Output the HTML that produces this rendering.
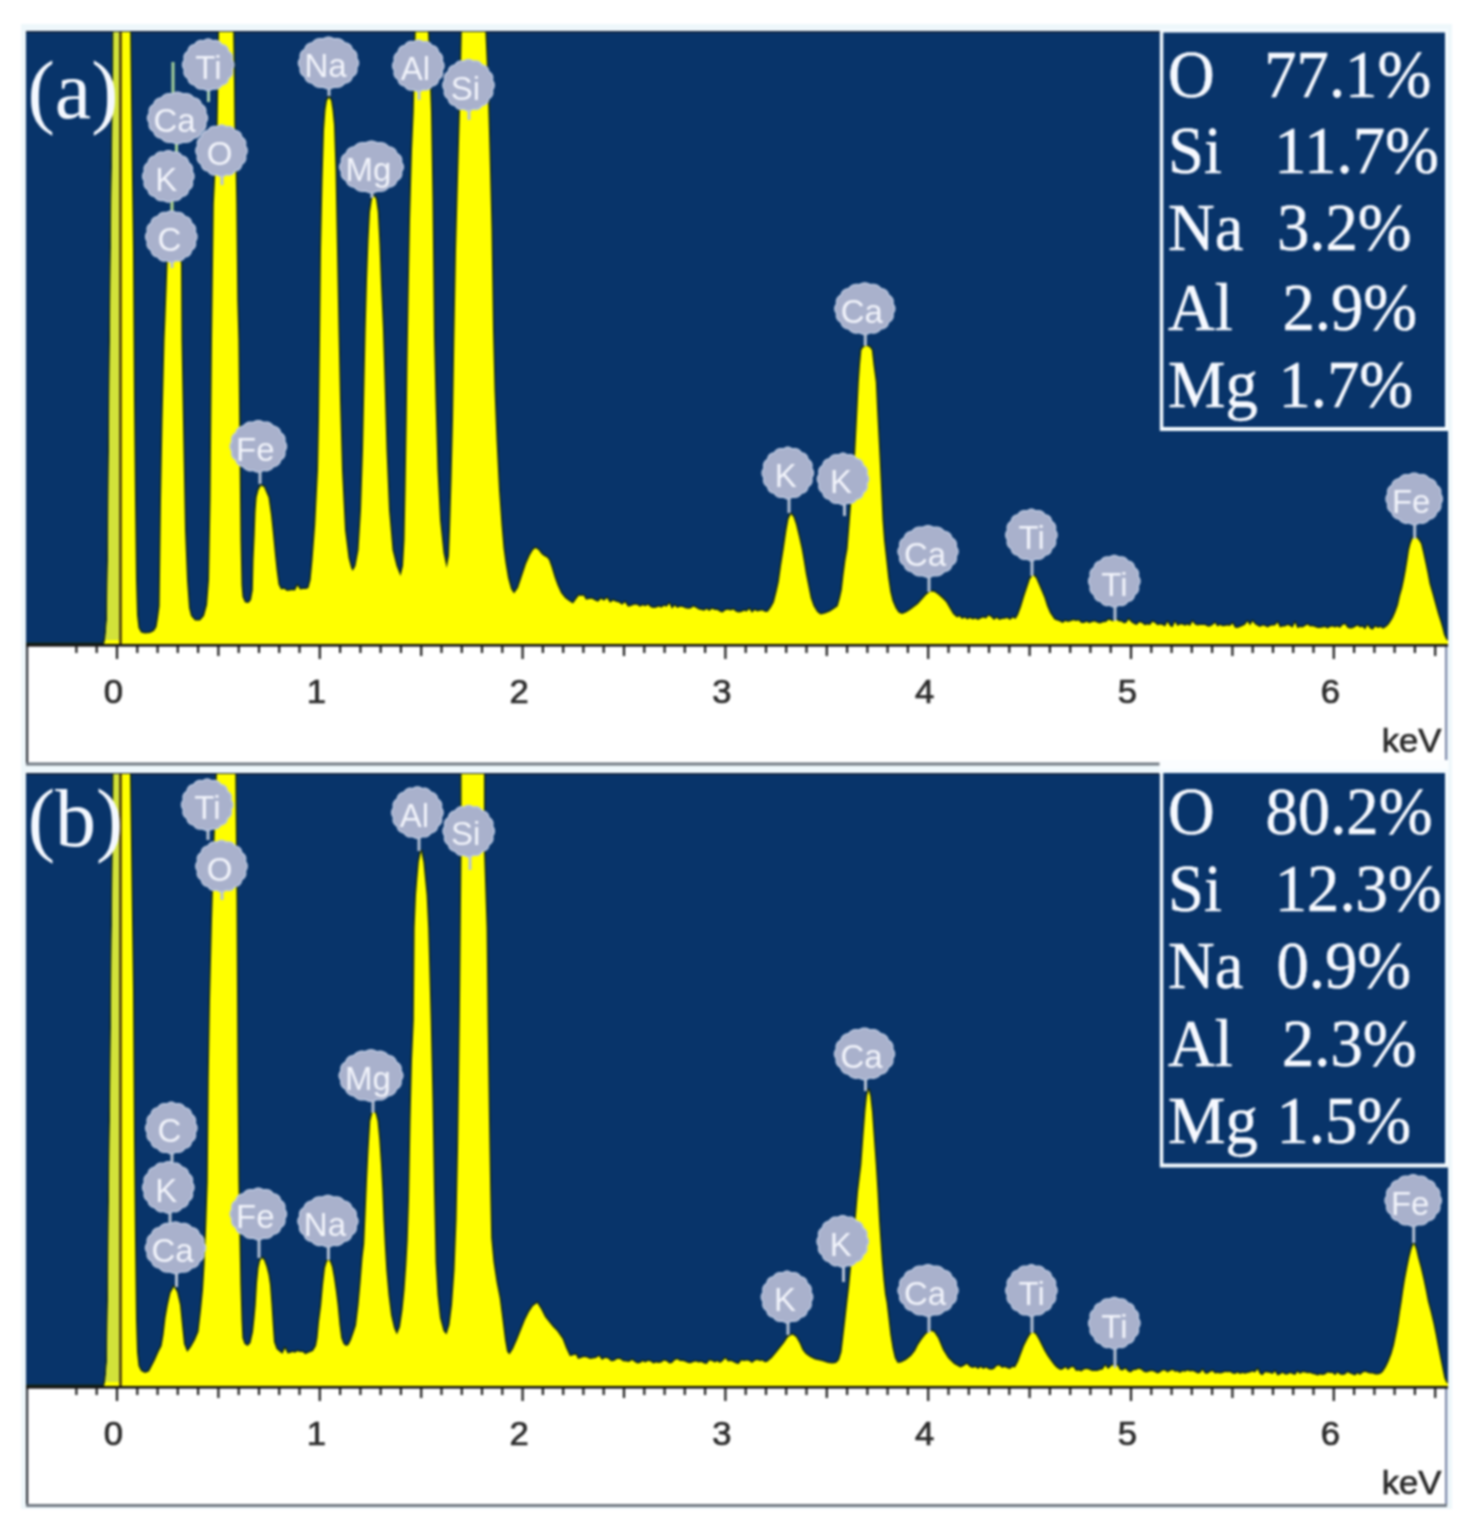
<!DOCTYPE html>
<html><head><meta charset="utf-8"><title>EDS spectra</title>
<style>html,body{margin:0;padding:0;background:#fff;} svg{display:block;filter:blur(1px);}</style>
</head><body>
<svg width="1466" height="1529" viewBox="0 0 1466 1529">
<rect width="1466" height="1529" fill="#ffffff"/>
<rect x="21" y="24" width="1431" height="743.5" fill="#eef7fb"/>
<rect x="26" y="31" width="1422" height="613" fill="#08346a"/>
<rect x="26" y="31" width="1422" height="1.6" fill="#16243c"/>
<clipPath id="ca"><rect x="26" y="32" width="1422" height="612"/></clipPath>
<g clip-path="url(#ca)">
<path d="M26.0,644.0 L104.0,644.0 L105.5,638.0 L107.0,620.0 L108.0,560.0 L109.0,450.0 L110.0,340.0 L111.5,200.0 L113.3,80.0 L113.8,0.0 L129.8,0.0 L130.8,80.0 L132.0,180.0 L133.0,250.0 L134.0,400.0 L135.0,500.0 L136.0,580.0 L137.0,615.0 L138.5,628.0 L141.0,632.5 L145.0,633.5 L150.0,633.0 L154.0,631.0 L156.5,627.0 L158.0,618.0 L159.6,606.0 L161.0,500.0 L162.5,420.0 L164.5,340.0 L165.4,319.0 L166.5,290.0 L167.5,263.0 L170.0,255.0 L174.0,252.0 L178.0,255.0 L181.0,263.0 L181.5,340.0 L183.5,450.0 L185.0,530.0 L187.0,580.0 L189.0,608.0 L191.0,616.0 L195.0,620.5 L200.0,620.5 L204.0,616.0 L207.0,605.0 L209.0,580.0 L210.5,500.0 L212.0,340.0 L213.8,204.0 L216.5,150.0 L217.6,124.0 L218.3,82.0 L219.0,30.0 L219.0,0.0 L233.2,0.0 L233.2,30.0 L234.0,82.0 L234.4,124.0 L235.3,150.0 L236.3,204.0 L237.3,300.0 L238.4,340.0 L239.5,450.0 L240.5,540.0 L241.5,585.0 L242.5,597.0 L245.0,602.5 L248.5,603.0 L251.0,600.0 L252.8,590.0 L253.5,560.0 L254.7,534.0 L255.5,512.0 L256.6,497.5 L258.5,490.0 L261.0,485.6 L264.0,487.0 L266.5,493.0 L268.5,497.5 L271.0,515.0 L273.0,534.0 L275.0,555.0 L276.7,571.0 L278.5,584.5 L281.0,589.5 L284.0,588.7 L287.0,591.0 L290.0,590.5 L292.5,590.2 L295.0,590.5 L297.5,585.5 L300.0,589.5 L303.0,589.0 L306.0,589.0 L308.5,588.0 L310.6,580.0 L312.5,560.0 L315.2,525.0 L318.0,470.0 L319.0,420.0 L320.0,340.0 L321.0,250.0 L322.5,180.0 L324.0,130.0 L325.5,110.0 L327.0,100.5 L329.0,97.5 L331.0,100.5 L332.5,110.0 L334.0,125.0 L335.5,170.0 L337.0,250.0 L338.5,330.0 L340.0,400.0 L342.0,470.0 L345.0,530.0 L348.5,558.0 L351.0,567.5 L352.7,571.0 L355.5,566.0 L358.5,550.0 L361.0,510.0 L363.0,450.0 L364.5,380.0 L365.6,330.0 L367.0,280.0 L368.5,240.0 L370.0,212.0 L372.0,199.0 L374.0,196.0 L376.0,199.0 L377.8,212.0 L379.5,245.0 L381.0,285.0 L383.0,330.0 L384.5,380.0 L386.5,450.0 L389.0,510.0 L392.5,550.0 L396.5,566.0 L400.5,576.0 L403.0,566.0 L404.5,540.0 L405.5,490.0 L406.7,420.0 L407.5,360.0 L408.5,300.0 L410.0,220.0 L412.0,150.0 L413.7,112.0 L415.7,30.0 L415.7,0.0 L428.0,0.0 L428.0,30.0 L431.0,112.0 L432.5,200.0 L434.0,337.0 L435.5,400.0 L437.5,470.0 L440.0,520.0 L443.5,553.0 L446.7,568.0 L449.0,556.0 L450.0,530.0 L451.5,480.0 L453.0,420.0 L454.3,340.0 L456.0,250.0 L458.5,160.0 L460.5,90.0 L461.8,30.0 L461.8,0.0 L485.3,0.0 L485.3,30.0 L487.5,80.0 L489.5,150.0 L491.5,230.0 L493.0,330.0 L494.5,390.0 L496.5,440.0 L499.0,490.0 L501.5,525.0 L503.5,548.0 L505.5,563.0 L508.0,578.0 L511.0,589.0 L514.0,593.5 L518.0,588.0 L522.0,576.0 L526.0,564.0 L530.0,555.0 L533.0,550.0 L535.5,548.0 L538.5,550.0 L541.5,554.0 L544.0,556.0 L547.0,557.5 L549.0,560.0 L551.5,567.0 L554.5,577.0 L557.4,585.0 L561.0,593.0 L565.0,598.0 L569.0,601.0 L573.0,603.5 L577.0,598.0 L579.0,595.4 L581.0,596.0 L583.5,595.5 L586.0,599.8 L589.0,599.0 L592.0,598.8 L595.0,600.4 L598.0,601.8 L601.0,598.7 L604.0,600.8 L607.0,598.0 L610.0,602.8 L613.0,600.4 L616.0,601.8 L619.0,602.4 L622.0,604.8 L625.0,602.2 L628.0,606.8 L631.0,606.0 L634.0,604.8 L637.0,604.8 L640.0,606.8 L642.7,605.2 L645.3,606.2 L648.0,604.8 L650.7,607.2 L653.3,607.9 L656.0,607.8 L658.7,606.5 L661.3,607.7 L664.0,605.8 L666.7,606.8 L669.3,603.5 L672.0,608.8 L674.7,605.4 L677.3,608.1 L680.0,606.8 L682.7,607.1 L685.3,608.2 L688.0,608.8 L690.7,608.5 L693.3,606.5 L696.0,607.8 L698.7,609.5 L701.3,610.1 L704.0,610.8 L706.7,609.1 L709.3,611.0 L712.0,608.8 L714.7,609.9 L717.3,609.9 L720.0,611.8 L722.7,612.6 L725.3,610.3 L728.0,609.8 L730.7,610.6 L733.3,609.6 L736.0,611.8 L738.7,612.5 L741.3,611.9 L744.0,610.8 L746.7,611.5 L749.3,608.9 L752.0,612.8 L754.7,610.0 L757.3,611.4 L760.0,610.8 L762.6,610.6 L765.2,611.9 L767.8,611.8 L771.0,607.5 L773.9,602.2 L776.5,592.0 L778.8,581.8 L781.0,566.0 L783.7,549.0 L786.5,530.0 L788.5,519.0 L791.0,514.0 L793.5,517.0 L796.0,524.5 L799.0,537.0 L801.7,549.0 L803.8,561.0 L805.8,573.6 L808.3,586.0 L810.7,598.0 L813.5,606.0 L817.2,612.0 L820.5,614.5 L825.0,613.5 L830.0,611.5 L834.5,608.5 L837.7,606.3 L840.0,598.0 L841.8,590.0 L843.5,575.0 L845.5,560.0 L847.5,549.0 L849.5,524.5 L851.0,505.0 L852.3,495.0 L853.5,487.0 L854.8,460.0 L856.1,435.0 L857.5,408.0 L858.8,382.0 L860.0,365.0 L861.4,350.0 L863.5,347.0 L866.6,346.0 L869.5,347.0 L871.8,350.0 L873.5,365.0 L875.8,382.0 L877.0,408.0 L878.4,435.0 L879.7,460.0 L881.0,487.0 L882.5,520.0 L884.0,540.0 L886.0,558.0 L888.2,578.0 L890.3,592.0 L892.5,601.0 L895.5,608.0 L898.5,612.5 L902.0,614.0 L906.0,612.5 L910.0,610.0 L914.0,607.0 L918.0,604.0 L922.0,599.5 L926.0,595.0 L929.0,592.5 L931.6,591.4 L934.5,592.0 L938.0,594.5 L942.0,598.0 L946.0,602.0 L949.5,608.0 L953.0,614.0 L957.0,617.5 L959.5,616.2 L962.0,619.0 L964.7,617.6 L967.3,619.5 L970.0,618.0 L972.7,619.6 L975.3,618.6 L978.0,620.0 L980.7,618.5 L983.3,617.4 L986.0,618.5 L988.7,615.6 L991.3,617.2 L994.0,620.0 L996.7,617.8 L999.3,620.0 L1002.0,619.0 L1004.7,618.8 L1007.3,618.1 L1010.0,620.0 L1012.8,617.6 L1015.5,619.0 L1018.0,615.0 L1021.0,607.0 L1024.0,597.0 L1027.0,588.0 L1030.0,579.0 L1033.0,575.0 L1036.0,578.0 L1039.0,585.0 L1042.0,592.0 L1044.5,598.0 L1047.0,606.0 L1050.0,613.0 L1054.4,619.5 L1060.0,621.5 L1062.7,622.9 L1065.3,620.9 L1068.0,622.0 L1070.7,621.2 L1073.3,620.2 L1076.0,621.0 L1078.7,620.6 L1081.3,622.9 L1084.0,623.0 L1086.7,621.8 L1089.3,623.3 L1092.0,622.0 L1094.7,621.6 L1097.3,622.7 L1100.0,623.5 L1103.0,622.2 L1106.0,622.0 L1108.5,619.8 L1111.0,620.5 L1113.0,621.5 L1115.0,619.5 L1117.0,619.9 L1119.0,621.5 L1121.3,621.4 L1123.7,623.3 L1126.0,623.0 L1128.7,619.5 L1131.3,622.2 L1134.0,624.0 L1136.7,625.1 L1139.3,622.3 L1142.0,623.0 L1144.7,625.2 L1147.3,624.4 L1150.0,625.0 L1152.5,621.7 L1155.0,622.9 L1157.5,625.2 L1160.0,624.5 L1162.5,624.9 L1165.0,626.4 L1167.5,622.0 L1170.0,626.0 L1172.5,627.2 L1175.0,622.1 L1177.5,626.0 L1180.0,624.5 L1182.5,624.4 L1185.0,625.8 L1187.5,624.4 L1190.0,626.0 L1192.5,621.4 L1195.0,624.6 L1197.5,625.6 L1200.0,625.0 L1202.5,625.0 L1205.0,625.1 L1207.5,626.5 L1210.0,626.5 L1212.5,624.9 L1215.0,622.9 L1217.5,626.5 L1220.0,625.0 L1222.5,626.3 L1225.0,625.9 L1227.5,625.4 L1230.0,626.0 L1232.5,623.4 L1235.0,627.8 L1237.5,628.1 L1240.0,627.0 L1242.5,625.9 L1245.0,624.7 L1247.5,621.6 L1250.0,625.5 L1252.5,621.2 L1255.0,624.2 L1257.5,625.8 L1260.0,627.0 L1262.5,625.5 L1265.0,626.1 L1267.5,627.6 L1270.0,626.0 L1272.5,625.6 L1275.0,625.5 L1277.5,622.5 L1280.0,627.5 L1282.5,626.5 L1285.0,626.6 L1287.5,625.0 L1290.0,626.0 L1292.5,627.8 L1295.0,622.7 L1297.5,628.3 L1300.0,627.0 L1302.5,627.5 L1305.0,626.0 L1307.5,624.4 L1310.0,626.5 L1312.5,626.2 L1315.0,627.1 L1317.5,628.1 L1320.0,628.0 L1322.5,627.4 L1325.0,626.9 L1327.5,628.4 L1330.0,627.0 L1332.5,626.6 L1335.0,627.6 L1337.5,626.5 L1340.0,628.0 L1342.5,624.9 L1345.0,624.3 L1347.5,627.7 L1350.0,628.5 L1352.5,628.2 L1355.0,626.9 L1357.5,625.6 L1360.0,627.5 L1362.5,626.7 L1365.0,629.6 L1367.5,625.3 L1370.0,628.5 L1372.7,629.7 L1375.3,626.4 L1378.0,628.0 L1380.5,626.9 L1383.0,628.8 L1386.0,627.0 L1388.7,624.6 L1391.0,621.0 L1393.0,617.8 L1395.5,612.0 L1398.0,605.0 L1400.0,596.0 L1402.3,588.0 L1404.0,580.0 L1405.7,571.0 L1407.5,560.0 L1409.0,550.0 L1410.5,544.0 L1412.5,538.5 L1414.2,536.5 L1416.5,537.5 L1419.0,540.5 L1421.0,543.8 L1423.0,552.0 L1425.3,562.5 L1427.5,573.0 L1429.5,583.8 L1432.5,594.0 L1435.5,605.0 L1438.0,614.0 L1440.6,622.0 L1442.5,628.5 L1444.0,634.8 L1446.0,639.0 L1448.0,641.0 L1448.0,644.0 Z" fill="#ffff00" stroke="#13291c" stroke-width="3.2" stroke-linejoin="round" paint-order="stroke"/>
<clipPath id="cas"><path d="M26.0,644.0 L104.0,644.0 L105.5,638.0 L107.0,620.0 L108.0,560.0 L109.0,450.0 L110.0,340.0 L111.5,200.0 L113.3,80.0 L113.8,0.0 L129.8,0.0 L130.8,80.0 L132.0,180.0 L133.0,250.0 L134.0,400.0 L135.0,500.0 L136.0,580.0 L137.0,615.0 L138.5,628.0 L141.0,632.5 L145.0,633.5 L150.0,633.0 L154.0,631.0 L156.5,627.0 L158.0,618.0 L159.6,606.0 L161.0,500.0 L162.5,420.0 L164.5,340.0 L165.4,319.0 L166.5,290.0 L167.5,263.0 L170.0,255.0 L174.0,252.0 L178.0,255.0 L181.0,263.0 L181.5,340.0 L183.5,450.0 L185.0,530.0 L187.0,580.0 L189.0,608.0 L191.0,616.0 L195.0,620.5 L200.0,620.5 L204.0,616.0 L207.0,605.0 L209.0,580.0 L210.5,500.0 L212.0,340.0 L213.8,204.0 L216.5,150.0 L217.6,124.0 L218.3,82.0 L219.0,30.0 L219.0,0.0 L233.2,0.0 L233.2,30.0 L234.0,82.0 L234.4,124.0 L235.3,150.0 L236.3,204.0 L237.3,300.0 L238.4,340.0 L239.5,450.0 L240.5,540.0 L241.5,585.0 L242.5,597.0 L245.0,602.5 L248.5,603.0 L251.0,600.0 L252.8,590.0 L253.5,560.0 L254.7,534.0 L255.5,512.0 L256.6,497.5 L258.5,490.0 L261.0,485.6 L264.0,487.0 L266.5,493.0 L268.5,497.5 L271.0,515.0 L273.0,534.0 L275.0,555.0 L276.7,571.0 L278.5,584.5 L281.0,589.5 L284.0,588.7 L287.0,591.0 L290.0,590.5 L292.5,590.2 L295.0,590.5 L297.5,585.5 L300.0,589.5 L303.0,589.0 L306.0,589.0 L308.5,588.0 L310.6,580.0 L312.5,560.0 L315.2,525.0 L318.0,470.0 L319.0,420.0 L320.0,340.0 L321.0,250.0 L322.5,180.0 L324.0,130.0 L325.5,110.0 L327.0,100.5 L329.0,97.5 L331.0,100.5 L332.5,110.0 L334.0,125.0 L335.5,170.0 L337.0,250.0 L338.5,330.0 L340.0,400.0 L342.0,470.0 L345.0,530.0 L348.5,558.0 L351.0,567.5 L352.7,571.0 L355.5,566.0 L358.5,550.0 L361.0,510.0 L363.0,450.0 L364.5,380.0 L365.6,330.0 L367.0,280.0 L368.5,240.0 L370.0,212.0 L372.0,199.0 L374.0,196.0 L376.0,199.0 L377.8,212.0 L379.5,245.0 L381.0,285.0 L383.0,330.0 L384.5,380.0 L386.5,450.0 L389.0,510.0 L392.5,550.0 L396.5,566.0 L400.5,576.0 L403.0,566.0 L404.5,540.0 L405.5,490.0 L406.7,420.0 L407.5,360.0 L408.5,300.0 L410.0,220.0 L412.0,150.0 L413.7,112.0 L415.7,30.0 L415.7,0.0 L428.0,0.0 L428.0,30.0 L431.0,112.0 L432.5,200.0 L434.0,337.0 L435.5,400.0 L437.5,470.0 L440.0,520.0 L443.5,553.0 L446.7,568.0 L449.0,556.0 L450.0,530.0 L451.5,480.0 L453.0,420.0 L454.3,340.0 L456.0,250.0 L458.5,160.0 L460.5,90.0 L461.8,30.0 L461.8,0.0 L485.3,0.0 L485.3,30.0 L487.5,80.0 L489.5,150.0 L491.5,230.0 L493.0,330.0 L494.5,390.0 L496.5,440.0 L499.0,490.0 L501.5,525.0 L503.5,548.0 L505.5,563.0 L508.0,578.0 L511.0,589.0 L514.0,593.5 L518.0,588.0 L522.0,576.0 L526.0,564.0 L530.0,555.0 L533.0,550.0 L535.5,548.0 L538.5,550.0 L541.5,554.0 L544.0,556.0 L547.0,557.5 L549.0,560.0 L551.5,567.0 L554.5,577.0 L557.4,585.0 L561.0,593.0 L565.0,598.0 L569.0,601.0 L573.0,603.5 L577.0,598.0 L579.0,595.4 L581.0,596.0 L583.5,595.5 L586.0,599.8 L589.0,599.0 L592.0,598.8 L595.0,600.4 L598.0,601.8 L601.0,598.7 L604.0,600.8 L607.0,598.0 L610.0,602.8 L613.0,600.4 L616.0,601.8 L619.0,602.4 L622.0,604.8 L625.0,602.2 L628.0,606.8 L631.0,606.0 L634.0,604.8 L637.0,604.8 L640.0,606.8 L642.7,605.2 L645.3,606.2 L648.0,604.8 L650.7,607.2 L653.3,607.9 L656.0,607.8 L658.7,606.5 L661.3,607.7 L664.0,605.8 L666.7,606.8 L669.3,603.5 L672.0,608.8 L674.7,605.4 L677.3,608.1 L680.0,606.8 L682.7,607.1 L685.3,608.2 L688.0,608.8 L690.7,608.5 L693.3,606.5 L696.0,607.8 L698.7,609.5 L701.3,610.1 L704.0,610.8 L706.7,609.1 L709.3,611.0 L712.0,608.8 L714.7,609.9 L717.3,609.9 L720.0,611.8 L722.7,612.6 L725.3,610.3 L728.0,609.8 L730.7,610.6 L733.3,609.6 L736.0,611.8 L738.7,612.5 L741.3,611.9 L744.0,610.8 L746.7,611.5 L749.3,608.9 L752.0,612.8 L754.7,610.0 L757.3,611.4 L760.0,610.8 L762.6,610.6 L765.2,611.9 L767.8,611.8 L771.0,607.5 L773.9,602.2 L776.5,592.0 L778.8,581.8 L781.0,566.0 L783.7,549.0 L786.5,530.0 L788.5,519.0 L791.0,514.0 L793.5,517.0 L796.0,524.5 L799.0,537.0 L801.7,549.0 L803.8,561.0 L805.8,573.6 L808.3,586.0 L810.7,598.0 L813.5,606.0 L817.2,612.0 L820.5,614.5 L825.0,613.5 L830.0,611.5 L834.5,608.5 L837.7,606.3 L840.0,598.0 L841.8,590.0 L843.5,575.0 L845.5,560.0 L847.5,549.0 L849.5,524.5 L851.0,505.0 L852.3,495.0 L853.5,487.0 L854.8,460.0 L856.1,435.0 L857.5,408.0 L858.8,382.0 L860.0,365.0 L861.4,350.0 L863.5,347.0 L866.6,346.0 L869.5,347.0 L871.8,350.0 L873.5,365.0 L875.8,382.0 L877.0,408.0 L878.4,435.0 L879.7,460.0 L881.0,487.0 L882.5,520.0 L884.0,540.0 L886.0,558.0 L888.2,578.0 L890.3,592.0 L892.5,601.0 L895.5,608.0 L898.5,612.5 L902.0,614.0 L906.0,612.5 L910.0,610.0 L914.0,607.0 L918.0,604.0 L922.0,599.5 L926.0,595.0 L929.0,592.5 L931.6,591.4 L934.5,592.0 L938.0,594.5 L942.0,598.0 L946.0,602.0 L949.5,608.0 L953.0,614.0 L957.0,617.5 L959.5,616.2 L962.0,619.0 L964.7,617.6 L967.3,619.5 L970.0,618.0 L972.7,619.6 L975.3,618.6 L978.0,620.0 L980.7,618.5 L983.3,617.4 L986.0,618.5 L988.7,615.6 L991.3,617.2 L994.0,620.0 L996.7,617.8 L999.3,620.0 L1002.0,619.0 L1004.7,618.8 L1007.3,618.1 L1010.0,620.0 L1012.8,617.6 L1015.5,619.0 L1018.0,615.0 L1021.0,607.0 L1024.0,597.0 L1027.0,588.0 L1030.0,579.0 L1033.0,575.0 L1036.0,578.0 L1039.0,585.0 L1042.0,592.0 L1044.5,598.0 L1047.0,606.0 L1050.0,613.0 L1054.4,619.5 L1060.0,621.5 L1062.7,622.9 L1065.3,620.9 L1068.0,622.0 L1070.7,621.2 L1073.3,620.2 L1076.0,621.0 L1078.7,620.6 L1081.3,622.9 L1084.0,623.0 L1086.7,621.8 L1089.3,623.3 L1092.0,622.0 L1094.7,621.6 L1097.3,622.7 L1100.0,623.5 L1103.0,622.2 L1106.0,622.0 L1108.5,619.8 L1111.0,620.5 L1113.0,621.5 L1115.0,619.5 L1117.0,619.9 L1119.0,621.5 L1121.3,621.4 L1123.7,623.3 L1126.0,623.0 L1128.7,619.5 L1131.3,622.2 L1134.0,624.0 L1136.7,625.1 L1139.3,622.3 L1142.0,623.0 L1144.7,625.2 L1147.3,624.4 L1150.0,625.0 L1152.5,621.7 L1155.0,622.9 L1157.5,625.2 L1160.0,624.5 L1162.5,624.9 L1165.0,626.4 L1167.5,622.0 L1170.0,626.0 L1172.5,627.2 L1175.0,622.1 L1177.5,626.0 L1180.0,624.5 L1182.5,624.4 L1185.0,625.8 L1187.5,624.4 L1190.0,626.0 L1192.5,621.4 L1195.0,624.6 L1197.5,625.6 L1200.0,625.0 L1202.5,625.0 L1205.0,625.1 L1207.5,626.5 L1210.0,626.5 L1212.5,624.9 L1215.0,622.9 L1217.5,626.5 L1220.0,625.0 L1222.5,626.3 L1225.0,625.9 L1227.5,625.4 L1230.0,626.0 L1232.5,623.4 L1235.0,627.8 L1237.5,628.1 L1240.0,627.0 L1242.5,625.9 L1245.0,624.7 L1247.5,621.6 L1250.0,625.5 L1252.5,621.2 L1255.0,624.2 L1257.5,625.8 L1260.0,627.0 L1262.5,625.5 L1265.0,626.1 L1267.5,627.6 L1270.0,626.0 L1272.5,625.6 L1275.0,625.5 L1277.5,622.5 L1280.0,627.5 L1282.5,626.5 L1285.0,626.6 L1287.5,625.0 L1290.0,626.0 L1292.5,627.8 L1295.0,622.7 L1297.5,628.3 L1300.0,627.0 L1302.5,627.5 L1305.0,626.0 L1307.5,624.4 L1310.0,626.5 L1312.5,626.2 L1315.0,627.1 L1317.5,628.1 L1320.0,628.0 L1322.5,627.4 L1325.0,626.9 L1327.5,628.4 L1330.0,627.0 L1332.5,626.6 L1335.0,627.6 L1337.5,626.5 L1340.0,628.0 L1342.5,624.9 L1345.0,624.3 L1347.5,627.7 L1350.0,628.5 L1352.5,628.2 L1355.0,626.9 L1357.5,625.6 L1360.0,627.5 L1362.5,626.7 L1365.0,629.6 L1367.5,625.3 L1370.0,628.5 L1372.7,629.7 L1375.3,626.4 L1378.0,628.0 L1380.5,626.9 L1383.0,628.8 L1386.0,627.0 L1388.7,624.6 L1391.0,621.0 L1393.0,617.8 L1395.5,612.0 L1398.0,605.0 L1400.0,596.0 L1402.3,588.0 L1404.0,580.0 L1405.7,571.0 L1407.5,560.0 L1409.0,550.0 L1410.5,544.0 L1412.5,538.5 L1414.2,536.5 L1416.5,537.5 L1419.0,540.5 L1421.0,543.8 L1423.0,552.0 L1425.3,562.5 L1427.5,573.0 L1429.5,583.8 L1432.5,594.0 L1435.5,605.0 L1438.0,614.0 L1440.6,622.0 L1442.5,628.5 L1444.0,634.8 L1446.0,639.0 L1448.0,641.0 L1448.0,644.0 Z"/></clipPath>
<rect x="100" y="31" width="19.5" height="609" fill="#d2e23a" clip-path="url(#cas)"/>
<rect x="119.3" y="31" width="2.4" height="613" fill="#3a2a10"/>
</g>
<g fill="none" stroke="#b6c2d4" stroke-width="3">
<line x1="173" y1="62" x2="173" y2="93" stroke="#a6d29a"/>
<line x1="208.5" y1="88" x2="208.5" y2="102" stroke="#a8cfb0"/>
<line x1="176.5" y1="141" x2="176.5" y2="153" stroke="#a6d29a"/>
<line x1="172" y1="199" x2="172" y2="213" stroke="#b4d890"/>
<line x1="172" y1="261" x2="172" y2="268"/>
<line x1="222" y1="175" x2="222" y2="185"/>
<line x1="329" y1="87" x2="329" y2="96"/>
<line x1="372" y1="191" x2="372" y2="198"/>
<line x1="419" y1="90" x2="419" y2="100"/>
<line x1="469" y1="109" x2="469" y2="120"/>
<line x1="260" y1="470" x2="260" y2="484"/>
<line x1="865.3" y1="333" x2="865.3" y2="346"/>
<line x1="789" y1="497" x2="789" y2="513"/>
<line x1="844.5" y1="503" x2="844.5" y2="516"/>
<line x1="929" y1="575" x2="929" y2="592"/>
<line x1="1032" y1="559" x2="1032" y2="576"/>
<line x1="1115" y1="605" x2="1115" y2="621"/>
<line x1="1414.7" y1="523" x2="1414.7" y2="539"/>
</g>
<g fill="#a9b1cc" stroke="#b9c6df" stroke-width="1.6">
<path d="M233.8,64.8 L233.7,65.8 L233.5,66.8 L233.1,67.8 L232.6,68.7 L232.0,69.6 L232.2,70.6 L232.3,71.6 L232.3,72.6 L232.2,73.7 L231.9,74.6 L231.4,75.5 L230.8,76.3 L230.1,77.1 L229.3,77.7 L228.4,78.3 L228.2,79.3 L227.9,80.3 L227.5,81.3 L227.0,82.2 L226.3,82.9 L225.5,83.6 L224.7,84.1 L223.7,84.5 L222.7,84.8 L221.7,85.0 L221.1,85.9 L220.4,86.7 L219.7,87.4 L218.9,88.0 L218.0,88.5 L217.0,88.8 L216.0,89.0 L215.0,89.0 L214.0,88.9 L212.9,88.7 L212.1,89.2 L211.1,89.7 L210.2,90.1 L209.2,90.4 L208.2,90.4 L207.2,90.4 L206.2,90.1 L205.3,89.7 L204.3,89.2 L203.5,88.7 L202.4,88.9 L201.4,89.0 L200.4,89.0 L199.4,88.8 L198.4,88.5 L197.5,88.0 L196.7,87.4 L196.0,86.7 L195.3,85.9 L194.7,85.0 L193.7,84.8 L192.7,84.5 L191.7,84.1 L190.9,83.6 L190.1,82.9 L189.4,82.2 L188.9,81.3 L188.5,80.3 L188.2,79.3 L188.0,78.3 L187.1,77.7 L186.3,77.1 L185.6,76.3 L185.0,75.5 L184.5,74.6 L184.2,73.7 L184.1,72.6 L184.1,71.6 L184.2,70.6 L184.4,69.6 L183.8,68.7 L183.3,67.8 L182.9,66.8 L182.7,65.8 L182.6,64.8 L182.7,63.8 L182.9,62.8 L183.3,61.8 L183.8,60.9 L184.4,60.0 L184.2,59.0 L184.1,58.0 L184.1,57.0 L184.2,55.9 L184.5,55.0 L185.0,54.1 L185.6,53.3 L186.3,52.5 L187.1,51.9 L188.0,51.3 L188.2,50.3 L188.5,49.3 L188.9,48.3 L189.4,47.4 L190.1,46.7 L190.9,46.0 L191.7,45.5 L192.7,45.1 L193.7,44.8 L194.7,44.6 L195.3,43.7 L196.0,42.9 L196.7,42.2 L197.5,41.6 L198.4,41.1 L199.4,40.8 L200.4,40.6 L201.4,40.6 L202.4,40.7 L203.5,40.9 L204.3,40.4 L205.3,39.9 L206.2,39.5 L207.2,39.2 L208.2,39.1 L209.2,39.2 L210.2,39.5 L211.1,39.9 L212.1,40.4 L212.9,40.9 L214.0,40.7 L215.0,40.6 L216.0,40.6 L217.0,40.8 L218.0,41.1 L218.9,41.6 L219.7,42.2 L220.4,42.9 L221.1,43.7 L221.7,44.6 L222.7,44.8 L223.7,45.1 L224.7,45.5 L225.5,46.0 L226.3,46.7 L227.0,47.4 L227.5,48.3 L227.9,49.3 L228.2,50.3 L228.4,51.3 L229.3,51.9 L230.1,52.5 L230.8,53.3 L231.4,54.1 L231.9,55.0 L232.2,55.9 L232.3,57.0 L232.3,58.0 L232.2,59.0 L232.0,60.0 L232.6,60.9 L233.1,61.8 L233.5,62.8 L233.7,63.8 Z"/>
<path d="M207.4,118.0 L207.4,119.0 L207.1,120.0 L206.7,121.0 L206.2,121.9 L205.6,122.8 L205.7,123.8 L205.8,124.8 L205.7,125.8 L205.5,126.9 L205.2,127.8 L204.6,128.7 L204.0,129.5 L203.2,130.3 L202.3,130.9 L201.3,131.5 L201.0,132.5 L200.6,133.5 L200.1,134.5 L199.4,135.4 L198.7,136.1 L197.8,136.8 L196.8,137.3 L195.7,137.7 L194.6,138.0 L193.4,138.2 L192.7,139.1 L191.9,139.9 L191.0,140.6 L190.0,141.2 L189.0,141.7 L187.8,142.0 L186.7,142.2 L185.5,142.2 L184.3,142.1 L183.1,141.9 L182.0,142.4 L181.0,142.9 L179.8,143.3 L178.7,143.6 L177.5,143.7 L176.3,143.6 L175.2,143.3 L174.0,142.9 L173.0,142.4 L171.9,141.9 L170.7,142.1 L169.5,142.2 L168.3,142.2 L167.2,142.0 L166.0,141.7 L165.0,141.2 L164.0,140.6 L163.1,139.9 L162.3,139.1 L161.6,138.2 L160.4,138.0 L159.3,137.7 L158.2,137.3 L157.2,136.8 L156.3,136.1 L155.6,135.4 L154.9,134.5 L154.4,133.5 L154.0,132.5 L153.7,131.5 L152.7,130.9 L151.8,130.3 L151.0,129.5 L150.4,128.7 L149.8,127.8 L149.5,126.9 L149.3,125.8 L149.2,124.8 L149.3,123.8 L149.4,122.8 L148.8,121.9 L148.3,121.0 L147.9,120.0 L147.6,119.0 L147.6,118.0 L147.6,117.0 L147.9,116.0 L148.3,115.0 L148.8,114.1 L149.4,113.2 L149.3,112.2 L149.2,111.2 L149.3,110.2 L149.5,109.1 L149.8,108.2 L150.4,107.3 L151.0,106.5 L151.8,105.7 L152.7,105.1 L153.7,104.5 L154.0,103.5 L154.4,102.5 L154.9,101.5 L155.6,100.6 L156.3,99.9 L157.2,99.2 L158.2,98.7 L159.3,98.3 L160.4,98.0 L161.6,97.8 L162.3,96.9 L163.1,96.1 L164.0,95.4 L165.0,94.8 L166.0,94.3 L167.2,94.0 L168.3,93.8 L169.5,93.8 L170.7,93.9 L171.9,94.1 L173.0,93.6 L174.0,93.1 L175.2,92.7 L176.3,92.4 L177.5,92.3 L178.7,92.4 L179.8,92.7 L181.0,93.1 L182.0,93.6 L183.1,94.1 L184.3,93.9 L185.5,93.8 L186.7,93.8 L187.8,94.0 L189.0,94.3 L190.0,94.8 L191.0,95.4 L191.9,96.1 L192.7,96.9 L193.4,97.8 L194.6,98.0 L195.7,98.3 L196.8,98.7 L197.8,99.2 L198.7,99.9 L199.4,100.6 L200.1,101.5 L200.6,102.5 L201.0,103.5 L201.3,104.5 L202.3,105.1 L203.2,105.7 L204.0,106.5 L204.6,107.3 L205.2,108.2 L205.5,109.1 L205.7,110.2 L205.8,111.2 L205.7,112.2 L205.6,113.2 L206.2,114.1 L206.7,115.0 L207.1,116.0 L207.4,117.0 Z"/>
<path d="M247.1,150.7 L247.0,151.7 L246.8,152.7 L246.4,153.7 L245.9,154.6 L245.3,155.5 L245.5,156.5 L245.6,157.5 L245.6,158.5 L245.5,159.6 L245.2,160.5 L244.7,161.4 L244.1,162.2 L243.4,163.0 L242.6,163.6 L241.7,164.2 L241.5,165.2 L241.2,166.2 L240.8,167.2 L240.3,168.1 L239.6,168.8 L238.8,169.5 L238.0,170.0 L237.0,170.4 L236.0,170.7 L235.0,170.9 L234.4,171.8 L233.7,172.6 L233.0,173.3 L232.2,173.9 L231.3,174.4 L230.3,174.7 L229.3,174.9 L228.3,174.9 L227.3,174.8 L226.2,174.6 L225.4,175.1 L224.4,175.6 L223.5,176.0 L222.5,176.3 L221.5,176.3 L220.5,176.3 L219.5,176.0 L218.6,175.6 L217.6,175.1 L216.8,174.6 L215.7,174.8 L214.7,174.9 L213.7,174.9 L212.7,174.7 L211.7,174.4 L210.8,173.9 L210.0,173.3 L209.3,172.6 L208.6,171.8 L208.0,170.9 L207.0,170.7 L206.0,170.4 L205.0,170.0 L204.2,169.5 L203.4,168.8 L202.7,168.1 L202.2,167.2 L201.8,166.2 L201.5,165.2 L201.3,164.2 L200.4,163.6 L199.6,163.0 L198.9,162.2 L198.3,161.4 L197.8,160.5 L197.5,159.6 L197.4,158.5 L197.4,157.5 L197.5,156.5 L197.7,155.5 L197.1,154.6 L196.6,153.7 L196.2,152.7 L196.0,151.7 L195.9,150.7 L196.0,149.7 L196.2,148.7 L196.6,147.7 L197.1,146.8 L197.7,145.9 L197.5,144.9 L197.4,143.9 L197.4,142.9 L197.5,141.8 L197.8,140.9 L198.3,140.0 L198.9,139.2 L199.6,138.4 L200.4,137.8 L201.3,137.2 L201.5,136.2 L201.8,135.2 L202.2,134.2 L202.7,133.3 L203.4,132.6 L204.2,131.9 L205.0,131.4 L206.0,131.0 L207.0,130.7 L208.0,130.5 L208.6,129.6 L209.3,128.8 L210.0,128.1 L210.8,127.5 L211.7,127.0 L212.7,126.7 L213.7,126.5 L214.7,126.5 L215.7,126.6 L216.8,126.8 L217.6,126.3 L218.6,125.8 L219.5,125.4 L220.5,125.1 L221.5,125.0 L222.5,125.1 L223.5,125.4 L224.4,125.8 L225.4,126.3 L226.2,126.8 L227.3,126.6 L228.3,126.5 L229.3,126.5 L230.3,126.7 L231.3,127.0 L232.2,127.5 L233.0,128.1 L233.7,128.8 L234.4,129.6 L235.0,130.5 L236.0,130.7 L237.0,131.0 L238.0,131.4 L238.8,131.9 L239.6,132.6 L240.3,133.3 L240.8,134.2 L241.2,135.2 L241.5,136.2 L241.7,137.2 L242.6,137.8 L243.4,138.4 L244.1,139.2 L244.7,140.0 L245.2,140.9 L245.5,141.8 L245.6,142.9 L245.6,143.9 L245.5,144.9 L245.3,145.9 L245.9,146.8 L246.4,147.7 L246.8,148.7 L247.0,149.7 Z"/>
<path d="M193.9,176.3 L193.8,177.3 L193.6,178.3 L193.2,179.3 L192.7,180.2 L192.1,181.1 L192.3,182.1 L192.4,183.1 L192.4,184.1 L192.3,185.2 L192.0,186.1 L191.5,187.0 L190.9,187.8 L190.2,188.6 L189.4,189.2 L188.5,189.8 L188.3,190.8 L188.0,191.8 L187.6,192.8 L187.1,193.7 L186.4,194.4 L185.6,195.1 L184.8,195.6 L183.8,196.0 L182.8,196.3 L181.8,196.5 L181.2,197.4 L180.5,198.2 L179.8,198.9 L179.0,199.5 L178.1,200.0 L177.1,200.3 L176.1,200.5 L175.1,200.5 L174.1,200.4 L173.0,200.2 L172.2,200.7 L171.2,201.2 L170.3,201.6 L169.3,201.9 L168.3,202.0 L167.3,201.9 L166.3,201.6 L165.4,201.2 L164.4,200.7 L163.6,200.2 L162.5,200.4 L161.5,200.5 L160.5,200.5 L159.5,200.3 L158.5,200.0 L157.6,199.5 L156.8,198.9 L156.1,198.2 L155.4,197.4 L154.8,196.5 L153.8,196.3 L152.8,196.0 L151.8,195.6 L151.0,195.1 L150.2,194.4 L149.5,193.7 L149.0,192.8 L148.6,191.8 L148.3,190.8 L148.1,189.8 L147.2,189.2 L146.4,188.6 L145.7,187.8 L145.1,187.0 L144.6,186.1 L144.3,185.2 L144.2,184.1 L144.2,183.1 L144.3,182.1 L144.5,181.1 L143.9,180.2 L143.4,179.3 L143.0,178.3 L142.8,177.3 L142.7,176.3 L142.8,175.3 L143.0,174.3 L143.4,173.3 L143.9,172.4 L144.5,171.5 L144.3,170.5 L144.2,169.5 L144.2,168.5 L144.3,167.4 L144.6,166.5 L145.1,165.6 L145.7,164.8 L146.4,164.0 L147.2,163.4 L148.1,162.8 L148.3,161.8 L148.6,160.8 L149.0,159.8 L149.5,158.9 L150.2,158.2 L151.0,157.5 L151.8,157.0 L152.8,156.6 L153.8,156.3 L154.8,156.1 L155.4,155.2 L156.1,154.4 L156.8,153.7 L157.6,153.1 L158.5,152.6 L159.5,152.3 L160.5,152.1 L161.5,152.1 L162.5,152.2 L163.6,152.4 L164.4,151.9 L165.4,151.4 L166.3,151.0 L167.3,150.7 L168.3,150.7 L169.3,150.7 L170.3,151.0 L171.2,151.4 L172.2,151.9 L173.0,152.4 L174.1,152.2 L175.1,152.1 L176.1,152.1 L177.1,152.3 L178.1,152.6 L179.0,153.1 L179.8,153.7 L180.5,154.4 L181.2,155.2 L181.8,156.1 L182.8,156.3 L183.8,156.6 L184.8,157.0 L185.6,157.5 L186.4,158.2 L187.1,158.9 L187.6,159.8 L188.0,160.8 L188.3,161.8 L188.5,162.8 L189.4,163.4 L190.2,164.0 L190.9,164.8 L191.5,165.6 L192.0,166.5 L192.3,167.4 L192.4,168.5 L192.4,169.5 L192.3,170.5 L192.1,171.5 L192.7,172.4 L193.2,173.3 L193.6,174.3 L193.8,175.3 Z"/>
<path d="M196.9,236.7 L196.8,237.7 L196.6,238.7 L196.2,239.7 L195.7,240.6 L195.1,241.5 L195.3,242.5 L195.4,243.5 L195.4,244.5 L195.3,245.6 L195.0,246.5 L194.5,247.4 L193.9,248.2 L193.2,249.0 L192.4,249.6 L191.5,250.2 L191.3,251.2 L191.0,252.2 L190.6,253.2 L190.1,254.1 L189.4,254.8 L188.6,255.5 L187.8,256.0 L186.8,256.4 L185.8,256.7 L184.8,256.9 L184.2,257.8 L183.5,258.6 L182.8,259.3 L182.0,259.9 L181.1,260.4 L180.1,260.7 L179.1,260.9 L178.1,260.9 L177.1,260.8 L176.0,260.6 L175.2,261.1 L174.2,261.6 L173.3,262.0 L172.3,262.3 L171.3,262.3 L170.3,262.3 L169.3,262.0 L168.4,261.6 L167.4,261.1 L166.6,260.6 L165.5,260.8 L164.5,260.9 L163.5,260.9 L162.5,260.7 L161.5,260.4 L160.6,259.9 L159.8,259.3 L159.1,258.6 L158.4,257.8 L157.8,256.9 L156.8,256.7 L155.8,256.4 L154.8,256.0 L154.0,255.5 L153.2,254.8 L152.5,254.1 L152.0,253.2 L151.6,252.2 L151.3,251.2 L151.1,250.2 L150.2,249.6 L149.4,249.0 L148.7,248.2 L148.1,247.4 L147.6,246.5 L147.3,245.6 L147.2,244.5 L147.2,243.5 L147.3,242.5 L147.5,241.5 L146.9,240.6 L146.4,239.7 L146.0,238.7 L145.8,237.7 L145.7,236.7 L145.8,235.7 L146.0,234.7 L146.4,233.7 L146.9,232.8 L147.5,231.9 L147.3,230.9 L147.2,229.9 L147.2,228.9 L147.3,227.8 L147.6,226.9 L148.1,226.0 L148.7,225.2 L149.4,224.4 L150.2,223.8 L151.1,223.2 L151.3,222.2 L151.6,221.2 L152.0,220.2 L152.5,219.3 L153.2,218.6 L154.0,217.9 L154.8,217.4 L155.8,217.0 L156.8,216.7 L157.8,216.5 L158.4,215.6 L159.1,214.8 L159.8,214.1 L160.6,213.5 L161.5,213.0 L162.5,212.7 L163.5,212.5 L164.5,212.5 L165.5,212.6 L166.6,212.8 L167.4,212.3 L168.4,211.8 L169.3,211.4 L170.3,211.1 L171.3,211.0 L172.3,211.1 L173.3,211.4 L174.2,211.8 L175.2,212.3 L176.0,212.8 L177.1,212.6 L178.1,212.5 L179.1,212.5 L180.1,212.7 L181.1,213.0 L182.0,213.5 L182.8,214.1 L183.5,214.8 L184.2,215.6 L184.8,216.5 L185.8,216.7 L186.8,217.0 L187.8,217.4 L188.6,217.9 L189.4,218.6 L190.1,219.3 L190.6,220.2 L191.0,221.2 L191.3,222.2 L191.5,223.2 L192.4,223.8 L193.2,224.4 L193.9,225.2 L194.5,226.0 L195.0,226.9 L195.3,227.8 L195.4,228.9 L195.4,229.9 L195.3,230.9 L195.1,231.9 L195.7,232.8 L196.2,233.7 L196.6,234.7 L196.8,235.7 Z"/>
<path d="M358.4,63.0 L358.4,64.0 L358.1,65.0 L357.7,66.0 L357.2,66.9 L356.6,67.8 L356.7,68.8 L356.8,69.8 L356.7,70.8 L356.5,71.9 L356.2,72.8 L355.6,73.7 L355.0,74.5 L354.2,75.3 L353.3,75.9 L352.3,76.5 L352.0,77.5 L351.6,78.5 L351.1,79.5 L350.4,80.4 L349.7,81.1 L348.8,81.8 L347.8,82.3 L346.7,82.7 L345.6,83.0 L344.4,83.2 L343.7,84.1 L342.9,84.9 L342.0,85.6 L341.0,86.2 L340.0,86.7 L338.8,87.0 L337.7,87.2 L336.5,87.2 L335.3,87.1 L334.1,86.9 L333.0,87.4 L332.0,87.9 L330.8,88.3 L329.7,88.6 L328.5,88.7 L327.3,88.6 L326.2,88.3 L325.0,87.9 L324.0,87.4 L322.9,86.9 L321.7,87.1 L320.5,87.2 L319.3,87.2 L318.2,87.0 L317.0,86.7 L316.0,86.2 L315.0,85.6 L314.1,84.9 L313.3,84.1 L312.6,83.2 L311.4,83.0 L310.3,82.7 L309.2,82.3 L308.2,81.8 L307.3,81.1 L306.6,80.4 L305.9,79.5 L305.4,78.5 L305.0,77.5 L304.7,76.5 L303.7,75.9 L302.8,75.3 L302.0,74.5 L301.4,73.7 L300.8,72.8 L300.5,71.9 L300.3,70.8 L300.2,69.8 L300.3,68.8 L300.4,67.8 L299.8,66.9 L299.3,66.0 L298.9,65.0 L298.6,64.0 L298.6,63.0 L298.6,62.0 L298.9,61.0 L299.3,60.0 L299.8,59.1 L300.4,58.2 L300.3,57.2 L300.2,56.2 L300.3,55.2 L300.5,54.1 L300.8,53.2 L301.4,52.3 L302.0,51.5 L302.8,50.7 L303.7,50.1 L304.7,49.5 L305.0,48.5 L305.4,47.5 L305.9,46.5 L306.6,45.6 L307.3,44.9 L308.2,44.2 L309.2,43.7 L310.3,43.3 L311.4,43.0 L312.6,42.8 L313.3,41.9 L314.1,41.1 L315.0,40.4 L316.0,39.8 L317.0,39.3 L318.2,39.0 L319.3,38.8 L320.5,38.8 L321.7,38.9 L322.9,39.1 L324.0,38.6 L325.0,38.1 L326.2,37.7 L327.3,37.4 L328.5,37.4 L329.7,37.4 L330.8,37.7 L332.0,38.1 L333.0,38.6 L334.1,39.1 L335.3,38.9 L336.5,38.8 L337.7,38.8 L338.8,39.0 L340.0,39.3 L341.0,39.8 L342.0,40.4 L342.9,41.1 L343.7,41.9 L344.4,42.8 L345.6,43.0 L346.7,43.3 L347.8,43.7 L348.8,44.2 L349.7,44.9 L350.4,45.6 L351.1,46.5 L351.6,47.5 L352.0,48.5 L352.3,49.5 L353.3,50.1 L354.2,50.7 L355.0,51.5 L355.6,52.3 L356.2,53.2 L356.5,54.1 L356.7,55.2 L356.8,56.2 L356.7,57.2 L356.6,58.2 L357.2,59.1 L357.7,60.0 L358.1,61.0 L358.4,62.0 Z"/>
<path d="M403.3,167.0 L403.2,168.0 L402.9,169.0 L402.5,170.0 L402.0,170.9 L401.4,171.8 L401.5,172.8 L401.6,173.8 L401.5,174.8 L401.2,175.9 L400.9,176.8 L400.3,177.7 L399.6,178.5 L398.8,179.3 L397.8,179.9 L396.8,180.5 L396.5,181.5 L396.0,182.5 L395.5,183.5 L394.8,184.4 L394.0,185.1 L393.0,185.8 L392.0,186.3 L390.8,186.7 L389.6,187.0 L388.4,187.2 L387.6,188.1 L386.8,188.9 L385.8,189.6 L384.8,190.2 L383.7,190.7 L382.5,191.0 L381.2,191.2 L380.0,191.2 L378.7,191.1 L377.4,190.9 L376.3,191.4 L375.2,191.9 L374.0,192.3 L372.7,192.6 L371.5,192.7 L370.3,192.6 L369.0,192.3 L367.8,191.9 L366.7,191.4 L365.6,190.9 L364.3,191.1 L363.0,191.2 L361.8,191.2 L360.5,191.0 L359.3,190.7 L358.2,190.2 L357.2,189.6 L356.2,188.9 L355.4,188.1 L354.6,187.2 L353.4,187.0 L352.2,186.7 L351.0,186.3 L350.0,185.8 L349.0,185.1 L348.2,184.4 L347.5,183.5 L347.0,182.5 L346.5,181.5 L346.2,180.5 L345.2,179.9 L344.2,179.3 L343.4,178.5 L342.7,177.7 L342.1,176.8 L341.8,175.9 L341.5,174.8 L341.4,173.8 L341.5,172.8 L341.6,171.8 L341.0,170.9 L340.5,170.0 L340.1,169.0 L339.8,168.0 L339.7,167.0 L339.8,166.0 L340.1,165.0 L340.5,164.0 L341.0,163.1 L341.6,162.2 L341.5,161.2 L341.4,160.2 L341.5,159.2 L341.8,158.1 L342.1,157.2 L342.7,156.3 L343.4,155.5 L344.2,154.7 L345.2,154.1 L346.2,153.5 L346.5,152.5 L347.0,151.5 L347.5,150.5 L348.2,149.6 L349.0,148.9 L350.0,148.2 L351.0,147.7 L352.2,147.3 L353.4,147.0 L354.6,146.8 L355.4,145.9 L356.2,145.1 L357.2,144.4 L358.2,143.8 L359.3,143.3 L360.5,143.0 L361.8,142.8 L363.0,142.8 L364.3,142.9 L365.6,143.1 L366.7,142.6 L367.8,142.1 L369.0,141.7 L370.3,141.4 L371.5,141.3 L372.7,141.4 L374.0,141.7 L375.2,142.1 L376.3,142.6 L377.4,143.1 L378.7,142.9 L380.0,142.8 L381.2,142.8 L382.5,143.0 L383.7,143.3 L384.8,143.8 L385.8,144.4 L386.8,145.1 L387.6,145.9 L388.4,146.8 L389.6,147.0 L390.8,147.3 L392.0,147.7 L393.0,148.2 L394.0,148.9 L394.8,149.6 L395.5,150.5 L396.0,151.5 L396.5,152.5 L396.8,153.5 L397.8,154.1 L398.8,154.7 L399.6,155.5 L400.3,156.3 L400.9,157.2 L401.2,158.1 L401.5,159.2 L401.6,160.2 L401.5,161.2 L401.4,162.2 L402.0,163.1 L402.5,164.0 L402.9,165.0 L403.2,166.0 Z"/>
<path d="M443.9,65.8 L443.8,66.8 L443.6,67.8 L443.2,68.8 L442.7,69.7 L442.1,70.6 L442.3,71.6 L442.4,72.6 L442.4,73.6 L442.3,74.7 L442.0,75.6 L441.5,76.5 L440.9,77.3 L440.2,78.1 L439.4,78.7 L438.5,79.3 L438.3,80.3 L438.0,81.3 L437.6,82.3 L437.1,83.2 L436.4,83.9 L435.6,84.6 L434.8,85.1 L433.8,85.5 L432.8,85.8 L431.8,86.0 L431.2,86.9 L430.5,87.7 L429.8,88.4 L429.0,89.0 L428.1,89.5 L427.1,89.8 L426.1,90.0 L425.1,90.0 L424.1,89.9 L423.0,89.7 L422.2,90.2 L421.2,90.7 L420.3,91.1 L419.3,91.4 L418.3,91.4 L417.3,91.4 L416.3,91.1 L415.4,90.7 L414.4,90.2 L413.6,89.7 L412.5,89.9 L411.5,90.0 L410.5,90.0 L409.5,89.8 L408.5,89.5 L407.6,89.0 L406.8,88.4 L406.1,87.7 L405.4,86.9 L404.8,86.0 L403.8,85.8 L402.8,85.5 L401.8,85.1 L401.0,84.6 L400.2,83.9 L399.5,83.2 L399.0,82.3 L398.6,81.3 L398.3,80.3 L398.1,79.3 L397.2,78.7 L396.4,78.1 L395.7,77.3 L395.1,76.5 L394.6,75.6 L394.3,74.7 L394.2,73.6 L394.2,72.6 L394.3,71.6 L394.5,70.6 L393.9,69.7 L393.4,68.8 L393.0,67.8 L392.8,66.8 L392.7,65.8 L392.8,64.8 L393.0,63.8 L393.4,62.8 L393.9,61.9 L394.5,61.0 L394.3,60.0 L394.2,59.0 L394.2,58.0 L394.3,56.9 L394.6,56.0 L395.1,55.1 L395.7,54.3 L396.4,53.5 L397.2,52.9 L398.1,52.3 L398.3,51.3 L398.6,50.3 L399.0,49.3 L399.5,48.4 L400.2,47.7 L401.0,47.0 L401.8,46.5 L402.8,46.1 L403.8,45.8 L404.8,45.6 L405.4,44.7 L406.1,43.9 L406.8,43.2 L407.6,42.6 L408.5,42.1 L409.5,41.8 L410.5,41.6 L411.5,41.6 L412.5,41.7 L413.6,41.9 L414.4,41.4 L415.4,40.9 L416.3,40.5 L417.3,40.2 L418.3,40.1 L419.3,40.2 L420.3,40.5 L421.2,40.9 L422.2,41.4 L423.0,41.9 L424.1,41.7 L425.1,41.6 L426.1,41.6 L427.1,41.8 L428.1,42.1 L429.0,42.6 L429.8,43.2 L430.5,43.9 L431.2,44.7 L431.8,45.6 L432.8,45.8 L433.8,46.1 L434.8,46.5 L435.6,47.0 L436.4,47.7 L437.1,48.4 L437.6,49.3 L438.0,50.3 L438.3,51.3 L438.5,52.3 L439.4,52.9 L440.2,53.5 L440.9,54.3 L441.5,55.1 L442.0,56.0 L442.3,56.9 L442.4,58.0 L442.4,59.0 L442.3,60.0 L442.1,61.0 L442.7,61.9 L443.2,62.8 L443.6,63.8 L443.8,64.8 Z"/>
<path d="M494.1,85.2 L494.0,86.2 L493.8,87.2 L493.4,88.2 L492.9,89.1 L492.3,90.0 L492.5,91.0 L492.6,92.0 L492.6,93.0 L492.5,94.1 L492.2,95.0 L491.7,95.9 L491.1,96.7 L490.4,97.5 L489.6,98.1 L488.7,98.7 L488.5,99.7 L488.2,100.7 L487.8,101.7 L487.3,102.6 L486.6,103.3 L485.8,104.0 L485.0,104.5 L484.0,104.9 L483.0,105.2 L482.0,105.4 L481.4,106.3 L480.7,107.1 L480.0,107.8 L479.2,108.4 L478.3,108.9 L477.3,109.2 L476.3,109.4 L475.3,109.4 L474.3,109.3 L473.2,109.1 L472.4,109.6 L471.4,110.1 L470.5,110.5 L469.5,110.8 L468.5,110.8 L467.5,110.8 L466.5,110.5 L465.6,110.1 L464.6,109.6 L463.8,109.1 L462.7,109.3 L461.7,109.4 L460.7,109.4 L459.7,109.2 L458.7,108.9 L457.8,108.4 L457.0,107.8 L456.3,107.1 L455.6,106.3 L455.0,105.4 L454.0,105.2 L453.0,104.9 L452.0,104.5 L451.2,104.0 L450.4,103.3 L449.7,102.6 L449.2,101.7 L448.8,100.7 L448.5,99.7 L448.3,98.7 L447.4,98.1 L446.6,97.5 L445.9,96.7 L445.3,95.9 L444.8,95.0 L444.5,94.1 L444.4,93.0 L444.4,92.0 L444.5,91.0 L444.7,90.0 L444.1,89.1 L443.6,88.2 L443.2,87.2 L443.0,86.2 L442.9,85.2 L443.0,84.2 L443.2,83.2 L443.6,82.2 L444.1,81.3 L444.7,80.4 L444.5,79.4 L444.4,78.4 L444.4,77.4 L444.5,76.3 L444.8,75.4 L445.3,74.5 L445.9,73.7 L446.6,72.9 L447.4,72.3 L448.3,71.7 L448.5,70.7 L448.8,69.7 L449.2,68.7 L449.7,67.8 L450.4,67.1 L451.2,66.4 L452.0,65.9 L453.0,65.5 L454.0,65.2 L455.0,65.0 L455.6,64.1 L456.3,63.3 L457.0,62.6 L457.8,62.0 L458.7,61.5 L459.7,61.2 L460.7,61.0 L461.7,61.0 L462.7,61.1 L463.8,61.3 L464.6,60.8 L465.6,60.3 L466.5,59.9 L467.5,59.6 L468.5,59.6 L469.5,59.6 L470.5,59.9 L471.4,60.3 L472.4,60.8 L473.2,61.3 L474.3,61.1 L475.3,61.0 L476.3,61.0 L477.3,61.2 L478.3,61.5 L479.2,62.0 L480.0,62.6 L480.7,63.3 L481.4,64.1 L482.0,65.0 L483.0,65.2 L484.0,65.5 L485.0,65.9 L485.8,66.4 L486.6,67.1 L487.3,67.8 L487.8,68.7 L488.2,69.7 L488.5,70.7 L488.7,71.7 L489.6,72.3 L490.4,72.9 L491.1,73.7 L491.7,74.5 L492.2,75.4 L492.5,76.3 L492.6,77.4 L492.6,78.4 L492.5,79.4 L492.3,80.4 L492.9,81.3 L493.4,82.2 L493.8,83.2 L494.0,84.2 Z"/>
<path d="M286.4,446.4 L286.3,447.4 L286.1,448.4 L285.7,449.4 L285.2,450.3 L284.6,451.2 L284.8,452.2 L284.8,453.2 L284.8,454.2 L284.6,455.3 L284.3,456.2 L283.8,457.1 L283.1,457.9 L282.4,458.7 L281.5,459.3 L280.6,459.9 L280.3,460.9 L280.0,461.9 L279.5,462.9 L278.9,463.8 L278.2,464.5 L277.3,465.2 L276.4,465.7 L275.4,466.1 L274.3,466.4 L273.2,466.6 L272.5,467.5 L271.8,468.3 L270.9,469.0 L270.0,469.6 L269.1,470.1 L268.0,470.4 L266.9,470.6 L265.8,470.6 L264.7,470.5 L263.5,470.3 L262.6,470.8 L261.5,471.3 L260.5,471.7 L259.4,472.0 L258.3,472.0 L257.2,472.0 L256.1,471.7 L255.1,471.3 L254.0,470.8 L253.1,470.3 L251.9,470.5 L250.8,470.6 L249.7,470.6 L248.6,470.4 L247.5,470.1 L246.6,469.6 L245.7,469.0 L244.8,468.3 L244.1,467.5 L243.4,466.6 L242.3,466.4 L241.2,466.1 L240.2,465.7 L239.3,465.2 L238.4,464.5 L237.7,463.8 L237.1,462.9 L236.6,461.9 L236.3,460.9 L236.0,459.9 L235.1,459.3 L234.2,458.7 L233.5,457.9 L232.8,457.1 L232.3,456.2 L232.0,455.3 L231.8,454.2 L231.8,453.2 L231.8,452.2 L232.0,451.2 L231.4,450.3 L230.9,449.4 L230.5,448.4 L230.3,447.4 L230.2,446.4 L230.3,445.4 L230.5,444.4 L230.9,443.4 L231.4,442.5 L232.0,441.6 L231.8,440.6 L231.8,439.6 L231.8,438.6 L232.0,437.5 L232.3,436.6 L232.8,435.7 L233.5,434.9 L234.2,434.1 L235.1,433.5 L236.0,432.9 L236.3,431.9 L236.6,430.9 L237.1,429.9 L237.7,429.0 L238.4,428.3 L239.3,427.6 L240.2,427.1 L241.2,426.7 L242.3,426.4 L243.4,426.2 L244.1,425.3 L244.8,424.5 L245.7,423.8 L246.6,423.2 L247.5,422.7 L248.6,422.4 L249.7,422.2 L250.8,422.2 L251.9,422.3 L253.1,422.5 L254.0,422.0 L255.1,421.5 L256.1,421.1 L257.2,420.8 L258.3,420.8 L259.4,420.8 L260.5,421.1 L261.5,421.5 L262.6,422.0 L263.5,422.5 L264.7,422.3 L265.8,422.2 L266.9,422.2 L268.0,422.4 L269.1,422.7 L270.0,423.2 L270.9,423.8 L271.8,424.5 L272.5,425.3 L273.2,426.2 L274.3,426.4 L275.4,426.7 L276.4,427.1 L277.3,427.6 L278.2,428.3 L278.9,429.0 L279.5,429.9 L280.0,430.9 L280.3,431.9 L280.6,432.9 L281.5,433.5 L282.4,434.1 L283.1,434.9 L283.8,435.7 L284.3,436.6 L284.6,437.5 L284.8,438.6 L284.8,439.6 L284.8,440.6 L284.6,441.6 L285.2,442.5 L285.7,443.4 L286.1,444.4 L286.3,445.4 Z"/>
<path d="M894.7,308.7 L894.7,309.7 L894.4,310.7 L894.0,311.7 L893.5,312.6 L892.9,313.5 L893.0,314.5 L893.1,315.5 L893.0,316.5 L892.8,317.6 L892.5,318.5 L891.9,319.4 L891.3,320.2 L890.5,321.0 L889.6,321.6 L888.6,322.2 L888.3,323.2 L887.9,324.2 L887.4,325.2 L886.7,326.1 L886.0,326.8 L885.1,327.5 L884.1,328.0 L883.0,328.4 L881.9,328.7 L880.7,328.9 L880.0,329.8 L879.2,330.6 L878.3,331.3 L877.3,331.9 L876.3,332.4 L875.1,332.7 L874.0,332.9 L872.8,332.9 L871.6,332.8 L870.4,332.6 L869.3,333.1 L868.3,333.6 L867.1,334.0 L866.0,334.3 L864.8,334.3 L863.6,334.3 L862.5,334.0 L861.3,333.6 L860.3,333.1 L859.2,332.6 L858.0,332.8 L856.8,332.9 L855.6,332.9 L854.5,332.7 L853.3,332.4 L852.3,331.9 L851.3,331.3 L850.4,330.6 L849.6,329.8 L848.9,328.9 L847.7,328.7 L846.6,328.4 L845.5,328.0 L844.5,327.5 L843.6,326.8 L842.9,326.1 L842.2,325.2 L841.7,324.2 L841.3,323.2 L841.0,322.2 L840.0,321.6 L839.1,321.0 L838.3,320.2 L837.7,319.4 L837.1,318.5 L836.8,317.6 L836.6,316.5 L836.5,315.5 L836.6,314.5 L836.7,313.5 L836.1,312.6 L835.6,311.7 L835.2,310.7 L834.9,309.7 L834.9,308.7 L834.9,307.7 L835.2,306.7 L835.6,305.7 L836.1,304.8 L836.7,303.9 L836.6,302.9 L836.5,301.9 L836.6,300.9 L836.8,299.8 L837.1,298.9 L837.7,298.0 L838.3,297.2 L839.1,296.4 L840.0,295.8 L841.0,295.2 L841.3,294.2 L841.7,293.2 L842.2,292.2 L842.9,291.3 L843.6,290.6 L844.5,289.9 L845.5,289.4 L846.6,289.0 L847.7,288.7 L848.9,288.5 L849.6,287.6 L850.4,286.8 L851.3,286.1 L852.3,285.5 L853.3,285.0 L854.5,284.7 L855.6,284.5 L856.8,284.5 L858.0,284.6 L859.2,284.8 L860.3,284.3 L861.3,283.8 L862.5,283.4 L863.6,283.1 L864.8,283.1 L866.0,283.1 L867.1,283.4 L868.3,283.8 L869.3,284.3 L870.4,284.8 L871.6,284.6 L872.8,284.5 L874.0,284.5 L875.1,284.7 L876.3,285.0 L877.3,285.5 L878.3,286.1 L879.2,286.8 L880.0,287.6 L880.7,288.5 L881.9,288.7 L883.0,289.0 L884.1,289.4 L885.1,289.9 L886.0,290.6 L886.7,291.3 L887.4,292.2 L887.9,293.2 L888.3,294.2 L888.6,295.2 L889.6,295.8 L890.5,296.4 L891.3,297.2 L891.9,298.0 L892.5,298.9 L892.8,299.8 L893.0,300.9 L893.1,301.9 L893.0,302.9 L892.9,303.9 L893.5,304.8 L894.0,305.7 L894.4,306.7 L894.7,307.7 Z"/>
<path d="M813.4,473.0 L813.3,474.0 L813.1,475.0 L812.7,476.0 L812.2,476.9 L811.6,477.8 L811.8,478.8 L811.9,479.8 L811.9,480.8 L811.8,481.9 L811.5,482.8 L811.0,483.7 L810.4,484.5 L809.7,485.3 L808.9,485.9 L808.0,486.5 L807.8,487.5 L807.5,488.5 L807.1,489.5 L806.6,490.4 L805.9,491.1 L805.1,491.8 L804.3,492.3 L803.3,492.7 L802.3,493.0 L801.3,493.2 L800.7,494.1 L800.0,494.9 L799.3,495.6 L798.5,496.2 L797.6,496.7 L796.6,497.0 L795.6,497.2 L794.6,497.2 L793.6,497.1 L792.5,496.9 L791.7,497.4 L790.7,497.9 L789.8,498.3 L788.8,498.6 L787.8,498.6 L786.8,498.6 L785.8,498.3 L784.9,497.9 L783.9,497.4 L783.1,496.9 L782.0,497.1 L781.0,497.2 L780.0,497.2 L779.0,497.0 L778.0,496.7 L777.1,496.2 L776.3,495.6 L775.6,494.9 L774.9,494.1 L774.3,493.2 L773.3,493.0 L772.3,492.7 L771.3,492.3 L770.5,491.8 L769.7,491.1 L769.0,490.4 L768.5,489.5 L768.1,488.5 L767.8,487.5 L767.6,486.5 L766.7,485.9 L765.9,485.3 L765.2,484.5 L764.6,483.7 L764.1,482.8 L763.8,481.9 L763.7,480.8 L763.7,479.8 L763.8,478.8 L764.0,477.8 L763.4,476.9 L762.9,476.0 L762.5,475.0 L762.3,474.0 L762.2,473.0 L762.3,472.0 L762.5,471.0 L762.9,470.0 L763.4,469.1 L764.0,468.2 L763.8,467.2 L763.7,466.2 L763.7,465.2 L763.8,464.1 L764.1,463.2 L764.6,462.3 L765.2,461.5 L765.9,460.7 L766.7,460.1 L767.6,459.5 L767.8,458.5 L768.1,457.5 L768.5,456.5 L769.0,455.6 L769.7,454.9 L770.5,454.2 L771.3,453.7 L772.3,453.3 L773.3,453.0 L774.3,452.8 L774.9,451.9 L775.6,451.1 L776.3,450.4 L777.1,449.8 L778.0,449.3 L779.0,449.0 L780.0,448.8 L781.0,448.8 L782.0,448.9 L783.1,449.1 L783.9,448.6 L784.9,448.1 L785.8,447.7 L786.8,447.4 L787.8,447.4 L788.8,447.4 L789.8,447.7 L790.7,448.1 L791.7,448.6 L792.5,449.1 L793.6,448.9 L794.6,448.8 L795.6,448.8 L796.6,449.0 L797.6,449.3 L798.5,449.8 L799.3,450.4 L800.0,451.1 L800.7,451.9 L801.3,452.8 L802.3,453.0 L803.3,453.3 L804.3,453.7 L805.1,454.2 L805.9,454.9 L806.6,455.6 L807.1,456.5 L807.5,457.5 L807.8,458.5 L808.0,459.5 L808.9,460.1 L809.7,460.7 L810.4,461.5 L811.0,462.3 L811.5,463.2 L811.8,464.1 L811.9,465.2 L811.9,466.2 L811.8,467.2 L811.6,468.2 L812.2,469.1 L812.7,470.0 L813.1,471.0 L813.3,472.0 Z"/>
<path d="M868.6,479.0 L868.5,480.0 L868.3,481.0 L867.9,482.0 L867.4,482.9 L866.8,483.8 L867.0,484.8 L867.1,485.8 L867.1,486.8 L867.0,487.9 L866.7,488.8 L866.2,489.7 L865.6,490.5 L864.9,491.3 L864.1,491.9 L863.2,492.5 L863.0,493.5 L862.7,494.5 L862.3,495.5 L861.8,496.4 L861.1,497.1 L860.3,497.8 L859.5,498.3 L858.5,498.7 L857.5,499.0 L856.5,499.2 L855.9,500.1 L855.2,500.9 L854.5,501.6 L853.7,502.2 L852.8,502.7 L851.8,503.0 L850.8,503.2 L849.8,503.2 L848.8,503.1 L847.7,502.9 L846.9,503.4 L845.9,503.9 L845.0,504.3 L844.0,504.6 L843.0,504.6 L842.0,504.6 L841.0,504.3 L840.1,503.9 L839.1,503.4 L838.3,502.9 L837.2,503.1 L836.2,503.2 L835.2,503.2 L834.2,503.0 L833.2,502.7 L832.3,502.2 L831.5,501.6 L830.8,500.9 L830.1,500.1 L829.5,499.2 L828.5,499.0 L827.5,498.7 L826.5,498.3 L825.7,497.8 L824.9,497.1 L824.2,496.4 L823.7,495.5 L823.3,494.5 L823.0,493.5 L822.8,492.5 L821.9,491.9 L821.1,491.3 L820.4,490.5 L819.8,489.7 L819.3,488.8 L819.0,487.9 L818.9,486.8 L818.9,485.8 L819.0,484.8 L819.2,483.8 L818.6,482.9 L818.1,482.0 L817.7,481.0 L817.5,480.0 L817.4,479.0 L817.5,478.0 L817.7,477.0 L818.1,476.0 L818.6,475.1 L819.2,474.2 L819.0,473.2 L818.9,472.2 L818.9,471.2 L819.0,470.1 L819.3,469.2 L819.8,468.3 L820.4,467.5 L821.1,466.7 L821.9,466.1 L822.8,465.5 L823.0,464.5 L823.3,463.5 L823.7,462.5 L824.2,461.6 L824.9,460.9 L825.7,460.2 L826.5,459.7 L827.5,459.3 L828.5,459.0 L829.5,458.8 L830.1,457.9 L830.8,457.1 L831.5,456.4 L832.3,455.8 L833.2,455.3 L834.2,455.0 L835.2,454.8 L836.2,454.8 L837.2,454.9 L838.3,455.1 L839.1,454.6 L840.1,454.1 L841.0,453.7 L842.0,453.4 L843.0,453.4 L844.0,453.4 L845.0,453.7 L845.9,454.1 L846.9,454.6 L847.7,455.1 L848.8,454.9 L849.8,454.8 L850.8,454.8 L851.8,455.0 L852.8,455.3 L853.7,455.8 L854.5,456.4 L855.2,457.1 L855.9,457.9 L856.5,458.8 L857.5,459.0 L858.5,459.3 L859.5,459.7 L860.3,460.2 L861.1,460.9 L861.8,461.6 L862.3,462.5 L862.7,463.5 L863.0,464.5 L863.2,465.5 L864.1,466.1 L864.9,466.7 L865.6,467.5 L866.2,468.3 L866.7,469.2 L867.0,470.1 L867.1,471.2 L867.1,472.2 L867.0,473.2 L866.8,474.2 L867.4,475.1 L867.9,476.0 L868.3,477.0 L868.5,478.0 Z"/>
<path d="M957.9,551.5 L957.9,552.5 L957.6,553.5 L957.2,554.5 L956.7,555.4 L956.1,556.3 L956.2,557.3 L956.3,558.3 L956.2,559.3 L956.0,560.4 L955.7,561.3 L955.1,562.2 L954.5,563.0 L953.7,563.8 L952.8,564.4 L951.8,565.0 L951.5,566.0 L951.1,567.0 L950.6,568.0 L949.9,568.9 L949.2,569.6 L948.3,570.3 L947.3,570.8 L946.2,571.2 L945.1,571.5 L943.9,571.7 L943.2,572.6 L942.4,573.4 L941.5,574.1 L940.5,574.7 L939.5,575.2 L938.3,575.5 L937.2,575.7 L936.0,575.7 L934.8,575.6 L933.6,575.4 L932.5,575.9 L931.5,576.4 L930.3,576.8 L929.2,577.1 L928.0,577.1 L926.8,577.1 L925.7,576.8 L924.5,576.4 L923.5,575.9 L922.4,575.4 L921.2,575.6 L920.0,575.7 L918.8,575.7 L917.7,575.5 L916.5,575.2 L915.5,574.7 L914.5,574.1 L913.6,573.4 L912.8,572.6 L912.1,571.7 L910.9,571.5 L909.8,571.2 L908.7,570.8 L907.7,570.3 L906.8,569.6 L906.1,568.9 L905.4,568.0 L904.9,567.0 L904.5,566.0 L904.2,565.0 L903.2,564.4 L902.3,563.8 L901.5,563.0 L900.9,562.2 L900.3,561.3 L900.0,560.4 L899.8,559.3 L899.7,558.3 L899.8,557.3 L899.9,556.3 L899.3,555.4 L898.8,554.5 L898.4,553.5 L898.1,552.5 L898.1,551.5 L898.1,550.5 L898.4,549.5 L898.8,548.5 L899.3,547.6 L899.9,546.7 L899.8,545.7 L899.7,544.7 L899.8,543.7 L900.0,542.6 L900.3,541.7 L900.9,540.8 L901.5,540.0 L902.3,539.2 L903.2,538.6 L904.2,538.0 L904.5,537.0 L904.9,536.0 L905.4,535.0 L906.1,534.1 L906.8,533.4 L907.7,532.7 L908.7,532.2 L909.8,531.8 L910.9,531.5 L912.1,531.3 L912.8,530.4 L913.6,529.6 L914.5,528.9 L915.5,528.3 L916.5,527.8 L917.7,527.5 L918.8,527.3 L920.0,527.3 L921.2,527.4 L922.4,527.6 L923.5,527.1 L924.5,526.6 L925.7,526.2 L926.8,525.9 L928.0,525.9 L929.2,525.9 L930.3,526.2 L931.5,526.6 L932.5,527.1 L933.6,527.6 L934.8,527.4 L936.0,527.3 L937.2,527.3 L938.3,527.5 L939.5,527.8 L940.5,528.3 L941.5,528.9 L942.4,529.6 L943.2,530.4 L943.9,531.3 L945.1,531.5 L946.2,531.8 L947.3,532.2 L948.3,532.7 L949.2,533.4 L949.9,534.1 L950.6,535.0 L951.1,536.0 L951.5,537.0 L951.8,538.0 L952.8,538.6 L953.7,539.2 L954.5,540.0 L955.1,540.8 L955.7,541.7 L956.0,542.6 L956.2,543.7 L956.3,544.7 L956.2,545.7 L956.1,546.7 L956.7,547.6 L957.2,548.5 L957.6,549.5 L957.9,550.5 Z"/>
<path d="M1057.0,535.0 L1056.9,536.0 L1056.7,537.0 L1056.3,538.0 L1055.8,538.9 L1055.2,539.8 L1055.4,540.8 L1055.5,541.8 L1055.5,542.8 L1055.4,543.9 L1055.1,544.8 L1054.6,545.7 L1054.0,546.5 L1053.3,547.3 L1052.5,547.9 L1051.6,548.5 L1051.4,549.5 L1051.1,550.5 L1050.7,551.5 L1050.2,552.4 L1049.5,553.1 L1048.7,553.8 L1047.9,554.3 L1046.9,554.7 L1045.9,555.0 L1044.9,555.2 L1044.3,556.1 L1043.6,556.9 L1042.9,557.6 L1042.1,558.2 L1041.2,558.7 L1040.2,559.0 L1039.2,559.2 L1038.2,559.2 L1037.2,559.1 L1036.1,558.9 L1035.3,559.4 L1034.3,559.9 L1033.4,560.3 L1032.4,560.6 L1031.4,560.6 L1030.4,560.6 L1029.4,560.3 L1028.5,559.9 L1027.5,559.4 L1026.7,558.9 L1025.6,559.1 L1024.6,559.2 L1023.6,559.2 L1022.6,559.0 L1021.6,558.7 L1020.7,558.2 L1019.9,557.6 L1019.2,556.9 L1018.5,556.1 L1017.9,555.2 L1016.9,555.0 L1015.9,554.7 L1014.9,554.3 L1014.1,553.8 L1013.3,553.1 L1012.6,552.4 L1012.1,551.5 L1011.7,550.5 L1011.4,549.5 L1011.2,548.5 L1010.3,547.9 L1009.5,547.3 L1008.8,546.5 L1008.2,545.7 L1007.7,544.8 L1007.4,543.9 L1007.3,542.8 L1007.3,541.8 L1007.4,540.8 L1007.6,539.8 L1007.0,538.9 L1006.5,538.0 L1006.1,537.0 L1005.9,536.0 L1005.8,535.0 L1005.9,534.0 L1006.1,533.0 L1006.5,532.0 L1007.0,531.1 L1007.6,530.2 L1007.4,529.2 L1007.3,528.2 L1007.3,527.2 L1007.4,526.1 L1007.7,525.2 L1008.2,524.3 L1008.8,523.5 L1009.5,522.7 L1010.3,522.1 L1011.2,521.5 L1011.4,520.5 L1011.7,519.5 L1012.1,518.5 L1012.6,517.6 L1013.3,516.9 L1014.1,516.2 L1014.9,515.7 L1015.9,515.3 L1016.9,515.0 L1017.9,514.8 L1018.5,513.9 L1019.2,513.1 L1019.9,512.4 L1020.7,511.8 L1021.6,511.3 L1022.6,511.0 L1023.6,510.8 L1024.6,510.8 L1025.6,510.9 L1026.7,511.1 L1027.5,510.6 L1028.5,510.1 L1029.4,509.7 L1030.4,509.4 L1031.4,509.4 L1032.4,509.4 L1033.4,509.7 L1034.3,510.1 L1035.3,510.6 L1036.1,511.1 L1037.2,510.9 L1038.2,510.8 L1039.2,510.8 L1040.2,511.0 L1041.2,511.3 L1042.1,511.8 L1042.9,512.4 L1043.6,513.1 L1044.3,513.9 L1044.9,514.8 L1045.9,515.0 L1046.9,515.3 L1047.9,515.7 L1048.7,516.2 L1049.5,516.9 L1050.2,517.6 L1050.7,518.5 L1051.1,519.5 L1051.4,520.5 L1051.6,521.5 L1052.5,522.1 L1053.3,522.7 L1054.0,523.5 L1054.6,524.3 L1055.1,525.2 L1055.4,526.1 L1055.5,527.2 L1055.5,528.2 L1055.4,529.2 L1055.2,530.2 L1055.8,531.1 L1056.3,532.0 L1056.7,533.0 L1056.9,534.0 Z"/>
<path d="M1139.9,581.2 L1139.8,582.2 L1139.6,583.2 L1139.2,584.2 L1138.7,585.1 L1138.1,586.0 L1138.3,587.0 L1138.4,588.0 L1138.4,589.0 L1138.3,590.1 L1138.0,591.0 L1137.5,591.9 L1136.9,592.7 L1136.2,593.5 L1135.4,594.1 L1134.5,594.7 L1134.3,595.7 L1134.0,596.7 L1133.6,597.7 L1133.1,598.6 L1132.4,599.3 L1131.6,600.0 L1130.8,600.5 L1129.8,600.9 L1128.8,601.2 L1127.8,601.4 L1127.2,602.3 L1126.5,603.1 L1125.8,603.8 L1125.0,604.4 L1124.1,604.9 L1123.1,605.2 L1122.1,605.4 L1121.1,605.4 L1120.1,605.3 L1119.0,605.1 L1118.2,605.6 L1117.2,606.1 L1116.3,606.5 L1115.3,606.8 L1114.3,606.9 L1113.3,606.8 L1112.3,606.5 L1111.4,606.1 L1110.4,605.6 L1109.6,605.1 L1108.5,605.3 L1107.5,605.4 L1106.5,605.4 L1105.5,605.2 L1104.5,604.9 L1103.6,604.4 L1102.8,603.8 L1102.1,603.1 L1101.4,602.3 L1100.8,601.4 L1099.8,601.2 L1098.8,600.9 L1097.8,600.5 L1097.0,600.0 L1096.2,599.3 L1095.5,598.6 L1095.0,597.7 L1094.6,596.7 L1094.3,595.7 L1094.1,594.7 L1093.2,594.1 L1092.4,593.5 L1091.7,592.7 L1091.1,591.9 L1090.6,591.0 L1090.3,590.1 L1090.2,589.0 L1090.2,588.0 L1090.3,587.0 L1090.5,586.0 L1089.9,585.1 L1089.4,584.2 L1089.0,583.2 L1088.8,582.2 L1088.7,581.2 L1088.8,580.2 L1089.0,579.2 L1089.4,578.2 L1089.9,577.3 L1090.5,576.4 L1090.3,575.4 L1090.2,574.4 L1090.2,573.4 L1090.3,572.3 L1090.6,571.4 L1091.1,570.5 L1091.7,569.7 L1092.4,568.9 L1093.2,568.3 L1094.1,567.7 L1094.3,566.7 L1094.6,565.7 L1095.0,564.7 L1095.5,563.8 L1096.2,563.1 L1097.0,562.4 L1097.8,561.9 L1098.8,561.5 L1099.8,561.2 L1100.8,561.0 L1101.4,560.1 L1102.1,559.3 L1102.8,558.6 L1103.6,558.0 L1104.5,557.5 L1105.5,557.2 L1106.5,557.0 L1107.5,557.0 L1108.5,557.1 L1109.6,557.3 L1110.4,556.8 L1111.4,556.3 L1112.3,555.9 L1113.3,555.6 L1114.3,555.6 L1115.3,555.6 L1116.3,555.9 L1117.2,556.3 L1118.2,556.8 L1119.0,557.3 L1120.1,557.1 L1121.1,557.0 L1122.1,557.0 L1123.1,557.2 L1124.1,557.5 L1125.0,558.0 L1125.8,558.6 L1126.5,559.3 L1127.2,560.1 L1127.8,561.0 L1128.8,561.2 L1129.8,561.5 L1130.8,561.9 L1131.6,562.4 L1132.4,563.1 L1133.1,563.8 L1133.6,564.7 L1134.0,565.7 L1134.3,566.7 L1134.5,567.7 L1135.4,568.3 L1136.2,568.9 L1136.9,569.7 L1137.5,570.5 L1138.0,571.4 L1138.3,572.3 L1138.4,573.4 L1138.4,574.4 L1138.3,575.4 L1138.1,576.4 L1138.7,577.3 L1139.2,578.2 L1139.6,579.2 L1139.8,580.2 Z"/>
<path d="M1442.3,498.9 L1442.2,499.9 L1442.0,500.9 L1441.6,501.9 L1441.1,502.8 L1440.5,503.7 L1440.7,504.7 L1440.7,505.7 L1440.7,506.7 L1440.5,507.8 L1440.2,508.7 L1439.7,509.6 L1439.0,510.4 L1438.3,511.2 L1437.4,511.8 L1436.5,512.4 L1436.2,513.4 L1435.9,514.4 L1435.4,515.4 L1434.8,516.3 L1434.1,517.0 L1433.2,517.7 L1432.3,518.2 L1431.3,518.6 L1430.2,518.9 L1429.1,519.1 L1428.4,520.0 L1427.7,520.8 L1426.8,521.5 L1425.9,522.1 L1425.0,522.6 L1423.9,522.9 L1422.8,523.1 L1421.7,523.1 L1420.6,523.0 L1419.4,522.8 L1418.5,523.3 L1417.4,523.8 L1416.4,524.2 L1415.3,524.5 L1414.2,524.5 L1413.1,524.5 L1412.0,524.2 L1411.0,523.8 L1409.9,523.3 L1409.0,522.8 L1407.8,523.0 L1406.7,523.1 L1405.6,523.1 L1404.5,522.9 L1403.4,522.6 L1402.5,522.1 L1401.6,521.5 L1400.7,520.8 L1400.0,520.0 L1399.3,519.1 L1398.2,518.9 L1397.1,518.6 L1396.1,518.2 L1395.2,517.7 L1394.3,517.0 L1393.6,516.3 L1393.0,515.4 L1392.5,514.4 L1392.2,513.4 L1391.9,512.4 L1391.0,511.8 L1390.1,511.2 L1389.4,510.4 L1388.7,509.6 L1388.2,508.7 L1387.9,507.8 L1387.7,506.7 L1387.7,505.7 L1387.7,504.7 L1387.9,503.7 L1387.3,502.8 L1386.8,501.9 L1386.4,500.9 L1386.2,499.9 L1386.1,498.9 L1386.2,497.9 L1386.4,496.9 L1386.8,495.9 L1387.3,495.0 L1387.9,494.1 L1387.7,493.1 L1387.7,492.1 L1387.7,491.1 L1387.9,490.0 L1388.2,489.1 L1388.7,488.2 L1389.4,487.4 L1390.1,486.6 L1391.0,486.0 L1391.9,485.4 L1392.2,484.4 L1392.5,483.4 L1393.0,482.4 L1393.6,481.5 L1394.3,480.8 L1395.2,480.1 L1396.1,479.6 L1397.1,479.2 L1398.2,478.9 L1399.3,478.7 L1400.0,477.8 L1400.7,477.0 L1401.6,476.3 L1402.5,475.7 L1403.4,475.2 L1404.5,474.9 L1405.6,474.7 L1406.7,474.7 L1407.8,474.8 L1409.0,475.0 L1409.9,474.5 L1411.0,474.0 L1412.0,473.6 L1413.1,473.3 L1414.2,473.2 L1415.3,473.3 L1416.4,473.6 L1417.4,474.0 L1418.5,474.5 L1419.4,475.0 L1420.6,474.8 L1421.7,474.7 L1422.8,474.7 L1423.9,474.9 L1425.0,475.2 L1425.9,475.7 L1426.8,476.3 L1427.7,477.0 L1428.4,477.8 L1429.1,478.7 L1430.2,478.9 L1431.3,479.2 L1432.3,479.6 L1433.2,480.1 L1434.1,480.8 L1434.8,481.5 L1435.4,482.4 L1435.9,483.4 L1436.2,484.4 L1436.5,485.4 L1437.4,486.0 L1438.3,486.6 L1439.0,487.4 L1439.7,488.2 L1440.2,489.1 L1440.5,490.0 L1440.7,491.1 L1440.7,492.1 L1440.7,493.1 L1440.5,494.1 L1441.1,495.0 L1441.6,495.9 L1442.0,496.9 L1442.2,497.9 Z"/>
</g>
<g fill="#f2f4fb" font-family="Liberation Sans, sans-serif" font-size="33" text-anchor="middle">
<text x="208.4" y="79.1">Ti</text>
<text x="174.5" y="132.3">Ca</text>
<text x="219.5" y="165.0">O</text>
<text x="166.3" y="190.6">K</text>
<text x="169.3" y="251.0">C</text>
<text x="325.5" y="77.3">Na</text>
<text x="368.5" y="181.3">Mg</text>
<text x="415.3" y="80.1">Al</text>
<text x="465.5" y="99.5">Si</text>
<text x="255.3" y="460.7">Fe</text>
<text x="861.8" y="323.0">Ca</text>
<text x="785.8" y="487.3">K</text>
<text x="841.0" y="493.3">K</text>
<text x="925.0" y="565.8">Ca</text>
<text x="1031.6" y="549.3">Ti</text>
<text x="1114.5" y="595.5">Ti</text>
<text x="1411.2" y="513.2">Fe</text>
</g>
<rect x="1159.8" y="29" width="288.2" height="402" fill="#f4fbff"/>
<rect x="1163.3" y="32.5" width="281.7" height="394.5" fill="#08346a"/>
<g fill="#f6f9ff" stroke="#f6f9ff" stroke-width="0.5" font-family="Liberation Serif, serif" font-size="67">
<text x="1168" y="97.5" transform="translate(1168 0) scale(0.965 1) translate(-1168 0)">O</text>
<text x="1264.3" y="97.5" transform="translate(1264.3 0) scale(0.965 1) translate(-1264.3 0)">77.1%</text>
<text x="1168" y="173.5" transform="translate(1168 0) scale(0.965 1) translate(-1168 0)">Si</text>
<text x="1274.3" y="173.5" transform="translate(1274.3 0) scale(0.965 1) translate(-1274.3 0)">11.7%</text>
<text x="1168" y="250.5" transform="translate(1168 0) scale(0.965 1) translate(-1168 0)">Na</text>
<text x="1277" y="250.5" transform="translate(1277 0) scale(0.965 1) translate(-1277 0)">3.2%</text>
<text x="1168" y="330" transform="translate(1168 0) scale(0.965 1) translate(-1168 0)">Al</text>
<text x="1282.5" y="330" transform="translate(1282.5 0) scale(0.965 1) translate(-1282.5 0)">2.9%</text>
<text x="1168" y="407" transform="translate(1168 0) scale(0.965 1) translate(-1168 0)">Mg</text>
<text x="1278.5" y="407" transform="translate(1278.5 0) scale(0.965 1) translate(-1278.5 0)">1.7%</text>
</g>
<rect x="26" y="645" width="1421" height="117.5" fill="#ffffff"/>
<rect x="26" y="645" width="2.2" height="118.5" fill="#2c3139"/>
<rect x="1445" y="645" width="2.2" height="118.5" fill="#7c88a8"/>
<rect x="26" y="762.5" width="1421" height="3" fill="#737b84"/>
<rect x="26" y="644" width="1422" height="2.6" fill="#101010"/>
<g fill="#1a1a1a"><rect x="75.3" y="645" width="2.2" height="8"/><rect x="95.6" y="645" width="2.2" height="8"/><rect x="115.9" y="645" width="2.2" height="14"/><rect x="136.2" y="645" width="2.2" height="8"/><rect x="156.5" y="645" width="2.2" height="8"/><rect x="176.7" y="645" width="2.2" height="8"/><rect x="197.0" y="645" width="2.2" height="8"/><rect x="217.3" y="645" width="2.2" height="11"/><rect x="237.6" y="645" width="2.2" height="8"/><rect x="257.9" y="645" width="2.2" height="8"/><rect x="278.1" y="645" width="2.2" height="8"/><rect x="298.4" y="645" width="2.2" height="8"/><rect x="318.7" y="645" width="2.2" height="14"/><rect x="339.0" y="645" width="2.2" height="8"/><rect x="359.3" y="645" width="2.2" height="8"/><rect x="379.5" y="645" width="2.2" height="8"/><rect x="399.8" y="645" width="2.2" height="8"/><rect x="420.1" y="645" width="2.2" height="11"/><rect x="440.4" y="645" width="2.2" height="8"/><rect x="460.7" y="645" width="2.2" height="8"/><rect x="480.9" y="645" width="2.2" height="8"/><rect x="501.2" y="645" width="2.2" height="8"/><rect x="521.5" y="645" width="2.2" height="14"/><rect x="541.8" y="645" width="2.2" height="8"/><rect x="562.1" y="645" width="2.2" height="8"/><rect x="582.3" y="645" width="2.2" height="8"/><rect x="602.6" y="645" width="2.2" height="8"/><rect x="622.9" y="645" width="2.2" height="11"/><rect x="643.2" y="645" width="2.2" height="8"/><rect x="663.5" y="645" width="2.2" height="8"/><rect x="683.7" y="645" width="2.2" height="8"/><rect x="704.0" y="645" width="2.2" height="8"/><rect x="724.3" y="645" width="2.2" height="14"/><rect x="744.6" y="645" width="2.2" height="8"/><rect x="764.9" y="645" width="2.2" height="8"/><rect x="785.1" y="645" width="2.2" height="8"/><rect x="805.4" y="645" width="2.2" height="8"/><rect x="825.7" y="645" width="2.2" height="11"/><rect x="846.0" y="645" width="2.2" height="8"/><rect x="866.3" y="645" width="2.2" height="8"/><rect x="886.5" y="645" width="2.2" height="8"/><rect x="906.8" y="645" width="2.2" height="8"/><rect x="927.1" y="645" width="2.2" height="14"/><rect x="947.4" y="645" width="2.2" height="8"/><rect x="967.7" y="645" width="2.2" height="8"/><rect x="987.9" y="645" width="2.2" height="8"/><rect x="1008.2" y="645" width="2.2" height="8"/><rect x="1028.5" y="645" width="2.2" height="11"/><rect x="1048.8" y="645" width="2.2" height="8"/><rect x="1069.1" y="645" width="2.2" height="8"/><rect x="1089.3" y="645" width="2.2" height="8"/><rect x="1109.6" y="645" width="2.2" height="8"/><rect x="1129.9" y="645" width="2.2" height="14"/><rect x="1150.2" y="645" width="2.2" height="8"/><rect x="1170.5" y="645" width="2.2" height="8"/><rect x="1190.7" y="645" width="2.2" height="8"/><rect x="1211.0" y="645" width="2.2" height="8"/><rect x="1231.3" y="645" width="2.2" height="11"/><rect x="1251.6" y="645" width="2.2" height="8"/><rect x="1271.9" y="645" width="2.2" height="8"/><rect x="1292.1" y="645" width="2.2" height="8"/><rect x="1312.4" y="645" width="2.2" height="8"/><rect x="1332.7" y="645" width="2.2" height="14"/><rect x="1353.0" y="645" width="2.2" height="8"/><rect x="1373.3" y="645" width="2.2" height="8"/><rect x="1393.5" y="645" width="2.2" height="8"/><rect x="1413.8" y="645" width="2.2" height="8"/><rect x="1434.1" y="645" width="2.2" height="11"/></g>
<g fill="#2a2a2a" stroke="#2a2a2a" stroke-width="0.7" font-family="Liberation Sans, sans-serif" font-size="33" text-anchor="middle">
<text x="113.5" y="703.0" transform="translate(113.5 0) scale(1.05 1) translate(-113.5 0)">0</text>
<text x="316.3" y="703.0" transform="translate(316.3 0) scale(1.05 1) translate(-316.3 0)">1</text>
<text x="519.1" y="703.0" transform="translate(519.1 0) scale(1.05 1) translate(-519.1 0)">2</text>
<text x="721.9" y="703.0" transform="translate(721.9 0) scale(1.05 1) translate(-721.9 0)">3</text>
<text x="924.7" y="703.0" transform="translate(924.7 0) scale(1.05 1) translate(-924.7 0)">4</text>
<text x="1127.5" y="703.0" transform="translate(1127.5 0) scale(1.05 1) translate(-1127.5 0)">5</text>
<text x="1330.3" y="703.0" transform="translate(1330.3 0) scale(1.05 1) translate(-1330.3 0)">6</text>
<text x="1411.5" y="752.0" transform="translate(1411.5 0) scale(1.05 1) translate(-1411.5 0)">keV</text>
</g>
<text x="27.5" y="118" fill="#f4f8ff" font-family="Liberation Serif, serif" font-size="82">(a)</text>
<rect x="21" y="766" width="1431" height="743" fill="#eef7fb"/>
<rect x="26" y="773" width="1422" height="613" fill="#08346a"/>
<rect x="26" y="773" width="1422" height="1.6" fill="#16243c"/>
<clipPath id="cb"><rect x="26" y="774" width="1422" height="612"/></clipPath>
<g clip-path="url(#cb)">
<path d="M26.0,1386.0 L104.0,1386.0 L105.5,1380.0 L107.0,1362.0 L108.0,1300.0 L109.0,1200.0 L110.5,1080.0 L111.8,940.0 L113.3,820.0 L113.8,760.0 L129.8,760.0 L130.8,830.0 L132.0,920.0 L133.0,990.0 L134.0,1140.0 L135.0,1240.0 L136.0,1320.0 L137.0,1352.0 L138.5,1366.0 L141.0,1371.0 L145.0,1373.0 L149.0,1371.5 L151.4,1367.0 L155.0,1360.0 L158.5,1352.0 L161.6,1346.0 L163.5,1335.0 L165.5,1318.0 L167.8,1305.0 L170.5,1293.0 L173.9,1286.7 L177.0,1292.0 L180.0,1305.0 L182.0,1325.0 L184.0,1344.0 L187.2,1352.0 L191.0,1347.0 L195.0,1340.0 L198.5,1331.7 L201.0,1310.0 L203.0,1290.0 L204.6,1264.0 L206.2,1225.0 L207.7,1182.0 L208.7,1080.0 L210.0,1000.0 L212.0,920.0 L214.5,840.0 L216.9,773.0 L216.9,760.0 L235.3,760.0 L235.3,773.0 L236.5,900.0 L237.5,1080.0 L238.4,1180.0 L239.5,1240.0 L240.4,1284.6 L241.5,1320.0 L242.4,1338.0 L244.5,1344.0 L247.6,1346.0 L250.5,1343.0 L253.0,1332.0 L254.5,1318.0 L255.7,1305.0 L257.0,1283.0 L258.5,1268.0 L260.0,1261.0 L261.9,1258.0 L264.0,1260.0 L266.5,1267.0 L268.5,1275.0 L270.0,1285.0 L271.5,1305.0 L272.8,1325.0 L274.0,1342.0 L276.5,1349.0 L280.0,1352.0 L282.5,1353.7 L285.0,1348.2 L287.5,1353.5 L290.0,1353.0 L292.5,1352.1 L295.0,1352.8 L297.5,1351.2 L300.0,1352.0 L302.7,1352.0 L305.3,1354.3 L308.0,1353.0 L310.5,1352.1 L313.0,1351.0 L316.0,1346.0 L317.5,1338.0 L319.0,1322.0 L321.2,1305.0 L323.0,1285.0 L325.0,1268.0 L327.0,1261.5 L328.4,1260.0 L330.0,1261.5 L332.0,1267.0 L334.0,1278.0 L336.0,1292.0 L337.6,1305.0 L339.5,1325.0 L341.2,1338.0 L343.5,1344.0 L346.0,1346.0 L348.5,1345.0 L351.0,1340.0 L353.5,1333.0 L356.0,1325.5 L358.5,1305.0 L360.5,1283.0 L362.5,1258.0 L364.2,1243.7 L365.5,1215.0 L367.0,1180.0 L368.5,1150.0 L370.3,1121.0 L372.2,1113.5 L373.9,1112.0 L375.6,1113.5 L377.5,1121.0 L379.3,1140.0 L381.0,1165.0 L382.3,1190.0 L383.5,1220.0 L384.8,1245.0 L386.3,1270.0 L388.5,1295.0 L391.0,1315.0 L394.0,1328.0 L396.9,1334.5 L400.0,1327.0 L402.5,1310.0 L404.5,1290.0 L406.3,1265.0 L407.7,1240.0 L409.0,1200.0 L410.5,1120.0 L412.0,1060.0 L413.8,1020.0 L414.6,928.0 L416.0,895.0 L417.3,879.0 L418.8,862.0 L421.1,851.0 L423.4,862.0 L425.0,879.0 L426.6,895.0 L428.2,928.0 L430.7,1020.0 L432.5,1100.0 L434.0,1190.0 L435.6,1262.0 L437.5,1295.0 L440.0,1318.0 L443.5,1331.0 L446.5,1334.5 L449.5,1325.0 L452.0,1305.0 L454.5,1270.0 L456.5,1220.0 L458.0,1150.0 L459.0,1080.0 L459.8,1020.0 L460.5,950.0 L461.5,850.0 L461.5,760.0 L484.0,760.0 L484.0,850.0 L486.6,928.0 L487.6,1020.0 L489.0,1120.0 L490.2,1190.0 L491.2,1237.8 L493.5,1262.0 L496.5,1282.0 L499.7,1298.3 L502.5,1320.0 L505.0,1340.0 L507.0,1351.5 L509.4,1354.5 L513.0,1349.0 L517.0,1340.0 L521.0,1330.0 L525.0,1320.0 L529.0,1312.0 L533.0,1306.0 L537.2,1303.0 L541.0,1309.0 L545.0,1317.0 L549.0,1322.0 L553.0,1327.0 L557.0,1331.0 L562.6,1339.0 L566.0,1348.0 L569.9,1356.3 L574.0,1355.0 L576.0,1354.7 L578.0,1359.0 L581.0,1357.9 L584.0,1357.0 L587.0,1357.6 L590.0,1359.0 L593.0,1358.6 L596.0,1358.0 L599.0,1356.1 L602.0,1360.0 L605.0,1358.1 L608.0,1358.5 L611.0,1361.3 L614.0,1361.0 L617.0,1359.0 L620.0,1359.0 L623.0,1361.2 L626.0,1361.5 L629.0,1362.1 L632.0,1360.0 L634.7,1361.9 L637.3,1363.5 L640.0,1363.0 L642.7,1361.2 L645.3,1362.4 L648.0,1361.0 L650.7,1361.6 L653.3,1363.4 L656.0,1362.5 L658.7,1362.9 L661.3,1362.4 L664.0,1360.5 L666.7,1361.2 L669.3,1363.5 L672.0,1363.0 L674.7,1360.2 L677.3,1359.3 L680.0,1361.0 L682.7,1360.9 L685.3,1361.7 L688.0,1363.0 L690.7,1363.2 L693.3,1362.1 L696.0,1361.5 L698.7,1362.4 L701.3,1361.9 L704.0,1363.5 L706.7,1364.1 L709.3,1360.5 L712.0,1361.0 L714.7,1362.4 L717.3,1361.3 L720.0,1363.0 L722.7,1361.1 L725.3,1358.3 L728.0,1361.5 L730.7,1360.9 L733.3,1362.1 L736.0,1363.5 L738.7,1363.9 L741.3,1360.4 L744.0,1361.0 L746.7,1360.6 L749.3,1361.0 L752.0,1363.0 L754.7,1360.8 L757.3,1360.1 L760.0,1361.0 L762.3,1360.5 L764.7,1362.3 L767.0,1362.0 L771.8,1358.0 L776.0,1353.0 L780.0,1348.0 L784.0,1343.0 L788.0,1337.0 L792.4,1334.5 L796.0,1337.0 L799.5,1343.0 L802.5,1350.0 L805.7,1354.0 L810.0,1357.0 L815.0,1359.5 L822.0,1361.0 L828.0,1363.0 L832.3,1363.6 L836.0,1363.0 L839.0,1360.0 L841.5,1352.0 L843.5,1335.0 L845.5,1318.0 L847.3,1302.0 L849.2,1286.0 L851.5,1262.0 L854.0,1237.8 L856.0,1215.0 L858.0,1192.0 L859.7,1178.0 L861.3,1165.0 L863.5,1135.0 L865.5,1110.0 L867.0,1096.0 L868.6,1090.0 L870.2,1096.0 L872.0,1112.0 L874.0,1140.0 L875.8,1165.0 L877.5,1192.0 L879.0,1220.0 L880.5,1242.0 L881.9,1262.0 L883.5,1280.0 L885.0,1294.0 L886.6,1302.8 L888.4,1318.0 L890.3,1334.5 L892.5,1348.0 L894.8,1358.0 L897.6,1363.0 L901.0,1362.5 L906.0,1360.0 L911.0,1356.0 L915.0,1351.0 L918.0,1345.0 L922.0,1339.0 L926.0,1334.0 L930.5,1330.8 L934.0,1332.0 L938.0,1338.0 L943.0,1350.0 L948.0,1358.0 L954.0,1364.0 L960.5,1367.5 L963.7,1365.9 L966.8,1364.0 L970.0,1367.0 L972.7,1368.0 L975.3,1367.1 L978.0,1369.0 L980.7,1367.0 L983.3,1368.9 L986.0,1367.5 L988.7,1369.3 L991.3,1369.7 L994.0,1369.0 L996.7,1366.0 L999.3,1365.5 L1002.0,1368.0 L1004.7,1367.0 L1007.3,1368.3 L1010.0,1369.0 L1012.5,1367.1 L1015.0,1367.5 L1018.0,1362.0 L1021.0,1354.0 L1024.0,1346.0 L1027.5,1339.0 L1030.5,1334.0 L1032.9,1332.4 L1035.5,1334.0 L1038.5,1339.0 L1041.5,1345.0 L1044.5,1351.0 L1047.5,1356.0 L1050.3,1360.0 L1054.0,1365.0 L1057.0,1368.0 L1060.5,1370.0 L1063.0,1369.2 L1065.5,1367.3 L1068.0,1370.0 L1070.7,1367.6 L1073.3,1367.0 L1076.0,1371.0 L1078.7,1370.5 L1081.3,1371.4 L1084.0,1369.5 L1086.7,1369.1 L1089.3,1369.7 L1092.0,1371.0 L1094.7,1371.1 L1097.3,1371.0 L1100.0,1370.0 L1102.7,1369.4 L1105.3,1365.6 L1108.0,1369.0 L1110.3,1367.1 L1112.5,1365.0 L1114.8,1367.0 L1117.4,1365.3 L1120.0,1370.0 L1122.7,1370.4 L1125.3,1368.4 L1128.0,1371.5 L1130.7,1372.5 L1133.3,1370.3 L1136.0,1370.0 L1138.7,1368.7 L1141.3,1369.8 L1144.0,1372.0 L1146.7,1372.6 L1149.3,1371.4 L1152.0,1371.0 L1154.7,1371.9 L1157.3,1373.5 L1160.0,1372.5 L1162.5,1370.6 L1165.0,1370.5 L1167.5,1372.5 L1170.0,1371.0 L1172.5,1370.0 L1175.0,1371.7 L1177.5,1371.6 L1180.0,1373.0 L1182.5,1371.3 L1185.0,1371.8 L1187.5,1370.5 L1190.0,1371.5 L1192.5,1370.9 L1195.0,1371.9 L1197.5,1373.4 L1200.0,1373.0 L1202.5,1369.9 L1205.0,1373.6 L1207.5,1373.7 L1210.0,1372.0 L1212.5,1370.9 L1215.0,1373.6 L1217.5,1373.1 L1220.0,1373.5 L1222.5,1373.0 L1225.0,1372.0 L1227.5,1372.3 L1230.0,1372.0 L1232.5,1373.5 L1235.0,1374.1 L1237.5,1372.6 L1240.0,1374.0 L1242.5,1372.9 L1245.0,1373.8 L1247.5,1373.1 L1250.0,1372.5 L1252.5,1371.6 L1255.0,1372.6 L1257.5,1369.2 L1260.0,1374.0 L1262.5,1375.3 L1265.0,1372.3 L1267.5,1372.4 L1270.0,1373.0 L1272.5,1374.0 L1275.0,1371.4 L1277.5,1375.6 L1280.0,1374.5 L1282.5,1372.8 L1285.0,1374.4 L1287.5,1374.6 L1290.0,1373.0 L1292.5,1373.9 L1295.0,1375.1 L1297.5,1371.7 L1300.0,1374.0 L1302.5,1372.2 L1305.0,1372.4 L1307.5,1373.2 L1310.0,1373.0 L1312.5,1374.0 L1315.0,1374.4 L1317.5,1375.6 L1320.0,1374.5 L1322.5,1374.9 L1325.0,1374.6 L1327.5,1372.5 L1330.0,1373.0 L1332.5,1373.1 L1335.0,1375.3 L1337.5,1372.6 L1340.0,1374.5 L1342.5,1374.9 L1345.0,1374.5 L1347.5,1372.2 L1350.0,1373.5 L1352.5,1374.6 L1355.0,1375.5 L1357.5,1373.3 L1360.0,1375.0 L1362.5,1372.7 L1365.0,1371.7 L1367.5,1372.7 L1370.0,1373.5 L1372.7,1373.6 L1375.3,1374.4 L1378.0,1374.5 L1381.0,1373.5 L1383.1,1371.4 L1386.0,1367.0 L1388.6,1361.5 L1391.5,1354.0 L1394.0,1345.2 L1396.3,1334.0 L1398.4,1323.3 L1400.0,1312.0 L1401.7,1301.5 L1403.3,1290.0 L1405.0,1279.6 L1407.2,1268.0 L1409.3,1257.8 L1411.5,1249.0 L1413.7,1243.6 L1416.0,1249.0 L1418.0,1257.8 L1420.8,1268.0 L1423.5,1279.6 L1425.7,1290.0 L1427.9,1301.5 L1430.7,1312.0 L1433.4,1323.3 L1435.6,1334.0 L1437.7,1345.2 L1440.0,1357.0 L1442.1,1367.0 L1444.3,1378.0 L1446.0,1382.0 L1448.0,1384.0 L1448.0,1386.0 Z" fill="#ffff00" stroke="#13291c" stroke-width="3.2" stroke-linejoin="round" paint-order="stroke"/>
<clipPath id="cbs"><path d="M26.0,1386.0 L104.0,1386.0 L105.5,1380.0 L107.0,1362.0 L108.0,1300.0 L109.0,1200.0 L110.5,1080.0 L111.8,940.0 L113.3,820.0 L113.8,760.0 L129.8,760.0 L130.8,830.0 L132.0,920.0 L133.0,990.0 L134.0,1140.0 L135.0,1240.0 L136.0,1320.0 L137.0,1352.0 L138.5,1366.0 L141.0,1371.0 L145.0,1373.0 L149.0,1371.5 L151.4,1367.0 L155.0,1360.0 L158.5,1352.0 L161.6,1346.0 L163.5,1335.0 L165.5,1318.0 L167.8,1305.0 L170.5,1293.0 L173.9,1286.7 L177.0,1292.0 L180.0,1305.0 L182.0,1325.0 L184.0,1344.0 L187.2,1352.0 L191.0,1347.0 L195.0,1340.0 L198.5,1331.7 L201.0,1310.0 L203.0,1290.0 L204.6,1264.0 L206.2,1225.0 L207.7,1182.0 L208.7,1080.0 L210.0,1000.0 L212.0,920.0 L214.5,840.0 L216.9,773.0 L216.9,760.0 L235.3,760.0 L235.3,773.0 L236.5,900.0 L237.5,1080.0 L238.4,1180.0 L239.5,1240.0 L240.4,1284.6 L241.5,1320.0 L242.4,1338.0 L244.5,1344.0 L247.6,1346.0 L250.5,1343.0 L253.0,1332.0 L254.5,1318.0 L255.7,1305.0 L257.0,1283.0 L258.5,1268.0 L260.0,1261.0 L261.9,1258.0 L264.0,1260.0 L266.5,1267.0 L268.5,1275.0 L270.0,1285.0 L271.5,1305.0 L272.8,1325.0 L274.0,1342.0 L276.5,1349.0 L280.0,1352.0 L282.5,1353.7 L285.0,1348.2 L287.5,1353.5 L290.0,1353.0 L292.5,1352.1 L295.0,1352.8 L297.5,1351.2 L300.0,1352.0 L302.7,1352.0 L305.3,1354.3 L308.0,1353.0 L310.5,1352.1 L313.0,1351.0 L316.0,1346.0 L317.5,1338.0 L319.0,1322.0 L321.2,1305.0 L323.0,1285.0 L325.0,1268.0 L327.0,1261.5 L328.4,1260.0 L330.0,1261.5 L332.0,1267.0 L334.0,1278.0 L336.0,1292.0 L337.6,1305.0 L339.5,1325.0 L341.2,1338.0 L343.5,1344.0 L346.0,1346.0 L348.5,1345.0 L351.0,1340.0 L353.5,1333.0 L356.0,1325.5 L358.5,1305.0 L360.5,1283.0 L362.5,1258.0 L364.2,1243.7 L365.5,1215.0 L367.0,1180.0 L368.5,1150.0 L370.3,1121.0 L372.2,1113.5 L373.9,1112.0 L375.6,1113.5 L377.5,1121.0 L379.3,1140.0 L381.0,1165.0 L382.3,1190.0 L383.5,1220.0 L384.8,1245.0 L386.3,1270.0 L388.5,1295.0 L391.0,1315.0 L394.0,1328.0 L396.9,1334.5 L400.0,1327.0 L402.5,1310.0 L404.5,1290.0 L406.3,1265.0 L407.7,1240.0 L409.0,1200.0 L410.5,1120.0 L412.0,1060.0 L413.8,1020.0 L414.6,928.0 L416.0,895.0 L417.3,879.0 L418.8,862.0 L421.1,851.0 L423.4,862.0 L425.0,879.0 L426.6,895.0 L428.2,928.0 L430.7,1020.0 L432.5,1100.0 L434.0,1190.0 L435.6,1262.0 L437.5,1295.0 L440.0,1318.0 L443.5,1331.0 L446.5,1334.5 L449.5,1325.0 L452.0,1305.0 L454.5,1270.0 L456.5,1220.0 L458.0,1150.0 L459.0,1080.0 L459.8,1020.0 L460.5,950.0 L461.5,850.0 L461.5,760.0 L484.0,760.0 L484.0,850.0 L486.6,928.0 L487.6,1020.0 L489.0,1120.0 L490.2,1190.0 L491.2,1237.8 L493.5,1262.0 L496.5,1282.0 L499.7,1298.3 L502.5,1320.0 L505.0,1340.0 L507.0,1351.5 L509.4,1354.5 L513.0,1349.0 L517.0,1340.0 L521.0,1330.0 L525.0,1320.0 L529.0,1312.0 L533.0,1306.0 L537.2,1303.0 L541.0,1309.0 L545.0,1317.0 L549.0,1322.0 L553.0,1327.0 L557.0,1331.0 L562.6,1339.0 L566.0,1348.0 L569.9,1356.3 L574.0,1355.0 L576.0,1354.7 L578.0,1359.0 L581.0,1357.9 L584.0,1357.0 L587.0,1357.6 L590.0,1359.0 L593.0,1358.6 L596.0,1358.0 L599.0,1356.1 L602.0,1360.0 L605.0,1358.1 L608.0,1358.5 L611.0,1361.3 L614.0,1361.0 L617.0,1359.0 L620.0,1359.0 L623.0,1361.2 L626.0,1361.5 L629.0,1362.1 L632.0,1360.0 L634.7,1361.9 L637.3,1363.5 L640.0,1363.0 L642.7,1361.2 L645.3,1362.4 L648.0,1361.0 L650.7,1361.6 L653.3,1363.4 L656.0,1362.5 L658.7,1362.9 L661.3,1362.4 L664.0,1360.5 L666.7,1361.2 L669.3,1363.5 L672.0,1363.0 L674.7,1360.2 L677.3,1359.3 L680.0,1361.0 L682.7,1360.9 L685.3,1361.7 L688.0,1363.0 L690.7,1363.2 L693.3,1362.1 L696.0,1361.5 L698.7,1362.4 L701.3,1361.9 L704.0,1363.5 L706.7,1364.1 L709.3,1360.5 L712.0,1361.0 L714.7,1362.4 L717.3,1361.3 L720.0,1363.0 L722.7,1361.1 L725.3,1358.3 L728.0,1361.5 L730.7,1360.9 L733.3,1362.1 L736.0,1363.5 L738.7,1363.9 L741.3,1360.4 L744.0,1361.0 L746.7,1360.6 L749.3,1361.0 L752.0,1363.0 L754.7,1360.8 L757.3,1360.1 L760.0,1361.0 L762.3,1360.5 L764.7,1362.3 L767.0,1362.0 L771.8,1358.0 L776.0,1353.0 L780.0,1348.0 L784.0,1343.0 L788.0,1337.0 L792.4,1334.5 L796.0,1337.0 L799.5,1343.0 L802.5,1350.0 L805.7,1354.0 L810.0,1357.0 L815.0,1359.5 L822.0,1361.0 L828.0,1363.0 L832.3,1363.6 L836.0,1363.0 L839.0,1360.0 L841.5,1352.0 L843.5,1335.0 L845.5,1318.0 L847.3,1302.0 L849.2,1286.0 L851.5,1262.0 L854.0,1237.8 L856.0,1215.0 L858.0,1192.0 L859.7,1178.0 L861.3,1165.0 L863.5,1135.0 L865.5,1110.0 L867.0,1096.0 L868.6,1090.0 L870.2,1096.0 L872.0,1112.0 L874.0,1140.0 L875.8,1165.0 L877.5,1192.0 L879.0,1220.0 L880.5,1242.0 L881.9,1262.0 L883.5,1280.0 L885.0,1294.0 L886.6,1302.8 L888.4,1318.0 L890.3,1334.5 L892.5,1348.0 L894.8,1358.0 L897.6,1363.0 L901.0,1362.5 L906.0,1360.0 L911.0,1356.0 L915.0,1351.0 L918.0,1345.0 L922.0,1339.0 L926.0,1334.0 L930.5,1330.8 L934.0,1332.0 L938.0,1338.0 L943.0,1350.0 L948.0,1358.0 L954.0,1364.0 L960.5,1367.5 L963.7,1365.9 L966.8,1364.0 L970.0,1367.0 L972.7,1368.0 L975.3,1367.1 L978.0,1369.0 L980.7,1367.0 L983.3,1368.9 L986.0,1367.5 L988.7,1369.3 L991.3,1369.7 L994.0,1369.0 L996.7,1366.0 L999.3,1365.5 L1002.0,1368.0 L1004.7,1367.0 L1007.3,1368.3 L1010.0,1369.0 L1012.5,1367.1 L1015.0,1367.5 L1018.0,1362.0 L1021.0,1354.0 L1024.0,1346.0 L1027.5,1339.0 L1030.5,1334.0 L1032.9,1332.4 L1035.5,1334.0 L1038.5,1339.0 L1041.5,1345.0 L1044.5,1351.0 L1047.5,1356.0 L1050.3,1360.0 L1054.0,1365.0 L1057.0,1368.0 L1060.5,1370.0 L1063.0,1369.2 L1065.5,1367.3 L1068.0,1370.0 L1070.7,1367.6 L1073.3,1367.0 L1076.0,1371.0 L1078.7,1370.5 L1081.3,1371.4 L1084.0,1369.5 L1086.7,1369.1 L1089.3,1369.7 L1092.0,1371.0 L1094.7,1371.1 L1097.3,1371.0 L1100.0,1370.0 L1102.7,1369.4 L1105.3,1365.6 L1108.0,1369.0 L1110.3,1367.1 L1112.5,1365.0 L1114.8,1367.0 L1117.4,1365.3 L1120.0,1370.0 L1122.7,1370.4 L1125.3,1368.4 L1128.0,1371.5 L1130.7,1372.5 L1133.3,1370.3 L1136.0,1370.0 L1138.7,1368.7 L1141.3,1369.8 L1144.0,1372.0 L1146.7,1372.6 L1149.3,1371.4 L1152.0,1371.0 L1154.7,1371.9 L1157.3,1373.5 L1160.0,1372.5 L1162.5,1370.6 L1165.0,1370.5 L1167.5,1372.5 L1170.0,1371.0 L1172.5,1370.0 L1175.0,1371.7 L1177.5,1371.6 L1180.0,1373.0 L1182.5,1371.3 L1185.0,1371.8 L1187.5,1370.5 L1190.0,1371.5 L1192.5,1370.9 L1195.0,1371.9 L1197.5,1373.4 L1200.0,1373.0 L1202.5,1369.9 L1205.0,1373.6 L1207.5,1373.7 L1210.0,1372.0 L1212.5,1370.9 L1215.0,1373.6 L1217.5,1373.1 L1220.0,1373.5 L1222.5,1373.0 L1225.0,1372.0 L1227.5,1372.3 L1230.0,1372.0 L1232.5,1373.5 L1235.0,1374.1 L1237.5,1372.6 L1240.0,1374.0 L1242.5,1372.9 L1245.0,1373.8 L1247.5,1373.1 L1250.0,1372.5 L1252.5,1371.6 L1255.0,1372.6 L1257.5,1369.2 L1260.0,1374.0 L1262.5,1375.3 L1265.0,1372.3 L1267.5,1372.4 L1270.0,1373.0 L1272.5,1374.0 L1275.0,1371.4 L1277.5,1375.6 L1280.0,1374.5 L1282.5,1372.8 L1285.0,1374.4 L1287.5,1374.6 L1290.0,1373.0 L1292.5,1373.9 L1295.0,1375.1 L1297.5,1371.7 L1300.0,1374.0 L1302.5,1372.2 L1305.0,1372.4 L1307.5,1373.2 L1310.0,1373.0 L1312.5,1374.0 L1315.0,1374.4 L1317.5,1375.6 L1320.0,1374.5 L1322.5,1374.9 L1325.0,1374.6 L1327.5,1372.5 L1330.0,1373.0 L1332.5,1373.1 L1335.0,1375.3 L1337.5,1372.6 L1340.0,1374.5 L1342.5,1374.9 L1345.0,1374.5 L1347.5,1372.2 L1350.0,1373.5 L1352.5,1374.6 L1355.0,1375.5 L1357.5,1373.3 L1360.0,1375.0 L1362.5,1372.7 L1365.0,1371.7 L1367.5,1372.7 L1370.0,1373.5 L1372.7,1373.6 L1375.3,1374.4 L1378.0,1374.5 L1381.0,1373.5 L1383.1,1371.4 L1386.0,1367.0 L1388.6,1361.5 L1391.5,1354.0 L1394.0,1345.2 L1396.3,1334.0 L1398.4,1323.3 L1400.0,1312.0 L1401.7,1301.5 L1403.3,1290.0 L1405.0,1279.6 L1407.2,1268.0 L1409.3,1257.8 L1411.5,1249.0 L1413.7,1243.6 L1416.0,1249.0 L1418.0,1257.8 L1420.8,1268.0 L1423.5,1279.6 L1425.7,1290.0 L1427.9,1301.5 L1430.7,1312.0 L1433.4,1323.3 L1435.6,1334.0 L1437.7,1345.2 L1440.0,1357.0 L1442.1,1367.0 L1444.3,1378.0 L1446.0,1382.0 L1448.0,1384.0 L1448.0,1386.0 Z"/></clipPath>
<rect x="100" y="773" width="19.5" height="609" fill="#d2e23a" clip-path="url(#cbs)"/>
<rect x="119.3" y="773" width="2.4" height="613" fill="#3a2a10"/>
</g>
<g fill="none" stroke="#b6c2d4" stroke-width="3">
<line x1="208" y1="829" x2="208" y2="840"/>
<line x1="222" y1="890" x2="222" y2="900"/>
<line x1="419" y1="837" x2="419" y2="851"/>
<line x1="470" y1="855" x2="470" y2="870"/>
<line x1="373" y1="1100" x2="373" y2="1113"/>
<line x1="172" y1="1152" x2="172" y2="1164"/>
<line x1="170" y1="1211" x2="170" y2="1224"/>
<line x1="176.5" y1="1272" x2="176.5" y2="1287"/>
<line x1="259" y1="1238" x2="259" y2="1258"/>
<line x1="328.4" y1="1245" x2="328.4" y2="1260"/>
<line x1="865.5" y1="1078" x2="865.5" y2="1091"/>
<line x1="843.5" y1="1265" x2="843.5" y2="1282"/>
<line x1="788" y1="1321" x2="788" y2="1335"/>
<line x1="929" y1="1314" x2="929" y2="1333"/>
<line x1="1032" y1="1314" x2="1032" y2="1333"/>
<line x1="1115" y1="1347" x2="1115" y2="1368"/>
<line x1="1413.7" y1="1224" x2="1413.7" y2="1243"/>
</g>
<g fill="#a9b1cc" stroke="#b9c6df" stroke-width="1.6">
<path d="M232.8,804.8 L232.7,805.8 L232.5,806.8 L232.1,807.8 L231.6,808.7 L231.0,809.6 L231.2,810.6 L231.3,811.6 L231.3,812.6 L231.2,813.7 L230.9,814.6 L230.4,815.5 L229.8,816.3 L229.1,817.1 L228.3,817.7 L227.4,818.3 L227.2,819.3 L226.9,820.3 L226.5,821.3 L226.0,822.2 L225.3,822.9 L224.5,823.6 L223.7,824.1 L222.7,824.5 L221.7,824.8 L220.7,825.0 L220.1,825.9 L219.4,826.7 L218.7,827.4 L217.9,828.0 L217.0,828.5 L216.0,828.8 L215.0,829.0 L214.0,829.0 L213.0,828.9 L211.9,828.7 L211.1,829.2 L210.1,829.7 L209.2,830.1 L208.2,830.4 L207.2,830.4 L206.2,830.4 L205.2,830.1 L204.3,829.7 L203.3,829.2 L202.5,828.7 L201.4,828.9 L200.4,829.0 L199.4,829.0 L198.4,828.8 L197.4,828.5 L196.5,828.0 L195.7,827.4 L195.0,826.7 L194.3,825.9 L193.7,825.0 L192.7,824.8 L191.7,824.5 L190.7,824.1 L189.9,823.6 L189.1,822.9 L188.4,822.2 L187.9,821.3 L187.5,820.3 L187.2,819.3 L187.0,818.3 L186.1,817.7 L185.3,817.1 L184.6,816.3 L184.0,815.5 L183.5,814.6 L183.2,813.7 L183.1,812.6 L183.1,811.6 L183.2,810.6 L183.4,809.6 L182.8,808.7 L182.3,807.8 L181.9,806.8 L181.7,805.8 L181.6,804.8 L181.7,803.8 L181.9,802.8 L182.3,801.8 L182.8,800.9 L183.4,800.0 L183.2,799.0 L183.1,798.0 L183.1,797.0 L183.2,795.9 L183.5,795.0 L184.0,794.1 L184.6,793.3 L185.3,792.5 L186.1,791.9 L187.0,791.3 L187.2,790.3 L187.5,789.3 L187.9,788.3 L188.4,787.4 L189.1,786.7 L189.9,786.0 L190.7,785.5 L191.7,785.1 L192.7,784.8 L193.7,784.6 L194.3,783.7 L195.0,782.9 L195.7,782.2 L196.5,781.6 L197.4,781.1 L198.4,780.8 L199.4,780.6 L200.4,780.6 L201.4,780.7 L202.5,780.9 L203.3,780.4 L204.3,779.9 L205.2,779.5 L206.2,779.2 L207.2,779.1 L208.2,779.2 L209.2,779.5 L210.1,779.9 L211.1,780.4 L211.9,780.9 L213.0,780.7 L214.0,780.6 L215.0,780.6 L216.0,780.8 L217.0,781.1 L217.9,781.6 L218.7,782.2 L219.4,782.9 L220.1,783.7 L220.7,784.6 L221.7,784.8 L222.7,785.1 L223.7,785.5 L224.5,786.0 L225.3,786.7 L226.0,787.4 L226.5,788.3 L226.9,789.3 L227.2,790.3 L227.4,791.3 L228.3,791.9 L229.1,792.5 L229.8,793.3 L230.4,794.1 L230.9,795.0 L231.2,795.9 L231.3,797.0 L231.3,798.0 L231.2,799.0 L231.0,800.0 L231.6,800.9 L232.1,801.8 L232.5,802.8 L232.7,803.8 Z"/>
<path d="M247.1,866.2 L247.0,867.2 L246.8,868.2 L246.4,869.2 L245.9,870.1 L245.3,871.0 L245.5,872.0 L245.6,873.0 L245.6,874.0 L245.5,875.1 L245.2,876.0 L244.7,876.9 L244.1,877.7 L243.4,878.5 L242.6,879.1 L241.7,879.7 L241.5,880.7 L241.2,881.7 L240.8,882.7 L240.3,883.6 L239.6,884.3 L238.8,885.0 L238.0,885.5 L237.0,885.9 L236.0,886.2 L235.0,886.4 L234.4,887.3 L233.7,888.1 L233.0,888.8 L232.2,889.4 L231.3,889.9 L230.3,890.2 L229.3,890.4 L228.3,890.4 L227.3,890.3 L226.2,890.1 L225.4,890.6 L224.4,891.1 L223.5,891.5 L222.5,891.8 L221.5,891.9 L220.5,891.8 L219.5,891.5 L218.6,891.1 L217.6,890.6 L216.8,890.1 L215.7,890.3 L214.7,890.4 L213.7,890.4 L212.7,890.2 L211.7,889.9 L210.8,889.4 L210.0,888.8 L209.3,888.1 L208.6,887.3 L208.0,886.4 L207.0,886.2 L206.0,885.9 L205.0,885.5 L204.2,885.0 L203.4,884.3 L202.7,883.6 L202.2,882.7 L201.8,881.7 L201.5,880.7 L201.3,879.7 L200.4,879.1 L199.6,878.5 L198.9,877.7 L198.3,876.9 L197.8,876.0 L197.5,875.1 L197.4,874.0 L197.4,873.0 L197.5,872.0 L197.7,871.0 L197.1,870.1 L196.6,869.2 L196.2,868.2 L196.0,867.2 L195.9,866.2 L196.0,865.2 L196.2,864.2 L196.6,863.2 L197.1,862.3 L197.7,861.4 L197.5,860.4 L197.4,859.4 L197.4,858.4 L197.5,857.3 L197.8,856.4 L198.3,855.5 L198.9,854.7 L199.6,853.9 L200.4,853.3 L201.3,852.7 L201.5,851.7 L201.8,850.7 L202.2,849.7 L202.7,848.8 L203.4,848.1 L204.2,847.4 L205.0,846.9 L206.0,846.5 L207.0,846.2 L208.0,846.0 L208.6,845.1 L209.3,844.3 L210.0,843.6 L210.8,843.0 L211.7,842.5 L212.7,842.2 L213.7,842.0 L214.7,842.0 L215.7,842.1 L216.8,842.3 L217.6,841.8 L218.6,841.3 L219.5,840.9 L220.5,840.6 L221.5,840.6 L222.5,840.6 L223.5,840.9 L224.4,841.3 L225.4,841.8 L226.2,842.3 L227.3,842.1 L228.3,842.0 L229.3,842.0 L230.3,842.2 L231.3,842.5 L232.2,843.0 L233.0,843.6 L233.7,844.3 L234.4,845.1 L235.0,846.0 L236.0,846.2 L237.0,846.5 L238.0,846.9 L238.8,847.4 L239.6,848.1 L240.3,848.8 L240.8,849.7 L241.2,850.7 L241.5,851.7 L241.7,852.7 L242.6,853.3 L243.4,853.9 L244.1,854.7 L244.7,855.5 L245.2,856.4 L245.5,857.3 L245.6,858.4 L245.6,859.4 L245.5,860.4 L245.3,861.4 L245.9,862.3 L246.4,863.2 L246.8,864.2 L247.0,865.2 Z"/>
<path d="M443.0,812.6 L442.9,813.6 L442.7,814.6 L442.3,815.6 L441.8,816.5 L441.2,817.4 L441.4,818.4 L441.5,819.4 L441.5,820.4 L441.4,821.5 L441.1,822.4 L440.6,823.3 L440.0,824.1 L439.3,824.9 L438.5,825.5 L437.6,826.1 L437.4,827.1 L437.1,828.1 L436.7,829.1 L436.2,830.0 L435.5,830.7 L434.7,831.4 L433.9,831.9 L432.9,832.3 L431.9,832.6 L430.9,832.8 L430.3,833.7 L429.6,834.5 L428.9,835.2 L428.1,835.8 L427.2,836.3 L426.2,836.6 L425.2,836.8 L424.2,836.8 L423.2,836.7 L422.1,836.5 L421.3,837.0 L420.3,837.5 L419.4,837.9 L418.4,838.2 L417.4,838.2 L416.4,838.2 L415.4,837.9 L414.5,837.5 L413.5,837.0 L412.7,836.5 L411.6,836.7 L410.6,836.8 L409.6,836.8 L408.6,836.6 L407.6,836.3 L406.7,835.8 L405.9,835.2 L405.2,834.5 L404.5,833.7 L403.9,832.8 L402.9,832.6 L401.9,832.3 L400.9,831.9 L400.1,831.4 L399.3,830.7 L398.6,830.0 L398.1,829.1 L397.7,828.1 L397.4,827.1 L397.2,826.1 L396.3,825.5 L395.5,824.9 L394.8,824.1 L394.2,823.3 L393.7,822.4 L393.4,821.5 L393.3,820.4 L393.3,819.4 L393.4,818.4 L393.6,817.4 L393.0,816.5 L392.5,815.6 L392.1,814.6 L391.9,813.6 L391.8,812.6 L391.9,811.6 L392.1,810.6 L392.5,809.6 L393.0,808.7 L393.6,807.8 L393.4,806.8 L393.3,805.8 L393.3,804.8 L393.4,803.7 L393.7,802.8 L394.2,801.9 L394.8,801.1 L395.5,800.3 L396.3,799.7 L397.2,799.1 L397.4,798.1 L397.7,797.1 L398.1,796.1 L398.6,795.2 L399.3,794.5 L400.1,793.8 L400.9,793.3 L401.9,792.9 L402.9,792.6 L403.9,792.4 L404.5,791.5 L405.2,790.7 L405.9,790.0 L406.7,789.4 L407.6,788.9 L408.6,788.6 L409.6,788.4 L410.6,788.4 L411.6,788.5 L412.7,788.7 L413.5,788.2 L414.5,787.7 L415.4,787.3 L416.4,787.0 L417.4,787.0 L418.4,787.0 L419.4,787.3 L420.3,787.7 L421.3,788.2 L422.1,788.7 L423.2,788.5 L424.2,788.4 L425.2,788.4 L426.2,788.6 L427.2,788.9 L428.1,789.4 L428.9,790.0 L429.6,790.7 L430.3,791.5 L430.9,792.4 L431.9,792.6 L432.9,792.9 L433.9,793.3 L434.7,793.8 L435.5,794.5 L436.2,795.2 L436.7,796.1 L437.1,797.1 L437.4,798.1 L437.6,799.1 L438.5,799.7 L439.3,800.3 L440.0,801.1 L440.6,801.9 L441.1,802.8 L441.4,803.7 L441.5,804.8 L441.5,805.8 L441.4,806.8 L441.2,807.8 L441.8,808.7 L442.3,809.6 L442.7,810.6 L442.9,811.6 Z"/>
<path d="M494.3,831.1 L494.2,832.1 L494.0,833.1 L493.6,834.1 L493.1,835.0 L492.5,835.9 L492.7,836.9 L492.8,837.9 L492.8,838.9 L492.7,840.0 L492.4,840.9 L491.9,841.8 L491.3,842.6 L490.6,843.4 L489.8,844.0 L488.9,844.6 L488.7,845.6 L488.4,846.6 L488.0,847.6 L487.5,848.5 L486.8,849.2 L486.0,849.9 L485.2,850.4 L484.2,850.8 L483.2,851.1 L482.2,851.3 L481.6,852.2 L480.9,853.0 L480.2,853.7 L479.4,854.3 L478.5,854.8 L477.5,855.1 L476.5,855.3 L475.5,855.3 L474.5,855.2 L473.4,855.0 L472.6,855.5 L471.6,856.0 L470.7,856.4 L469.7,856.7 L468.7,856.8 L467.7,856.7 L466.7,856.4 L465.8,856.0 L464.8,855.5 L464.0,855.0 L462.9,855.2 L461.9,855.3 L460.9,855.3 L459.9,855.1 L458.9,854.8 L458.0,854.3 L457.2,853.7 L456.5,853.0 L455.8,852.2 L455.2,851.3 L454.2,851.1 L453.2,850.8 L452.2,850.4 L451.4,849.9 L450.6,849.2 L449.9,848.5 L449.4,847.6 L449.0,846.6 L448.7,845.6 L448.5,844.6 L447.6,844.0 L446.8,843.4 L446.1,842.6 L445.5,841.8 L445.0,840.9 L444.7,840.0 L444.6,838.9 L444.6,837.9 L444.7,836.9 L444.9,835.9 L444.3,835.0 L443.8,834.1 L443.4,833.1 L443.2,832.1 L443.1,831.1 L443.2,830.1 L443.4,829.1 L443.8,828.1 L444.3,827.2 L444.9,826.3 L444.7,825.3 L444.6,824.3 L444.6,823.3 L444.7,822.2 L445.0,821.3 L445.5,820.4 L446.1,819.6 L446.8,818.8 L447.6,818.2 L448.5,817.6 L448.7,816.6 L449.0,815.6 L449.4,814.6 L449.9,813.7 L450.6,813.0 L451.4,812.3 L452.2,811.8 L453.2,811.4 L454.2,811.1 L455.2,810.9 L455.8,810.0 L456.5,809.2 L457.2,808.5 L458.0,807.9 L458.9,807.4 L459.9,807.1 L460.9,806.9 L461.9,806.9 L462.9,807.0 L464.0,807.2 L464.8,806.7 L465.8,806.2 L466.7,805.8 L467.7,805.5 L468.7,805.5 L469.7,805.5 L470.7,805.8 L471.6,806.2 L472.6,806.7 L473.4,807.2 L474.5,807.0 L475.5,806.9 L476.5,806.9 L477.5,807.1 L478.5,807.4 L479.4,807.9 L480.2,808.5 L480.9,809.2 L481.6,810.0 L482.2,810.9 L483.2,811.1 L484.2,811.4 L485.2,811.8 L486.0,812.3 L486.8,813.0 L487.5,813.7 L488.0,814.6 L488.4,815.6 L488.7,816.6 L488.9,817.6 L489.8,818.2 L490.6,818.8 L491.3,819.6 L491.9,820.4 L492.4,821.3 L492.7,822.2 L492.8,823.3 L492.8,824.3 L492.7,825.3 L492.5,826.3 L493.1,827.2 L493.6,828.1 L494.0,829.1 L494.2,830.1 Z"/>
<path d="M402.8,1075.6 L402.7,1076.6 L402.4,1077.6 L402.0,1078.6 L401.5,1079.5 L400.9,1080.4 L401.0,1081.4 L401.1,1082.4 L401.0,1083.4 L400.7,1084.5 L400.4,1085.4 L399.8,1086.3 L399.1,1087.1 L398.3,1087.9 L397.3,1088.5 L396.3,1089.1 L396.0,1090.1 L395.5,1091.1 L395.0,1092.1 L394.3,1093.0 L393.5,1093.7 L392.5,1094.4 L391.5,1094.9 L390.3,1095.3 L389.1,1095.6 L387.9,1095.8 L387.1,1096.7 L386.3,1097.5 L385.3,1098.2 L384.3,1098.8 L383.2,1099.3 L382.0,1099.6 L380.7,1099.8 L379.5,1099.8 L378.2,1099.7 L376.9,1099.5 L375.8,1100.0 L374.7,1100.5 L373.5,1100.9 L372.2,1101.2 L371.0,1101.2 L369.8,1101.2 L368.5,1100.9 L367.3,1100.5 L366.2,1100.0 L365.1,1099.5 L363.8,1099.7 L362.5,1099.8 L361.3,1099.8 L360.0,1099.6 L358.8,1099.3 L357.7,1098.8 L356.7,1098.2 L355.7,1097.5 L354.9,1096.7 L354.1,1095.8 L352.9,1095.6 L351.7,1095.3 L350.5,1094.9 L349.5,1094.4 L348.5,1093.7 L347.7,1093.0 L347.0,1092.1 L346.5,1091.1 L346.0,1090.1 L345.7,1089.1 L344.7,1088.5 L343.7,1087.9 L342.9,1087.1 L342.2,1086.3 L341.6,1085.4 L341.3,1084.5 L341.0,1083.4 L340.9,1082.4 L341.0,1081.4 L341.1,1080.4 L340.5,1079.5 L340.0,1078.6 L339.6,1077.6 L339.3,1076.6 L339.2,1075.6 L339.3,1074.6 L339.6,1073.6 L340.0,1072.6 L340.5,1071.7 L341.1,1070.8 L341.0,1069.8 L340.9,1068.8 L341.0,1067.8 L341.3,1066.7 L341.6,1065.8 L342.2,1064.9 L342.9,1064.1 L343.7,1063.3 L344.7,1062.7 L345.7,1062.1 L346.0,1061.1 L346.5,1060.1 L347.0,1059.1 L347.7,1058.2 L348.5,1057.5 L349.5,1056.8 L350.5,1056.3 L351.7,1055.9 L352.9,1055.6 L354.1,1055.4 L354.9,1054.5 L355.7,1053.7 L356.7,1053.0 L357.7,1052.4 L358.8,1051.9 L360.0,1051.6 L361.3,1051.4 L362.5,1051.4 L363.8,1051.5 L365.1,1051.7 L366.2,1051.2 L367.3,1050.7 L368.5,1050.3 L369.8,1050.0 L371.0,1049.9 L372.2,1050.0 L373.5,1050.3 L374.7,1050.7 L375.8,1051.2 L376.9,1051.7 L378.2,1051.5 L379.5,1051.4 L380.7,1051.4 L382.0,1051.6 L383.2,1051.9 L384.3,1052.4 L385.3,1053.0 L386.3,1053.7 L387.1,1054.5 L387.9,1055.4 L389.1,1055.6 L390.3,1055.9 L391.5,1056.3 L392.5,1056.8 L393.5,1057.5 L394.3,1058.2 L395.0,1059.1 L395.5,1060.1 L396.0,1061.1 L396.3,1062.1 L397.3,1062.7 L398.3,1063.3 L399.1,1064.1 L399.8,1064.9 L400.4,1065.8 L400.7,1066.7 L401.0,1067.8 L401.1,1068.8 L401.0,1069.8 L400.9,1070.8 L401.5,1071.7 L402.0,1072.6 L402.4,1073.6 L402.7,1074.6 Z"/>
<path d="M196.9,1128.0 L196.8,1129.0 L196.6,1130.0 L196.2,1131.0 L195.7,1131.9 L195.1,1132.8 L195.3,1133.8 L195.4,1134.8 L195.4,1135.8 L195.3,1136.9 L195.0,1137.8 L194.5,1138.7 L193.9,1139.5 L193.2,1140.3 L192.4,1140.9 L191.5,1141.5 L191.3,1142.5 L191.0,1143.5 L190.6,1144.5 L190.1,1145.4 L189.4,1146.1 L188.6,1146.8 L187.8,1147.3 L186.8,1147.7 L185.8,1148.0 L184.8,1148.2 L184.2,1149.1 L183.5,1149.9 L182.8,1150.6 L182.0,1151.2 L181.1,1151.7 L180.1,1152.0 L179.1,1152.2 L178.1,1152.2 L177.1,1152.1 L176.0,1151.9 L175.2,1152.4 L174.2,1152.9 L173.3,1153.3 L172.3,1153.6 L171.3,1153.7 L170.3,1153.6 L169.3,1153.3 L168.4,1152.9 L167.4,1152.4 L166.6,1151.9 L165.5,1152.1 L164.5,1152.2 L163.5,1152.2 L162.5,1152.0 L161.5,1151.7 L160.6,1151.2 L159.8,1150.6 L159.1,1149.9 L158.4,1149.1 L157.8,1148.2 L156.8,1148.0 L155.8,1147.7 L154.8,1147.3 L154.0,1146.8 L153.2,1146.1 L152.5,1145.4 L152.0,1144.5 L151.6,1143.5 L151.3,1142.5 L151.1,1141.5 L150.2,1140.9 L149.4,1140.3 L148.7,1139.5 L148.1,1138.7 L147.6,1137.8 L147.3,1136.9 L147.2,1135.8 L147.2,1134.8 L147.3,1133.8 L147.5,1132.8 L146.9,1131.9 L146.4,1131.0 L146.0,1130.0 L145.8,1129.0 L145.7,1128.0 L145.8,1127.0 L146.0,1126.0 L146.4,1125.0 L146.9,1124.1 L147.5,1123.2 L147.3,1122.2 L147.2,1121.2 L147.2,1120.2 L147.3,1119.1 L147.6,1118.2 L148.1,1117.3 L148.7,1116.5 L149.4,1115.7 L150.2,1115.1 L151.1,1114.5 L151.3,1113.5 L151.6,1112.5 L152.0,1111.5 L152.5,1110.6 L153.2,1109.9 L154.0,1109.2 L154.8,1108.7 L155.8,1108.3 L156.8,1108.0 L157.8,1107.8 L158.4,1106.9 L159.1,1106.1 L159.8,1105.4 L160.6,1104.8 L161.5,1104.3 L162.5,1104.0 L163.5,1103.8 L164.5,1103.8 L165.5,1103.9 L166.6,1104.1 L167.4,1103.6 L168.4,1103.1 L169.3,1102.7 L170.3,1102.4 L171.3,1102.3 L172.3,1102.4 L173.3,1102.7 L174.2,1103.1 L175.2,1103.6 L176.0,1104.1 L177.1,1103.9 L178.1,1103.8 L179.1,1103.8 L180.1,1104.0 L181.1,1104.3 L182.0,1104.8 L182.8,1105.4 L183.5,1106.1 L184.2,1106.9 L184.8,1107.8 L185.8,1108.0 L186.8,1108.3 L187.8,1108.7 L188.6,1109.2 L189.4,1109.9 L190.1,1110.6 L190.6,1111.5 L191.0,1112.5 L191.3,1113.5 L191.5,1114.5 L192.4,1115.1 L193.2,1115.7 L193.9,1116.5 L194.5,1117.3 L195.0,1118.2 L195.3,1119.1 L195.4,1120.2 L195.4,1121.2 L195.3,1122.2 L195.1,1123.2 L195.7,1124.1 L196.2,1125.0 L196.6,1126.0 L196.8,1127.0 Z"/>
<path d="M193.9,1187.4 L193.8,1188.4 L193.6,1189.4 L193.2,1190.4 L192.7,1191.3 L192.1,1192.2 L192.3,1193.2 L192.4,1194.2 L192.4,1195.2 L192.3,1196.3 L192.0,1197.2 L191.5,1198.1 L190.9,1198.9 L190.2,1199.7 L189.4,1200.3 L188.5,1200.9 L188.3,1201.9 L188.0,1202.9 L187.6,1203.9 L187.1,1204.8 L186.4,1205.5 L185.6,1206.2 L184.8,1206.7 L183.8,1207.1 L182.8,1207.4 L181.8,1207.6 L181.2,1208.5 L180.5,1209.3 L179.8,1210.0 L179.0,1210.6 L178.1,1211.1 L177.1,1211.4 L176.1,1211.6 L175.1,1211.6 L174.1,1211.5 L173.0,1211.3 L172.2,1211.8 L171.2,1212.3 L170.3,1212.7 L169.3,1213.0 L168.3,1213.1 L167.3,1213.0 L166.3,1212.7 L165.4,1212.3 L164.4,1211.8 L163.6,1211.3 L162.5,1211.5 L161.5,1211.6 L160.5,1211.6 L159.5,1211.4 L158.5,1211.1 L157.6,1210.6 L156.8,1210.0 L156.1,1209.3 L155.4,1208.5 L154.8,1207.6 L153.8,1207.4 L152.8,1207.1 L151.8,1206.7 L151.0,1206.2 L150.2,1205.5 L149.5,1204.8 L149.0,1203.9 L148.6,1202.9 L148.3,1201.9 L148.1,1200.9 L147.2,1200.3 L146.4,1199.7 L145.7,1198.9 L145.1,1198.1 L144.6,1197.2 L144.3,1196.3 L144.2,1195.2 L144.2,1194.2 L144.3,1193.2 L144.5,1192.2 L143.9,1191.3 L143.4,1190.4 L143.0,1189.4 L142.8,1188.4 L142.7,1187.4 L142.8,1186.4 L143.0,1185.4 L143.4,1184.4 L143.9,1183.5 L144.5,1182.6 L144.3,1181.6 L144.2,1180.6 L144.2,1179.6 L144.3,1178.5 L144.6,1177.6 L145.1,1176.7 L145.7,1175.9 L146.4,1175.1 L147.2,1174.5 L148.1,1173.9 L148.3,1172.9 L148.6,1171.9 L149.0,1170.9 L149.5,1170.0 L150.2,1169.3 L151.0,1168.6 L151.8,1168.1 L152.8,1167.7 L153.8,1167.4 L154.8,1167.2 L155.4,1166.3 L156.1,1165.5 L156.8,1164.8 L157.6,1164.2 L158.5,1163.7 L159.5,1163.4 L160.5,1163.2 L161.5,1163.2 L162.5,1163.3 L163.6,1163.5 L164.4,1163.0 L165.4,1162.5 L166.3,1162.1 L167.3,1161.8 L168.3,1161.8 L169.3,1161.8 L170.3,1162.1 L171.2,1162.5 L172.2,1163.0 L173.0,1163.5 L174.1,1163.3 L175.1,1163.2 L176.1,1163.2 L177.1,1163.4 L178.1,1163.7 L179.0,1164.2 L179.8,1164.8 L180.5,1165.5 L181.2,1166.3 L181.8,1167.2 L182.8,1167.4 L183.8,1167.7 L184.8,1168.1 L185.6,1168.6 L186.4,1169.3 L187.1,1170.0 L187.6,1170.9 L188.0,1171.9 L188.3,1172.9 L188.5,1173.9 L189.4,1174.5 L190.2,1175.1 L190.9,1175.9 L191.5,1176.7 L192.0,1177.6 L192.3,1178.5 L192.4,1179.6 L192.4,1180.6 L192.3,1181.6 L192.1,1182.6 L192.7,1183.5 L193.2,1184.4 L193.6,1185.4 L193.8,1186.4 Z"/>
<path d="M205.4,1247.8 L205.4,1248.8 L205.1,1249.8 L204.7,1250.8 L204.2,1251.7 L203.6,1252.6 L203.7,1253.6 L203.8,1254.6 L203.7,1255.6 L203.5,1256.7 L203.2,1257.6 L202.6,1258.5 L202.0,1259.3 L201.2,1260.1 L200.3,1260.7 L199.3,1261.3 L199.0,1262.3 L198.6,1263.3 L198.1,1264.3 L197.4,1265.2 L196.7,1265.9 L195.8,1266.6 L194.8,1267.1 L193.7,1267.5 L192.6,1267.8 L191.4,1268.0 L190.7,1268.9 L189.9,1269.7 L189.0,1270.4 L188.0,1271.0 L187.0,1271.5 L185.8,1271.8 L184.7,1272.0 L183.5,1272.0 L182.3,1271.9 L181.1,1271.7 L180.0,1272.2 L179.0,1272.7 L177.8,1273.1 L176.7,1273.4 L175.5,1273.5 L174.3,1273.4 L173.2,1273.1 L172.0,1272.7 L171.0,1272.2 L169.9,1271.7 L168.7,1271.9 L167.5,1272.0 L166.3,1272.0 L165.2,1271.8 L164.0,1271.5 L163.0,1271.0 L162.0,1270.4 L161.1,1269.7 L160.3,1268.9 L159.6,1268.0 L158.4,1267.8 L157.3,1267.5 L156.2,1267.1 L155.2,1266.6 L154.3,1265.9 L153.6,1265.2 L152.9,1264.3 L152.4,1263.3 L152.0,1262.3 L151.7,1261.3 L150.7,1260.7 L149.8,1260.1 L149.0,1259.3 L148.4,1258.5 L147.8,1257.6 L147.5,1256.7 L147.3,1255.6 L147.2,1254.6 L147.3,1253.6 L147.4,1252.6 L146.8,1251.7 L146.3,1250.8 L145.9,1249.8 L145.6,1248.8 L145.6,1247.8 L145.6,1246.8 L145.9,1245.8 L146.3,1244.8 L146.8,1243.9 L147.4,1243.0 L147.3,1242.0 L147.2,1241.0 L147.3,1240.0 L147.5,1238.9 L147.8,1238.0 L148.4,1237.1 L149.0,1236.3 L149.8,1235.5 L150.7,1234.9 L151.7,1234.3 L152.0,1233.3 L152.4,1232.3 L152.9,1231.3 L153.6,1230.4 L154.3,1229.7 L155.2,1229.0 L156.2,1228.5 L157.3,1228.1 L158.4,1227.8 L159.6,1227.6 L160.3,1226.7 L161.1,1225.9 L162.0,1225.2 L163.0,1224.6 L164.0,1224.1 L165.2,1223.8 L166.3,1223.6 L167.5,1223.6 L168.7,1223.7 L169.9,1223.9 L171.0,1223.4 L172.0,1222.9 L173.2,1222.5 L174.3,1222.2 L175.5,1222.1 L176.7,1222.2 L177.8,1222.5 L179.0,1222.9 L180.0,1223.4 L181.1,1223.9 L182.3,1223.7 L183.5,1223.6 L184.7,1223.6 L185.8,1223.8 L187.0,1224.1 L188.0,1224.6 L189.0,1225.2 L189.9,1225.9 L190.7,1226.7 L191.4,1227.6 L192.6,1227.8 L193.7,1228.1 L194.8,1228.5 L195.8,1229.0 L196.7,1229.7 L197.4,1230.4 L198.1,1231.3 L198.6,1232.3 L199.0,1233.3 L199.3,1234.3 L200.3,1234.9 L201.2,1235.5 L202.0,1236.3 L202.6,1237.1 L203.2,1238.0 L203.5,1238.9 L203.7,1240.0 L203.8,1241.0 L203.7,1242.0 L203.6,1243.0 L204.2,1243.9 L204.7,1244.8 L205.1,1245.8 L205.4,1246.8 Z"/>
<path d="M286.4,1214.0 L286.3,1215.0 L286.1,1216.0 L285.7,1217.0 L285.2,1217.9 L284.6,1218.8 L284.8,1219.8 L284.8,1220.8 L284.8,1221.8 L284.6,1222.9 L284.3,1223.8 L283.8,1224.7 L283.1,1225.5 L282.4,1226.3 L281.5,1226.9 L280.6,1227.5 L280.3,1228.5 L280.0,1229.5 L279.5,1230.5 L278.9,1231.4 L278.2,1232.1 L277.3,1232.8 L276.4,1233.3 L275.4,1233.7 L274.3,1234.0 L273.2,1234.2 L272.5,1235.1 L271.8,1235.9 L270.9,1236.6 L270.0,1237.2 L269.1,1237.7 L268.0,1238.0 L266.9,1238.2 L265.8,1238.2 L264.7,1238.1 L263.5,1237.9 L262.6,1238.4 L261.5,1238.9 L260.5,1239.3 L259.4,1239.6 L258.3,1239.7 L257.2,1239.6 L256.1,1239.3 L255.1,1238.9 L254.0,1238.4 L253.1,1237.9 L251.9,1238.1 L250.8,1238.2 L249.7,1238.2 L248.6,1238.0 L247.5,1237.7 L246.6,1237.2 L245.7,1236.6 L244.8,1235.9 L244.1,1235.1 L243.4,1234.2 L242.3,1234.0 L241.2,1233.7 L240.2,1233.3 L239.3,1232.8 L238.4,1232.1 L237.7,1231.4 L237.1,1230.5 L236.6,1229.5 L236.3,1228.5 L236.0,1227.5 L235.1,1226.9 L234.2,1226.3 L233.5,1225.5 L232.8,1224.7 L232.3,1223.8 L232.0,1222.9 L231.8,1221.8 L231.8,1220.8 L231.8,1219.8 L232.0,1218.8 L231.4,1217.9 L230.9,1217.0 L230.5,1216.0 L230.3,1215.0 L230.2,1214.0 L230.3,1213.0 L230.5,1212.0 L230.9,1211.0 L231.4,1210.1 L232.0,1209.2 L231.8,1208.2 L231.8,1207.2 L231.8,1206.2 L232.0,1205.1 L232.3,1204.2 L232.8,1203.3 L233.5,1202.5 L234.2,1201.7 L235.1,1201.1 L236.0,1200.5 L236.3,1199.5 L236.6,1198.5 L237.1,1197.5 L237.7,1196.6 L238.4,1195.9 L239.3,1195.2 L240.2,1194.7 L241.2,1194.3 L242.3,1194.0 L243.4,1193.8 L244.1,1192.9 L244.8,1192.1 L245.7,1191.4 L246.6,1190.8 L247.5,1190.3 L248.6,1190.0 L249.7,1189.8 L250.8,1189.8 L251.9,1189.9 L253.1,1190.1 L254.0,1189.6 L255.1,1189.1 L256.1,1188.7 L257.2,1188.4 L258.3,1188.3 L259.4,1188.4 L260.5,1188.7 L261.5,1189.1 L262.6,1189.6 L263.5,1190.1 L264.7,1189.9 L265.8,1189.8 L266.9,1189.8 L268.0,1190.0 L269.1,1190.3 L270.0,1190.8 L270.9,1191.4 L271.8,1192.1 L272.5,1192.9 L273.2,1193.8 L274.3,1194.0 L275.4,1194.3 L276.4,1194.7 L277.3,1195.2 L278.2,1195.9 L278.9,1196.6 L279.5,1197.5 L280.0,1198.5 L280.3,1199.5 L280.6,1200.5 L281.5,1201.1 L282.4,1201.7 L283.1,1202.5 L283.8,1203.3 L284.3,1204.2 L284.6,1205.1 L284.8,1206.2 L284.8,1207.2 L284.8,1208.2 L284.6,1209.2 L285.2,1210.1 L285.7,1211.0 L286.1,1212.0 L286.3,1213.0 Z"/>
<path d="M357.8,1221.2 L357.8,1222.2 L357.5,1223.2 L357.1,1224.2 L356.6,1225.1 L356.0,1226.0 L356.1,1227.0 L356.2,1228.0 L356.1,1229.0 L355.9,1230.1 L355.6,1231.0 L355.0,1231.9 L354.4,1232.7 L353.6,1233.5 L352.7,1234.1 L351.7,1234.7 L351.4,1235.7 L351.0,1236.7 L350.5,1237.7 L349.8,1238.6 L349.1,1239.3 L348.2,1240.0 L347.2,1240.5 L346.1,1240.9 L345.0,1241.2 L343.8,1241.4 L343.1,1242.3 L342.3,1243.1 L341.4,1243.8 L340.4,1244.4 L339.4,1244.9 L338.2,1245.2 L337.1,1245.4 L335.9,1245.4 L334.7,1245.3 L333.5,1245.1 L332.4,1245.6 L331.4,1246.1 L330.2,1246.5 L329.1,1246.8 L327.9,1246.9 L326.7,1246.8 L325.6,1246.5 L324.4,1246.1 L323.4,1245.6 L322.3,1245.1 L321.1,1245.3 L319.9,1245.4 L318.7,1245.4 L317.6,1245.2 L316.4,1244.9 L315.4,1244.4 L314.4,1243.8 L313.5,1243.1 L312.7,1242.3 L312.0,1241.4 L310.8,1241.2 L309.7,1240.9 L308.6,1240.5 L307.6,1240.0 L306.7,1239.3 L306.0,1238.6 L305.3,1237.7 L304.8,1236.7 L304.4,1235.7 L304.1,1234.7 L303.1,1234.1 L302.2,1233.5 L301.4,1232.7 L300.8,1231.9 L300.2,1231.0 L299.9,1230.1 L299.7,1229.0 L299.6,1228.0 L299.7,1227.0 L299.8,1226.0 L299.2,1225.1 L298.7,1224.2 L298.3,1223.2 L298.0,1222.2 L298.0,1221.2 L298.0,1220.2 L298.3,1219.2 L298.7,1218.2 L299.2,1217.3 L299.8,1216.4 L299.7,1215.4 L299.6,1214.4 L299.7,1213.4 L299.9,1212.3 L300.2,1211.4 L300.8,1210.5 L301.4,1209.7 L302.2,1208.9 L303.1,1208.3 L304.1,1207.7 L304.4,1206.7 L304.8,1205.7 L305.3,1204.7 L306.0,1203.8 L306.7,1203.1 L307.6,1202.4 L308.6,1201.9 L309.7,1201.5 L310.8,1201.2 L312.0,1201.0 L312.7,1200.1 L313.5,1199.3 L314.4,1198.6 L315.4,1198.0 L316.4,1197.5 L317.6,1197.2 L318.7,1197.0 L319.9,1197.0 L321.1,1197.1 L322.3,1197.3 L323.4,1196.8 L324.4,1196.3 L325.6,1195.9 L326.7,1195.6 L327.9,1195.5 L329.1,1195.6 L330.2,1195.9 L331.4,1196.3 L332.4,1196.8 L333.5,1197.3 L334.7,1197.1 L335.9,1197.0 L337.1,1197.0 L338.2,1197.2 L339.4,1197.5 L340.4,1198.0 L341.4,1198.6 L342.3,1199.3 L343.1,1200.1 L343.8,1201.0 L345.0,1201.2 L346.1,1201.5 L347.2,1201.9 L348.2,1202.4 L349.1,1203.1 L349.8,1203.8 L350.5,1204.7 L351.0,1205.7 L351.4,1206.7 L351.7,1207.7 L352.7,1208.3 L353.6,1208.9 L354.4,1209.7 L355.0,1210.5 L355.6,1211.4 L355.9,1212.3 L356.1,1213.4 L356.2,1214.4 L356.1,1215.4 L356.0,1216.4 L356.6,1217.3 L357.1,1218.2 L357.5,1219.2 L357.8,1220.2 Z"/>
<path d="M894.4,1053.9 L894.4,1054.9 L894.1,1055.9 L893.7,1056.9 L893.2,1057.8 L892.6,1058.7 L892.7,1059.7 L892.8,1060.7 L892.7,1061.7 L892.5,1062.8 L892.2,1063.7 L891.6,1064.6 L891.0,1065.4 L890.2,1066.2 L889.3,1066.8 L888.3,1067.4 L888.0,1068.4 L887.6,1069.4 L887.1,1070.4 L886.4,1071.3 L885.7,1072.0 L884.8,1072.7 L883.8,1073.2 L882.7,1073.6 L881.6,1073.9 L880.4,1074.1 L879.7,1075.0 L878.9,1075.8 L878.0,1076.5 L877.0,1077.1 L876.0,1077.6 L874.8,1077.9 L873.7,1078.1 L872.5,1078.1 L871.3,1078.0 L870.1,1077.8 L869.0,1078.3 L868.0,1078.8 L866.8,1079.2 L865.7,1079.5 L864.5,1079.6 L863.3,1079.5 L862.2,1079.2 L861.0,1078.8 L860.0,1078.3 L858.9,1077.8 L857.7,1078.0 L856.5,1078.1 L855.3,1078.1 L854.2,1077.9 L853.0,1077.6 L852.0,1077.1 L851.0,1076.5 L850.1,1075.8 L849.3,1075.0 L848.6,1074.1 L847.4,1073.9 L846.3,1073.6 L845.2,1073.2 L844.2,1072.7 L843.3,1072.0 L842.6,1071.3 L841.9,1070.4 L841.4,1069.4 L841.0,1068.4 L840.7,1067.4 L839.7,1066.8 L838.8,1066.2 L838.0,1065.4 L837.4,1064.6 L836.8,1063.7 L836.5,1062.8 L836.3,1061.7 L836.2,1060.7 L836.3,1059.7 L836.4,1058.7 L835.8,1057.8 L835.3,1056.9 L834.9,1055.9 L834.6,1054.9 L834.6,1053.9 L834.6,1052.9 L834.9,1051.9 L835.3,1050.9 L835.8,1050.0 L836.4,1049.1 L836.3,1048.1 L836.2,1047.1 L836.3,1046.1 L836.5,1045.0 L836.8,1044.1 L837.4,1043.2 L838.0,1042.4 L838.8,1041.6 L839.7,1041.0 L840.7,1040.4 L841.0,1039.4 L841.4,1038.4 L841.9,1037.4 L842.6,1036.5 L843.3,1035.8 L844.2,1035.1 L845.2,1034.6 L846.3,1034.2 L847.4,1033.9 L848.6,1033.7 L849.3,1032.8 L850.1,1032.0 L851.0,1031.3 L852.0,1030.7 L853.0,1030.2 L854.2,1029.9 L855.3,1029.7 L856.5,1029.7 L857.7,1029.8 L858.9,1030.0 L860.0,1029.5 L861.0,1029.0 L862.2,1028.6 L863.3,1028.3 L864.5,1028.2 L865.7,1028.3 L866.8,1028.6 L868.0,1029.0 L869.0,1029.5 L870.1,1030.0 L871.3,1029.8 L872.5,1029.7 L873.7,1029.7 L874.8,1029.9 L876.0,1030.2 L877.0,1030.7 L878.0,1031.3 L878.9,1032.0 L879.7,1032.8 L880.4,1033.7 L881.6,1033.9 L882.7,1034.2 L883.8,1034.6 L884.8,1035.1 L885.7,1035.8 L886.4,1036.5 L887.1,1037.4 L887.6,1038.4 L888.0,1039.4 L888.3,1040.4 L889.3,1041.0 L890.2,1041.6 L891.0,1042.4 L891.6,1043.2 L892.2,1044.1 L892.5,1045.0 L892.7,1046.1 L892.8,1047.1 L892.7,1048.1 L892.6,1049.1 L893.2,1050.0 L893.7,1050.9 L894.1,1051.9 L894.4,1052.9 Z"/>
<path d="M868.3,1241.4 L868.2,1242.4 L868.0,1243.4 L867.6,1244.4 L867.1,1245.3 L866.5,1246.2 L866.7,1247.2 L866.8,1248.2 L866.8,1249.2 L866.7,1250.3 L866.4,1251.2 L865.9,1252.1 L865.3,1252.9 L864.6,1253.7 L863.8,1254.3 L862.9,1254.9 L862.7,1255.9 L862.4,1256.9 L862.0,1257.9 L861.5,1258.8 L860.8,1259.5 L860.0,1260.2 L859.2,1260.7 L858.2,1261.1 L857.2,1261.4 L856.2,1261.6 L855.6,1262.5 L854.9,1263.3 L854.2,1264.0 L853.4,1264.6 L852.5,1265.1 L851.5,1265.4 L850.5,1265.6 L849.5,1265.6 L848.5,1265.5 L847.4,1265.3 L846.6,1265.8 L845.6,1266.3 L844.7,1266.7 L843.7,1267.0 L842.7,1267.1 L841.7,1267.0 L840.7,1266.7 L839.8,1266.3 L838.8,1265.8 L838.0,1265.3 L836.9,1265.5 L835.9,1265.6 L834.9,1265.6 L833.9,1265.4 L832.9,1265.1 L832.0,1264.6 L831.2,1264.0 L830.5,1263.3 L829.8,1262.5 L829.2,1261.6 L828.2,1261.4 L827.2,1261.1 L826.2,1260.7 L825.4,1260.2 L824.6,1259.5 L823.9,1258.8 L823.4,1257.9 L823.0,1256.9 L822.7,1255.9 L822.5,1254.9 L821.6,1254.3 L820.8,1253.7 L820.1,1252.9 L819.5,1252.1 L819.0,1251.2 L818.7,1250.3 L818.6,1249.2 L818.6,1248.2 L818.7,1247.2 L818.9,1246.2 L818.3,1245.3 L817.8,1244.4 L817.4,1243.4 L817.2,1242.4 L817.1,1241.4 L817.2,1240.4 L817.4,1239.4 L817.8,1238.4 L818.3,1237.5 L818.9,1236.6 L818.7,1235.6 L818.6,1234.6 L818.6,1233.6 L818.7,1232.5 L819.0,1231.6 L819.5,1230.7 L820.1,1229.9 L820.8,1229.1 L821.6,1228.5 L822.5,1227.9 L822.7,1226.9 L823.0,1225.9 L823.4,1224.9 L823.9,1224.0 L824.6,1223.3 L825.4,1222.6 L826.2,1222.1 L827.2,1221.7 L828.2,1221.4 L829.2,1221.2 L829.8,1220.3 L830.5,1219.5 L831.2,1218.8 L832.0,1218.2 L832.9,1217.7 L833.9,1217.4 L834.9,1217.2 L835.9,1217.2 L836.9,1217.3 L838.0,1217.5 L838.8,1217.0 L839.8,1216.5 L840.7,1216.1 L841.7,1215.8 L842.7,1215.8 L843.7,1215.8 L844.7,1216.1 L845.6,1216.5 L846.6,1217.0 L847.4,1217.5 L848.5,1217.3 L849.5,1217.2 L850.5,1217.2 L851.5,1217.4 L852.5,1217.7 L853.4,1218.2 L854.2,1218.8 L854.9,1219.5 L855.6,1220.3 L856.2,1221.2 L857.2,1221.4 L858.2,1221.7 L859.2,1222.1 L860.0,1222.6 L860.8,1223.3 L861.5,1224.0 L862.0,1224.9 L862.4,1225.9 L862.7,1226.9 L862.9,1227.9 L863.8,1228.5 L864.6,1229.1 L865.3,1229.9 L865.9,1230.7 L866.4,1231.6 L866.7,1232.5 L866.8,1233.6 L866.8,1234.6 L866.7,1235.6 L866.5,1236.6 L867.1,1237.5 L867.6,1238.4 L868.0,1239.4 L868.2,1240.4 Z"/>
<path d="M812.6,1297.0 L812.5,1298.0 L812.3,1299.0 L811.9,1300.0 L811.4,1300.9 L810.8,1301.8 L811.0,1302.8 L811.1,1303.8 L811.1,1304.8 L811.0,1305.9 L810.7,1306.8 L810.2,1307.7 L809.6,1308.5 L808.9,1309.3 L808.1,1309.9 L807.2,1310.5 L807.0,1311.5 L806.7,1312.5 L806.3,1313.5 L805.8,1314.4 L805.1,1315.1 L804.3,1315.8 L803.5,1316.3 L802.5,1316.7 L801.5,1317.0 L800.5,1317.2 L799.9,1318.1 L799.2,1318.9 L798.5,1319.6 L797.7,1320.2 L796.8,1320.7 L795.8,1321.0 L794.8,1321.2 L793.8,1321.2 L792.8,1321.1 L791.7,1320.9 L790.9,1321.4 L789.9,1321.9 L789.0,1322.3 L788.0,1322.6 L787.0,1322.7 L786.0,1322.6 L785.0,1322.3 L784.1,1321.9 L783.1,1321.4 L782.3,1320.9 L781.2,1321.1 L780.2,1321.2 L779.2,1321.2 L778.2,1321.0 L777.2,1320.7 L776.3,1320.2 L775.5,1319.6 L774.8,1318.9 L774.1,1318.1 L773.5,1317.2 L772.5,1317.0 L771.5,1316.7 L770.5,1316.3 L769.7,1315.8 L768.9,1315.1 L768.2,1314.4 L767.7,1313.5 L767.3,1312.5 L767.0,1311.5 L766.8,1310.5 L765.9,1309.9 L765.1,1309.3 L764.4,1308.5 L763.8,1307.7 L763.3,1306.8 L763.0,1305.9 L762.9,1304.8 L762.9,1303.8 L763.0,1302.8 L763.2,1301.8 L762.6,1300.9 L762.1,1300.0 L761.7,1299.0 L761.5,1298.0 L761.4,1297.0 L761.5,1296.0 L761.7,1295.0 L762.1,1294.0 L762.6,1293.1 L763.2,1292.2 L763.0,1291.2 L762.9,1290.2 L762.9,1289.2 L763.0,1288.1 L763.3,1287.2 L763.8,1286.3 L764.4,1285.5 L765.1,1284.7 L765.9,1284.1 L766.8,1283.5 L767.0,1282.5 L767.3,1281.5 L767.7,1280.5 L768.2,1279.6 L768.9,1278.9 L769.7,1278.2 L770.5,1277.7 L771.5,1277.3 L772.5,1277.0 L773.5,1276.8 L774.1,1275.9 L774.8,1275.1 L775.5,1274.4 L776.3,1273.8 L777.2,1273.3 L778.2,1273.0 L779.2,1272.8 L780.2,1272.8 L781.2,1272.9 L782.3,1273.1 L783.1,1272.6 L784.1,1272.1 L785.0,1271.7 L786.0,1271.4 L787.0,1271.3 L788.0,1271.4 L789.0,1271.7 L789.9,1272.1 L790.9,1272.6 L791.7,1273.1 L792.8,1272.9 L793.8,1272.8 L794.8,1272.8 L795.8,1273.0 L796.8,1273.3 L797.7,1273.8 L798.5,1274.4 L799.2,1275.1 L799.9,1275.9 L800.5,1276.8 L801.5,1277.0 L802.5,1277.3 L803.5,1277.7 L804.3,1278.2 L805.1,1278.9 L805.8,1279.6 L806.3,1280.5 L806.7,1281.5 L807.0,1282.5 L807.2,1283.5 L808.1,1284.1 L808.9,1284.7 L809.6,1285.5 L810.2,1286.3 L810.7,1287.2 L811.0,1288.1 L811.1,1289.2 L811.1,1290.2 L811.0,1291.2 L810.8,1292.2 L811.4,1293.1 L811.9,1294.0 L812.3,1295.0 L812.5,1296.0 Z"/>
<path d="M957.9,1290.5 L957.9,1291.5 L957.6,1292.5 L957.2,1293.5 L956.7,1294.4 L956.1,1295.3 L956.2,1296.3 L956.3,1297.3 L956.2,1298.3 L956.0,1299.4 L955.7,1300.3 L955.1,1301.2 L954.5,1302.0 L953.7,1302.8 L952.8,1303.4 L951.8,1304.0 L951.5,1305.0 L951.1,1306.0 L950.6,1307.0 L949.9,1307.9 L949.2,1308.6 L948.3,1309.3 L947.3,1309.8 L946.2,1310.2 L945.1,1310.5 L943.9,1310.7 L943.2,1311.6 L942.4,1312.4 L941.5,1313.1 L940.5,1313.7 L939.5,1314.2 L938.3,1314.5 L937.2,1314.7 L936.0,1314.7 L934.8,1314.6 L933.6,1314.4 L932.5,1314.9 L931.5,1315.4 L930.3,1315.8 L929.2,1316.1 L928.0,1316.2 L926.8,1316.1 L925.7,1315.8 L924.5,1315.4 L923.5,1314.9 L922.4,1314.4 L921.2,1314.6 L920.0,1314.7 L918.8,1314.7 L917.7,1314.5 L916.5,1314.2 L915.5,1313.7 L914.5,1313.1 L913.6,1312.4 L912.8,1311.6 L912.1,1310.7 L910.9,1310.5 L909.8,1310.2 L908.7,1309.8 L907.7,1309.3 L906.8,1308.6 L906.1,1307.9 L905.4,1307.0 L904.9,1306.0 L904.5,1305.0 L904.2,1304.0 L903.2,1303.4 L902.3,1302.8 L901.5,1302.0 L900.9,1301.2 L900.3,1300.3 L900.0,1299.4 L899.8,1298.3 L899.7,1297.3 L899.8,1296.3 L899.9,1295.3 L899.3,1294.4 L898.8,1293.5 L898.4,1292.5 L898.1,1291.5 L898.1,1290.5 L898.1,1289.5 L898.4,1288.5 L898.8,1287.5 L899.3,1286.6 L899.9,1285.7 L899.8,1284.7 L899.7,1283.7 L899.8,1282.7 L900.0,1281.6 L900.3,1280.7 L900.9,1279.8 L901.5,1279.0 L902.3,1278.2 L903.2,1277.6 L904.2,1277.0 L904.5,1276.0 L904.9,1275.0 L905.4,1274.0 L906.1,1273.1 L906.8,1272.4 L907.7,1271.7 L908.7,1271.2 L909.8,1270.8 L910.9,1270.5 L912.1,1270.3 L912.8,1269.4 L913.6,1268.6 L914.5,1267.9 L915.5,1267.3 L916.5,1266.8 L917.7,1266.5 L918.8,1266.3 L920.0,1266.3 L921.2,1266.4 L922.4,1266.6 L923.5,1266.1 L924.5,1265.6 L925.7,1265.2 L926.8,1264.9 L928.0,1264.8 L929.2,1264.9 L930.3,1265.2 L931.5,1265.6 L932.5,1266.1 L933.6,1266.6 L934.8,1266.4 L936.0,1266.3 L937.2,1266.3 L938.3,1266.5 L939.5,1266.8 L940.5,1267.3 L941.5,1267.9 L942.4,1268.6 L943.2,1269.4 L943.9,1270.3 L945.1,1270.5 L946.2,1270.8 L947.3,1271.2 L948.3,1271.7 L949.2,1272.4 L949.9,1273.1 L950.6,1274.0 L951.1,1275.0 L951.5,1276.0 L951.8,1277.0 L952.8,1277.6 L953.7,1278.2 L954.5,1279.0 L955.1,1279.8 L955.7,1280.7 L956.0,1281.6 L956.2,1282.7 L956.3,1283.7 L956.2,1284.7 L956.1,1285.7 L956.7,1286.6 L957.2,1287.5 L957.6,1288.5 L957.9,1289.5 Z"/>
<path d="M1057.0,1290.5 L1056.9,1291.5 L1056.7,1292.5 L1056.3,1293.5 L1055.8,1294.4 L1055.2,1295.3 L1055.4,1296.3 L1055.5,1297.3 L1055.5,1298.3 L1055.4,1299.4 L1055.1,1300.3 L1054.6,1301.2 L1054.0,1302.0 L1053.3,1302.8 L1052.5,1303.4 L1051.6,1304.0 L1051.4,1305.0 L1051.1,1306.0 L1050.7,1307.0 L1050.2,1307.9 L1049.5,1308.6 L1048.7,1309.3 L1047.9,1309.8 L1046.9,1310.2 L1045.9,1310.5 L1044.9,1310.7 L1044.3,1311.6 L1043.6,1312.4 L1042.9,1313.1 L1042.1,1313.7 L1041.2,1314.2 L1040.2,1314.5 L1039.2,1314.7 L1038.2,1314.7 L1037.2,1314.6 L1036.1,1314.4 L1035.3,1314.9 L1034.3,1315.4 L1033.4,1315.8 L1032.4,1316.1 L1031.4,1316.2 L1030.4,1316.1 L1029.4,1315.8 L1028.5,1315.4 L1027.5,1314.9 L1026.7,1314.4 L1025.6,1314.6 L1024.6,1314.7 L1023.6,1314.7 L1022.6,1314.5 L1021.6,1314.2 L1020.7,1313.7 L1019.9,1313.1 L1019.2,1312.4 L1018.5,1311.6 L1017.9,1310.7 L1016.9,1310.5 L1015.9,1310.2 L1014.9,1309.8 L1014.1,1309.3 L1013.3,1308.6 L1012.6,1307.9 L1012.1,1307.0 L1011.7,1306.0 L1011.4,1305.0 L1011.2,1304.0 L1010.3,1303.4 L1009.5,1302.8 L1008.8,1302.0 L1008.2,1301.2 L1007.7,1300.3 L1007.4,1299.4 L1007.3,1298.3 L1007.3,1297.3 L1007.4,1296.3 L1007.6,1295.3 L1007.0,1294.4 L1006.5,1293.5 L1006.1,1292.5 L1005.9,1291.5 L1005.8,1290.5 L1005.9,1289.5 L1006.1,1288.5 L1006.5,1287.5 L1007.0,1286.6 L1007.6,1285.7 L1007.4,1284.7 L1007.3,1283.7 L1007.3,1282.7 L1007.4,1281.6 L1007.7,1280.7 L1008.2,1279.8 L1008.8,1279.0 L1009.5,1278.2 L1010.3,1277.6 L1011.2,1277.0 L1011.4,1276.0 L1011.7,1275.0 L1012.1,1274.0 L1012.6,1273.1 L1013.3,1272.4 L1014.1,1271.7 L1014.9,1271.2 L1015.9,1270.8 L1016.9,1270.5 L1017.9,1270.3 L1018.5,1269.4 L1019.2,1268.6 L1019.9,1267.9 L1020.7,1267.3 L1021.6,1266.8 L1022.6,1266.5 L1023.6,1266.3 L1024.6,1266.3 L1025.6,1266.4 L1026.7,1266.6 L1027.5,1266.1 L1028.5,1265.6 L1029.4,1265.2 L1030.4,1264.9 L1031.4,1264.8 L1032.4,1264.9 L1033.4,1265.2 L1034.3,1265.6 L1035.3,1266.1 L1036.1,1266.6 L1037.2,1266.4 L1038.2,1266.3 L1039.2,1266.3 L1040.2,1266.5 L1041.2,1266.8 L1042.1,1267.3 L1042.9,1267.9 L1043.6,1268.6 L1044.3,1269.4 L1044.9,1270.3 L1045.9,1270.5 L1046.9,1270.8 L1047.9,1271.2 L1048.7,1271.7 L1049.5,1272.4 L1050.2,1273.1 L1050.7,1274.0 L1051.1,1275.0 L1051.4,1276.0 L1051.6,1277.0 L1052.5,1277.6 L1053.3,1278.2 L1054.0,1279.0 L1054.6,1279.8 L1055.1,1280.7 L1055.4,1281.6 L1055.5,1282.7 L1055.5,1283.7 L1055.4,1284.7 L1055.2,1285.7 L1055.8,1286.6 L1056.3,1287.5 L1056.7,1288.5 L1056.9,1289.5 Z"/>
<path d="M1139.9,1323.2 L1139.8,1324.2 L1139.6,1325.2 L1139.2,1326.2 L1138.7,1327.1 L1138.1,1328.0 L1138.3,1329.0 L1138.4,1330.0 L1138.4,1331.0 L1138.3,1332.1 L1138.0,1333.0 L1137.5,1333.9 L1136.9,1334.7 L1136.2,1335.5 L1135.4,1336.1 L1134.5,1336.7 L1134.3,1337.7 L1134.0,1338.7 L1133.6,1339.7 L1133.1,1340.6 L1132.4,1341.3 L1131.6,1342.0 L1130.8,1342.5 L1129.8,1342.9 L1128.8,1343.2 L1127.8,1343.4 L1127.2,1344.3 L1126.5,1345.1 L1125.8,1345.8 L1125.0,1346.4 L1124.1,1346.9 L1123.1,1347.2 L1122.1,1347.4 L1121.1,1347.4 L1120.1,1347.3 L1119.0,1347.1 L1118.2,1347.6 L1117.2,1348.1 L1116.3,1348.5 L1115.3,1348.8 L1114.3,1348.9 L1113.3,1348.8 L1112.3,1348.5 L1111.4,1348.1 L1110.4,1347.6 L1109.6,1347.1 L1108.5,1347.3 L1107.5,1347.4 L1106.5,1347.4 L1105.5,1347.2 L1104.5,1346.9 L1103.6,1346.4 L1102.8,1345.8 L1102.1,1345.1 L1101.4,1344.3 L1100.8,1343.4 L1099.8,1343.2 L1098.8,1342.9 L1097.8,1342.5 L1097.0,1342.0 L1096.2,1341.3 L1095.5,1340.6 L1095.0,1339.7 L1094.6,1338.7 L1094.3,1337.7 L1094.1,1336.7 L1093.2,1336.1 L1092.4,1335.5 L1091.7,1334.7 L1091.1,1333.9 L1090.6,1333.0 L1090.3,1332.1 L1090.2,1331.0 L1090.2,1330.0 L1090.3,1329.0 L1090.5,1328.0 L1089.9,1327.1 L1089.4,1326.2 L1089.0,1325.2 L1088.8,1324.2 L1088.7,1323.2 L1088.8,1322.2 L1089.0,1321.2 L1089.4,1320.2 L1089.9,1319.3 L1090.5,1318.4 L1090.3,1317.4 L1090.2,1316.4 L1090.2,1315.4 L1090.3,1314.3 L1090.6,1313.4 L1091.1,1312.5 L1091.7,1311.7 L1092.4,1310.9 L1093.2,1310.3 L1094.1,1309.7 L1094.3,1308.7 L1094.6,1307.7 L1095.0,1306.7 L1095.5,1305.8 L1096.2,1305.1 L1097.0,1304.4 L1097.8,1303.9 L1098.8,1303.5 L1099.8,1303.2 L1100.8,1303.0 L1101.4,1302.1 L1102.1,1301.3 L1102.8,1300.6 L1103.6,1300.0 L1104.5,1299.5 L1105.5,1299.2 L1106.5,1299.0 L1107.5,1299.0 L1108.5,1299.1 L1109.6,1299.3 L1110.4,1298.8 L1111.4,1298.3 L1112.3,1297.9 L1113.3,1297.6 L1114.3,1297.5 L1115.3,1297.6 L1116.3,1297.9 L1117.2,1298.3 L1118.2,1298.8 L1119.0,1299.3 L1120.1,1299.1 L1121.1,1299.0 L1122.1,1299.0 L1123.1,1299.2 L1124.1,1299.5 L1125.0,1300.0 L1125.8,1300.6 L1126.5,1301.3 L1127.2,1302.1 L1127.8,1303.0 L1128.8,1303.2 L1129.8,1303.5 L1130.8,1303.9 L1131.6,1304.4 L1132.4,1305.1 L1133.1,1305.8 L1133.6,1306.7 L1134.0,1307.7 L1134.3,1308.7 L1134.5,1309.7 L1135.4,1310.3 L1136.2,1310.9 L1136.9,1311.7 L1137.5,1312.5 L1138.0,1313.4 L1138.3,1314.3 L1138.4,1315.4 L1138.4,1316.4 L1138.3,1317.4 L1138.1,1318.4 L1138.7,1319.3 L1139.2,1320.2 L1139.6,1321.2 L1139.8,1322.2 Z"/>
<path d="M1441.3,1200.5 L1441.2,1201.5 L1441.0,1202.5 L1440.6,1203.5 L1440.1,1204.4 L1439.5,1205.3 L1439.7,1206.3 L1439.7,1207.3 L1439.7,1208.3 L1439.5,1209.4 L1439.2,1210.3 L1438.7,1211.2 L1438.0,1212.0 L1437.3,1212.8 L1436.4,1213.4 L1435.5,1214.0 L1435.2,1215.0 L1434.9,1216.0 L1434.4,1217.0 L1433.8,1217.9 L1433.1,1218.6 L1432.2,1219.3 L1431.3,1219.8 L1430.3,1220.2 L1429.2,1220.5 L1428.1,1220.7 L1427.4,1221.6 L1426.7,1222.4 L1425.8,1223.1 L1424.9,1223.7 L1424.0,1224.2 L1422.9,1224.5 L1421.8,1224.7 L1420.7,1224.7 L1419.6,1224.6 L1418.4,1224.4 L1417.5,1224.9 L1416.4,1225.4 L1415.4,1225.8 L1414.3,1226.1 L1413.2,1226.2 L1412.1,1226.1 L1411.0,1225.8 L1410.0,1225.4 L1408.9,1224.9 L1408.0,1224.4 L1406.8,1224.6 L1405.7,1224.7 L1404.6,1224.7 L1403.5,1224.5 L1402.4,1224.2 L1401.5,1223.7 L1400.6,1223.1 L1399.7,1222.4 L1399.0,1221.6 L1398.3,1220.7 L1397.2,1220.5 L1396.1,1220.2 L1395.1,1219.8 L1394.2,1219.3 L1393.3,1218.6 L1392.6,1217.9 L1392.0,1217.0 L1391.5,1216.0 L1391.2,1215.0 L1390.9,1214.0 L1390.0,1213.4 L1389.1,1212.8 L1388.4,1212.0 L1387.7,1211.2 L1387.2,1210.3 L1386.9,1209.4 L1386.7,1208.3 L1386.7,1207.3 L1386.7,1206.3 L1386.9,1205.3 L1386.3,1204.4 L1385.8,1203.5 L1385.4,1202.5 L1385.2,1201.5 L1385.1,1200.5 L1385.2,1199.5 L1385.4,1198.5 L1385.8,1197.5 L1386.3,1196.6 L1386.9,1195.7 L1386.7,1194.7 L1386.7,1193.7 L1386.7,1192.7 L1386.9,1191.6 L1387.2,1190.7 L1387.7,1189.8 L1388.4,1189.0 L1389.1,1188.2 L1390.0,1187.6 L1390.9,1187.0 L1391.2,1186.0 L1391.5,1185.0 L1392.0,1184.0 L1392.6,1183.1 L1393.3,1182.4 L1394.2,1181.7 L1395.1,1181.2 L1396.1,1180.8 L1397.2,1180.5 L1398.3,1180.3 L1399.0,1179.4 L1399.7,1178.6 L1400.6,1177.9 L1401.5,1177.3 L1402.4,1176.8 L1403.5,1176.5 L1404.6,1176.3 L1405.7,1176.3 L1406.8,1176.4 L1408.0,1176.6 L1408.9,1176.1 L1410.0,1175.6 L1411.0,1175.2 L1412.1,1174.9 L1413.2,1174.8 L1414.3,1174.9 L1415.4,1175.2 L1416.4,1175.6 L1417.5,1176.1 L1418.4,1176.6 L1419.6,1176.4 L1420.7,1176.3 L1421.8,1176.3 L1422.9,1176.5 L1424.0,1176.8 L1424.9,1177.3 L1425.8,1177.9 L1426.7,1178.6 L1427.4,1179.4 L1428.1,1180.3 L1429.2,1180.5 L1430.3,1180.8 L1431.3,1181.2 L1432.2,1181.7 L1433.1,1182.4 L1433.8,1183.1 L1434.4,1184.0 L1434.9,1185.0 L1435.2,1186.0 L1435.5,1187.0 L1436.4,1187.6 L1437.3,1188.2 L1438.0,1189.0 L1438.7,1189.8 L1439.2,1190.7 L1439.5,1191.6 L1439.7,1192.7 L1439.7,1193.7 L1439.7,1194.7 L1439.5,1195.7 L1440.1,1196.6 L1440.6,1197.5 L1441.0,1198.5 L1441.2,1199.5 Z"/>
</g>
<g fill="#f2f4fb" font-family="Liberation Sans, sans-serif" font-size="33" text-anchor="middle">
<text x="207.4" y="819.1">Ti</text>
<text x="219.5" y="880.5">O</text>
<text x="414.4" y="826.9">Al</text>
<text x="465.7" y="845.4">Si</text>
<text x="368.0" y="1089.9">Mg</text>
<text x="169.3" y="1142.3">C</text>
<text x="166.3" y="1201.7">K</text>
<text x="172.5" y="1262.1">Ca</text>
<text x="255.3" y="1228.3">Fe</text>
<text x="324.9" y="1235.5">Na</text>
<text x="861.5" y="1068.2">Ca</text>
<text x="840.7" y="1255.7">K</text>
<text x="785.0" y="1311.3">K</text>
<text x="925.0" y="1304.8">Ca</text>
<text x="1031.6" y="1304.8">Ti</text>
<text x="1114.5" y="1337.5">Ti</text>
<text x="1410.2" y="1214.8">Fe</text>
</g>
<rect x="1159.5" y="760" width="289" height="14" fill="#fbfdff"/>
<rect x="1159.8" y="769.5" width="288.2" height="398.0" fill="#f4fbff"/>
<rect x="1163.3" y="773.0" width="281.7" height="390.5" fill="#08346a"/>
<g fill="#f6f9ff" stroke="#f6f9ff" stroke-width="0.5" font-family="Liberation Serif, serif" font-size="67">
<text x="1168" y="834.2" transform="translate(1168 0) scale(0.965 1) translate(-1168 0)">O</text>
<text x="1265.5" y="834.2" transform="translate(1265.5 0) scale(0.965 1) translate(-1265.5 0)">80.2%</text>
<text x="1168" y="911" transform="translate(1168 0) scale(0.965 1) translate(-1168 0)">Si</text>
<text x="1274.8" y="911" transform="translate(1274.8 0) scale(0.965 1) translate(-1274.8 0)">12.3%</text>
<text x="1168" y="988" transform="translate(1168 0) scale(0.965 1) translate(-1168 0)">Na</text>
<text x="1276.5" y="988" transform="translate(1276.5 0) scale(0.965 1) translate(-1276.5 0)">0.9%</text>
<text x="1168" y="1066.3" transform="translate(1168 0) scale(0.965 1) translate(-1168 0)">Al</text>
<text x="1282" y="1066.3" transform="translate(1282 0) scale(0.965 1) translate(-1282 0)">2.3%</text>
<text x="1168" y="1143.2" transform="translate(1168 0) scale(0.965 1) translate(-1168 0)">Mg</text>
<text x="1276.5" y="1143.2" transform="translate(1276.5 0) scale(0.965 1) translate(-1276.5 0)">1.5%</text>
</g>
<rect x="26" y="1387" width="1421" height="117" fill="#ffffff"/>
<rect x="26" y="1387" width="2.2" height="118" fill="#2c3139"/>
<rect x="1445" y="1387" width="2.2" height="118" fill="#7c88a8"/>
<rect x="26" y="1504" width="1421" height="3" fill="#737b84"/>
<rect x="26" y="1386" width="1422" height="2.6" fill="#101010"/>
<g fill="#1a1a1a"><rect x="75.3" y="1387" width="2.2" height="8"/><rect x="95.6" y="1387" width="2.2" height="8"/><rect x="115.9" y="1387" width="2.2" height="14"/><rect x="136.2" y="1387" width="2.2" height="8"/><rect x="156.5" y="1387" width="2.2" height="8"/><rect x="176.7" y="1387" width="2.2" height="8"/><rect x="197.0" y="1387" width="2.2" height="8"/><rect x="217.3" y="1387" width="2.2" height="11"/><rect x="237.6" y="1387" width="2.2" height="8"/><rect x="257.9" y="1387" width="2.2" height="8"/><rect x="278.1" y="1387" width="2.2" height="8"/><rect x="298.4" y="1387" width="2.2" height="8"/><rect x="318.7" y="1387" width="2.2" height="14"/><rect x="339.0" y="1387" width="2.2" height="8"/><rect x="359.3" y="1387" width="2.2" height="8"/><rect x="379.5" y="1387" width="2.2" height="8"/><rect x="399.8" y="1387" width="2.2" height="8"/><rect x="420.1" y="1387" width="2.2" height="11"/><rect x="440.4" y="1387" width="2.2" height="8"/><rect x="460.7" y="1387" width="2.2" height="8"/><rect x="480.9" y="1387" width="2.2" height="8"/><rect x="501.2" y="1387" width="2.2" height="8"/><rect x="521.5" y="1387" width="2.2" height="14"/><rect x="541.8" y="1387" width="2.2" height="8"/><rect x="562.1" y="1387" width="2.2" height="8"/><rect x="582.3" y="1387" width="2.2" height="8"/><rect x="602.6" y="1387" width="2.2" height="8"/><rect x="622.9" y="1387" width="2.2" height="11"/><rect x="643.2" y="1387" width="2.2" height="8"/><rect x="663.5" y="1387" width="2.2" height="8"/><rect x="683.7" y="1387" width="2.2" height="8"/><rect x="704.0" y="1387" width="2.2" height="8"/><rect x="724.3" y="1387" width="2.2" height="14"/><rect x="744.6" y="1387" width="2.2" height="8"/><rect x="764.9" y="1387" width="2.2" height="8"/><rect x="785.1" y="1387" width="2.2" height="8"/><rect x="805.4" y="1387" width="2.2" height="8"/><rect x="825.7" y="1387" width="2.2" height="11"/><rect x="846.0" y="1387" width="2.2" height="8"/><rect x="866.3" y="1387" width="2.2" height="8"/><rect x="886.5" y="1387" width="2.2" height="8"/><rect x="906.8" y="1387" width="2.2" height="8"/><rect x="927.1" y="1387" width="2.2" height="14"/><rect x="947.4" y="1387" width="2.2" height="8"/><rect x="967.7" y="1387" width="2.2" height="8"/><rect x="987.9" y="1387" width="2.2" height="8"/><rect x="1008.2" y="1387" width="2.2" height="8"/><rect x="1028.5" y="1387" width="2.2" height="11"/><rect x="1048.8" y="1387" width="2.2" height="8"/><rect x="1069.1" y="1387" width="2.2" height="8"/><rect x="1089.3" y="1387" width="2.2" height="8"/><rect x="1109.6" y="1387" width="2.2" height="8"/><rect x="1129.9" y="1387" width="2.2" height="14"/><rect x="1150.2" y="1387" width="2.2" height="8"/><rect x="1170.5" y="1387" width="2.2" height="8"/><rect x="1190.7" y="1387" width="2.2" height="8"/><rect x="1211.0" y="1387" width="2.2" height="8"/><rect x="1231.3" y="1387" width="2.2" height="11"/><rect x="1251.6" y="1387" width="2.2" height="8"/><rect x="1271.9" y="1387" width="2.2" height="8"/><rect x="1292.1" y="1387" width="2.2" height="8"/><rect x="1312.4" y="1387" width="2.2" height="8"/><rect x="1332.7" y="1387" width="2.2" height="14"/><rect x="1353.0" y="1387" width="2.2" height="8"/><rect x="1373.3" y="1387" width="2.2" height="8"/><rect x="1393.5" y="1387" width="2.2" height="8"/><rect x="1413.8" y="1387" width="2.2" height="8"/><rect x="1434.1" y="1387" width="2.2" height="11"/></g>
<g fill="#2a2a2a" stroke="#2a2a2a" stroke-width="0.7" font-family="Liberation Sans, sans-serif" font-size="33" text-anchor="middle">
<text x="113.5" y="1445.0" transform="translate(113.5 0) scale(1.05 1) translate(-113.5 0)">0</text>
<text x="316.3" y="1445.0" transform="translate(316.3 0) scale(1.05 1) translate(-316.3 0)">1</text>
<text x="519.1" y="1445.0" transform="translate(519.1 0) scale(1.05 1) translate(-519.1 0)">2</text>
<text x="721.9" y="1445.0" transform="translate(721.9 0) scale(1.05 1) translate(-721.9 0)">3</text>
<text x="924.7" y="1445.0" transform="translate(924.7 0) scale(1.05 1) translate(-924.7 0)">4</text>
<text x="1127.5" y="1445.0" transform="translate(1127.5 0) scale(1.05 1) translate(-1127.5 0)">5</text>
<text x="1330.3" y="1445.0" transform="translate(1330.3 0) scale(1.05 1) translate(-1330.3 0)">6</text>
<text x="1411.5" y="1494.0" transform="translate(1411.5 0) scale(1.05 1) translate(-1411.5 0)">keV</text>
</g>
<text x="27.8" y="846" fill="#f4f8ff" font-family="Liberation Serif, serif" font-size="82">(b)</text>
</svg>
</body></html>
